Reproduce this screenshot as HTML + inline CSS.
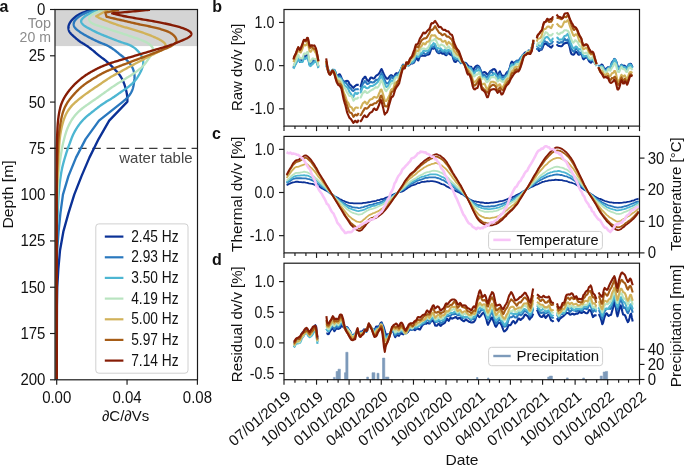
<!DOCTYPE html><html><head><meta charset="utf-8"><title>dv/v figure</title><style>html,body{margin:0;padding:0;background:#fff;width:685px;height:465px;overflow:hidden}svg text{font-family:"Liberation Sans",sans-serif}</style></head><body>
<svg width="685" height="465" viewBox="0 0 685 465" style="display:block;will-change:transform">
<rect width="685" height="465" fill="#fff"/>
<rect x="55.0" y="9.5" width="142.5" height="36.6" fill="#d4d4d4"/>
<line x1="49.9" y1="148.4" x2="197.5" y2="148.4" stroke="#3a3a3a" stroke-width="1.4" stroke-dasharray="8.4 5.77"/>
<defs><clipPath id="ca"><rect x="55.0" y="9.5" width="142.5" height="370.3"/></clipPath></defs>
<g fill="none" stroke-width="2.35" stroke-linejoin="round" clip-path="url(#ca)">
<path d="M90.5,9.8 L89.84,10.05 L88.93,10.38 L87.85,10.77 L86.6,11.22 L85.16,11.75 L83.65,12.33 L82.19,12.93 L80.79,13.54 L79.57,14.13 L78.54,14.68 L77.65,15.21 L76.81,15.76 L76.01,16.33 L75.24,16.92 L74.5,17.54 L73.81,18.15 L73.16,18.77 L72.54,19.39 L71.98,19.99 L71.45,20.6 L70.97,21.2 L70.53,21.81 L70.11,22.44 L69.74,23.08 L69.4,23.72 L69.12,24.35 L68.88,24.95 L68.7,25.52 L68.58,26.04 L68.49,26.5 L68.44,26.92 L68.42,27.29 L68.41,27.62 L68.42,27.92 L68.44,28.21 L68.47,28.49 L68.51,28.77 L68.55,29.03 L68.6,29.3 L68.66,29.57 L68.73,29.83 L68.79,30.07 L68.86,30.31 L68.94,30.54 L69.02,30.77 L69.11,31 L69.21,31.24 L69.33,31.49 L69.47,31.75 L69.64,32.05 L69.84,32.36 L70.07,32.69 L70.33,33.02 L70.62,33.38 L70.96,33.75 L71.33,34.12 L71.74,34.52 L72.18,34.93 L72.64,35.35 L73.14,35.8 L73.68,36.27 L74.26,36.79 L74.88,37.35 L75.52,37.92 L76.19,38.52 L76.87,39.11 L77.55,39.69 L78.23,40.25 L78.91,40.77 L79.57,41.26 L80.22,41.72 L80.88,42.17 L81.56,42.6 L82.24,43.02 L82.93,43.43 L83.63,43.85 L84.32,44.27 L85.02,44.7 L85.73,45.15 L86.43,45.61 L87.14,46.09 L87.86,46.59 L88.58,47.11 L89.32,47.65 L90.04,48.2 L90.77,48.76 L91.49,49.32 L92.19,49.87 L92.87,50.42 L93.54,50.96 L94.18,51.49 L94.81,52.02 L95.41,52.53 L96.01,53.04 L96.6,53.56 L97.2,54.07 L97.81,54.59 L98.43,55.11 L99.06,55.63 L99.72,56.16 L100.38,56.67 L101.02,57.15 L101.67,57.62 L102.31,58.08 L102.97,58.55 L103.62,59.02 L104.3,59.53 L105,60.07 L105.74,60.66 L106.5,61.29 L107.32,62.01 L108.23,62.85 L109.17,63.74 L110.14,64.69 L111.12,65.66 L112.09,66.65 L113.02,67.61 L113.93,68.56 L114.75,69.43 L115.5,70.22 L116.14,70.91 L116.73,71.55 L117.27,72.15 L117.76,72.7 L118.22,73.23 L118.65,73.75 L119.06,74.27 L119.47,74.81 L119.89,75.38 L120.31,76 L120.73,76.65 L121.15,77.32 L121.55,78.01 L121.93,78.72 L122.3,79.43 L122.65,80.14 L122.98,80.85 L123.29,81.56 L123.59,82.26 L123.87,82.96 L124.14,83.65 L124.39,84.35 L124.63,85.06 L124.86,85.77 L125.07,86.47 L125.28,87.19 L125.48,87.89 L125.67,88.58 L125.84,89.26 L126.01,89.91 L126.17,90.55 L126.31,91.17 L126.45,91.77 L126.57,92.36 L126.69,92.92 L126.79,93.49 L126.89,94.05 L126.98,94.61 L127.06,95.17 L127.13,95.77 L127.19,96.39 L127.24,97.05 L127.29,97.74 L127.34,98.47 L127.37,99.18 L127.38,99.81 L127.39,100.37 L127.39,100.86 L127.39,101.28 L127.4,101.6 L127.21,101.8 L126.98,102.06 L126.96,102.08 L109.2,120.59 L98.6,139.1 L89.4,157.62 L81.52,176.13 L74.25,194.65 L68.47,213.16 L63.34,231.68 L60.03,250.19 L58.35,268.71 L57.24,287.23 L56.96,305.74 L56.9,324.25 L56.86,342.77 L56.83,361.29 L56.8,379.8" stroke="#0b3196"/>
<path d="M94,9.8 L93.33,10.06 L92.43,10.39 L91.34,10.79 L90.07,11.26 L88.62,11.81 L87.1,12.4 L85.61,13 L84.22,13.6 L82.99,14.18 L81.99,14.69 L81.13,15.18 L80.31,15.68 L79.54,16.19 L78.79,16.72 L78.09,17.26 L77.44,17.81 L76.83,18.35 L76.27,18.89 L75.78,19.42 L75.35,19.93 L74.98,20.42 L74.68,20.88 L74.43,21.31 L74.23,21.73 L74.07,22.12 L73.94,22.49 L73.84,22.86 L73.77,23.2 L73.73,23.53 L73.7,23.85 L73.69,24.15 L73.7,24.43 L73.72,24.7 L73.75,24.95 L73.8,25.2 L73.85,25.44 L73.91,25.67 L73.98,25.9 L74.06,26.12 L74.15,26.34 L74.24,26.54 L74.33,26.72 L74.42,26.89 L74.51,27.05 L74.62,27.22 L74.74,27.41 L74.89,27.61 L75.07,27.84 L75.3,28.11 L75.61,28.44 L75.99,28.82 L76.48,29.27 L77.07,29.78 L77.74,30.32 L78.46,30.87 L79.2,31.41 L79.93,31.92 L80.64,32.41 L81.36,32.89 L82.07,33.34 L82.77,33.78 L83.5,34.22 L84.26,34.67 L85.04,35.11 L85.85,35.57 L86.66,36.02 L87.48,36.46 L88.31,36.9 L89.14,37.34 L89.97,37.78 L90.82,38.21 L91.68,38.66 L92.56,39.1 L93.45,39.55 L94.35,39.99 L95.26,40.43 L96.16,40.87 L97.06,41.29 L97.95,41.69 L98.83,42.08 L99.71,42.45 L100.6,42.81 L101.49,43.17 L102.39,43.52 L103.29,43.86 L104.18,44.21 L105.05,44.56 L105.9,44.92 L106.72,45.3 L107.53,45.68 L108.3,46.08 L109.06,46.5 L109.81,46.93 L110.54,47.37 L111.26,47.81 L111.97,48.28 L112.65,48.73 L113.31,49.2 L113.96,49.66 L114.58,50.11 L115.17,50.55 L115.71,50.97 L116.22,51.38 L116.7,51.78 L117.18,52.17 L117.65,52.57 L118.13,52.97 L118.63,53.39 L119.15,53.83 L119.72,54.29 L120.32,54.77 L120.95,55.26 L121.59,55.76 L122.26,56.27 L122.93,56.79 L123.59,57.32 L124.24,57.84 L124.88,58.39 L125.51,58.94 L126.13,59.51 L126.74,60.09 L127.36,60.72 L127.98,61.37 L128.6,62.05 L129.21,62.75 L129.79,63.46 L130.34,64.18 L130.85,64.89 L131.32,65.6 L131.74,66.3 L132.13,67.01 L132.48,67.73 L132.81,68.48 L133.12,69.24 L133.4,70.03 L133.64,70.82 L133.86,71.6 L134.05,72.37 L134.2,73.13 L134.33,73.85 L134.42,74.53 L134.48,75.17 L134.52,75.76 L134.54,76.35 L134.54,76.92 L134.53,77.52 L134.5,78.13 L134.45,78.77 L134.39,79.47 L134.31,80.24 L134.21,81.09 L134.08,82.03 L133.93,83.06 L133.77,84.11 L133.58,85.2 L133.36,86.25 L133.13,87.3 L132.88,88.26 L132.6,89.16 L132.32,89.96 L132.04,90.68 L131.72,91.38 L131.39,92.04 L131.04,92.67 L130.67,93.29 L130.28,93.89 L129.9,94.46 L129.52,95 L129.14,95.5 L128.78,95.97 L128.45,96.37 L128.15,96.73 L127.87,97.05 L127.6,97.34 L127.34,97.61 L127.07,97.89 L126.79,98.17 L126.48,98.46 L126.14,98.78 L125.75,99.14 L125.34,99.52 L124.9,99.9 L124.45,100.3 L123.99,100.7 L123.5,101.11 L123,101.53 L122.47,101.96 L122.32,102.08 L99,120.59 L85.6,139.1 L76,157.62 L68.44,176.13 L62.95,194.65 L60.43,213.16 L58.56,231.68 L57.19,250.19 L56.71,268.71 L56.66,287.23 L56.67,305.74 L56.69,324.25 L56.73,342.77 L56.77,361.29 L56.8,379.8" stroke="#2a78be"/>
<path d="M97.6,9.8 L96.97,10.1 L96.1,10.5 L95.06,10.98 L93.84,11.55 L92.45,12.2 L91,12.89 L89.57,13.6 L88.23,14.29 L87.09,14.94 L86.18,15.49 L85.42,16 L84.75,16.5 L84.12,17.01 L83.54,17.52 L83.02,18.03 L82.57,18.5 L82.18,18.95 L81.88,19.35 L81.63,19.7 L81.45,20.01 L81.32,20.28 L81.23,20.49 L81.18,20.68 L81.14,20.84 L81.12,20.97 L81.11,21.1 L81.1,21.23 L81.11,21.37 L81.13,21.53 L81.16,21.72 L81.22,21.94 L81.31,22.19 L81.44,22.48 L81.62,22.81 L81.85,23.17 L82.14,23.56 L82.48,23.97 L82.87,24.39 L83.3,24.81 L83.75,25.21 L84.24,25.6 L84.75,25.97 L85.27,26.33 L85.84,26.69 L86.43,27.05 L87.06,27.41 L87.7,27.77 L88.38,28.14 L89.09,28.52 L89.83,28.91 L90.62,29.32 L91.44,29.75 L92.32,30.21 L93.25,30.69 L94.19,31.16 L95.16,31.65 L96.11,32.11 L97.06,32.57 L97.98,33 L98.87,33.41 L99.74,33.79 L100.59,34.15 L101.44,34.51 L102.3,34.86 L103.16,35.2 L104.02,35.54 L104.88,35.88 L105.73,36.21 L106.59,36.55 L107.46,36.89 L108.35,37.24 L109.27,37.61 L110.21,37.99 L111.16,38.37 L112.11,38.75 L113.07,39.13 L114.02,39.5 L114.92,39.86 L115.79,40.19 L116.58,40.49 L117.28,40.75 L117.9,40.98 L118.44,41.18 L118.96,41.36 L119.45,41.54 L119.94,41.71 L120.45,41.88 L120.99,42.07 L121.59,42.27 L122.26,42.5 L123.02,42.75 L123.86,43.02 L124.73,43.3 L125.65,43.59 L126.56,43.89 L127.47,44.2 L128.36,44.53 L129.21,44.87 L130.03,45.23 L130.8,45.61 L131.54,46 L132.27,46.43 L132.99,46.89 L133.7,47.38 L134.4,47.89 L135.07,48.41 L135.72,48.95 L136.34,49.5 L136.93,50.05 L137.49,50.6 L138.03,51.16 L138.54,51.73 L139.02,52.31 L139.49,52.91 L139.93,53.51 L140.35,54.12 L140.74,54.74 L141.11,55.36 L141.43,55.97 L141.74,56.59 L142.02,57.21 L142.27,57.82 L142.5,58.44 L142.7,59.06 L142.87,59.69 L143.01,60.32 L143.12,60.95 L143.19,61.6 L143.24,62.25 L143.24,62.92 L143.21,63.6 L143.15,64.3 L143.04,65 L142.9,65.72 L142.72,66.44 L142.51,67.18 L142.26,67.94 L141.98,68.73 L141.67,69.52 L141.33,70.32 L140.94,71.17 L140.5,72.09 L140.02,73.03 L139.5,74 L138.94,74.98 L138.36,75.96 L137.76,76.91 L137.15,77.83 L136.52,78.71 L135.91,79.52 L135.29,80.29 L134.66,81.03 L134.01,81.74 L133.35,82.43 L132.68,83.1 L131.99,83.76 L131.27,84.41 L130.54,85.06 L129.79,85.7 L129.01,86.34 L128.22,86.97 L127.38,87.61 L126.54,88.23 L125.68,88.84 L124.8,89.44 L123.92,90.04 L123.03,90.63 L122.15,91.23 L121.27,91.82 L120.41,92.41 L119.55,93.01 L118.68,93.62 L117.82,94.23 L116.96,94.84 L116.09,95.45 L115.23,96.06 L114.36,96.66 L113.5,97.24 L112.64,97.82 L111.78,98.38 L110.91,98.93 L110.04,99.48 L109.15,100.01 L108.25,100.55 L107.36,101.07 L106.48,101.6 L105.61,102.12 L104.77,102.63 L103.96,103.15 L103.18,103.66 L102.41,104.18 L101.65,104.72 L100.88,105.28 L100.12,105.85 L99.37,106.42 L98.62,107 L97.88,107.56 L97.19,108.1 L96.55,108.6 L95.99,109.04 L95.52,109.4 L95.14,109.69 L94.83,109.93 L94.55,110.15 L94.3,110.35 L94.03,110.56 L93.74,110.79 L93.41,111.05 L93,111.38 L92.48,111.79 L91.85,112.29 L91.09,112.89 L90.25,113.56 L89.38,114.25 L88.48,114.97 L87.62,115.68 L86.75,116.41 L85.92,117.13 L85.14,117.85 L84.41,118.56 L83.71,119.26 L83.02,119.98 L82.35,120.72 L81.68,121.48 L81.02,122.26 L80.37,123.04 L79.74,123.85 L79.12,124.66 L78.52,125.48 L77.93,126.31 L77.36,127.16 L76.8,128.02 L76.25,128.9 L75.72,129.79 L75.2,130.69 L74.69,131.61 L74.2,132.52 L73.74,133.44 L73.29,134.35 L72.86,135.27 L72.43,136.23 L72,137.26 L71.57,138.35 L71.15,139.49 L70.71,140.7 L70.24,142 L69.78,143.26 L69.39,144.3 L69.11,145.01 L68.93,145.45 L68.83,145.71 L68.77,145.84 L68.74,145.91 L68.73,145.94 L68.72,145.97 L68.7,146.01 L68.67,146.1 L68.6,146.27 L68.48,146.58 L68.24,147.24 L67.76,148.63 L67.06,150.77 L66.36,152.96 L65.71,155.04 L65.03,157.25 L64.36,159.53 L63.69,161.86 L63.07,164.21 L62.5,166.52 L62.01,168.73 L61.59,170.89 L61.19,173.07 L60.83,175.28 L60.5,177.52 L60.19,179.79 L59.9,182.1 L59.63,184.46 L59.38,186.87 L59.14,189.33 L58.91,191.86 L58.7,194.47 L58.51,197.14 L58.34,199.88 L58.19,202.67 L58.05,205.51 L57.93,208.38 L57.82,211.27 L57.71,214.18 L57.6,217.12 L57.48,220.3 L57.37,222.91 L57.28,224.6 L57.22,225.81 L57.16,226.92 L57.09,228.3 L57.02,230.28 L56.95,233.21 L56.89,237.29 L56.84,242.84 L56.8,250 L56.77,259.47 L56.76,271.53 L56.75,285.49 L56.75,300.66 L56.76,316.38 L56.77,331.94 L56.78,346.66 L56.79,359.87 L56.8,370.88 L56.8,379" stroke="#4db6d2"/>
<path d="M103,9.8 L102.4,10.04 L101.57,10.37 L100.57,10.75 L99.4,11.21 L98.08,11.74 L96.64,12.33 L95.26,12.93 L93.97,13.53 L92.91,14.1 L92.07,14.61 L91.44,15.05 L90.91,15.47 L90.47,15.88 L90.11,16.26 L89.82,16.63 L89.6,16.97 L89.42,17.3 L89.28,17.62 L89.18,17.93 L89.11,18.23 L89.08,18.53 L89.06,18.84 L89.08,19.16 L89.13,19.48 L89.21,19.81 L89.33,20.15 L89.47,20.49 L89.65,20.84 L89.87,21.17 L90.11,21.49 L90.37,21.81 L90.67,22.12 L91.02,22.44 L91.39,22.75 L91.81,23.05 L92.26,23.35 L92.75,23.64 L93.27,23.92 L93.81,24.19 L94.38,24.44 L94.96,24.67 L95.56,24.89 L96.16,25.1 L96.81,25.3 L97.46,25.5 L98.15,25.69 L98.86,25.89 L99.61,26.11 L100.39,26.33 L101.21,26.58 L102.07,26.84 L102.96,27.14 L103.9,27.45 L104.87,27.79 L105.86,28.13 L106.86,28.48 L107.89,28.84 L108.91,29.19 L109.93,29.53 L110.95,29.87 L112,30.22 L113.09,30.57 L114.22,30.93 L115.38,31.3 L116.55,31.67 L117.71,32.04 L118.86,32.4 L119.99,32.76 L121.07,33.1 L122.11,33.44 L123.09,33.76 L124.04,34.07 L124.96,34.37 L125.87,34.67 L126.75,34.97 L127.61,35.26 L128.47,35.55 L129.32,35.83 L130.17,36.12 L131.02,36.41 L131.89,36.7 L132.73,36.99 L133.57,37.28 L134.4,37.57 L135.22,37.85 L136.03,38.14 L136.82,38.42 L137.6,38.7 L138.36,38.97 L139.1,39.24 L139.82,39.51 L140.52,39.77 L141.2,40.02 L141.88,40.29 L142.53,40.54 L143.15,40.8 L143.77,41.06 L144.38,41.33 L144.97,41.61 L145.56,41.9 L146.13,42.19 L146.69,42.5 L147.23,42.81 L147.76,43.13 L148.28,43.46 L148.78,43.8 L149.25,44.14 L149.7,44.49 L150.12,44.84 L150.52,45.2 L150.91,45.57 L151.28,45.96 L151.63,46.36 L151.95,46.77 L152.24,47.18 L152.49,47.58 L152.71,47.97 L152.88,48.35 L153.02,48.7 L153.12,49.03 L153.19,49.34 L153.24,49.64 L153.27,49.91 L153.28,50.19 L153.28,50.47 L153.25,50.75 L153.21,51.06 L153.14,51.38 L153.04,51.74 L152.91,52.12 L152.74,52.53 L152.54,52.96 L152.3,53.41 L152.02,53.87 L151.71,54.37 L151.36,54.88 L150.98,55.42 L150.55,56 L150.1,56.61 L149.61,57.27 L149.1,57.99 L148.54,58.77 L147.95,59.62 L147.34,60.51 L146.71,61.42 L146.06,62.33 L145.38,63.24 L144.69,64.12 L143.98,64.95 L143.25,65.75 L142.51,66.51 L141.73,67.26 L140.91,68 L140.06,68.74 L139.18,69.46 L138.28,70.18 L137.36,70.89 L136.42,71.59 L135.48,72.27 L134.52,72.96 L133.54,73.64 L132.54,74.31 L131.51,74.97 L130.46,75.64 L129.4,76.3 L128.33,76.95 L127.25,77.61 L126.17,78.26 L125.1,78.93 L124.02,79.59 L122.93,80.27 L121.83,80.96 L120.71,81.66 L119.58,82.37 L118.46,83.08 L117.33,83.79 L116.21,84.51 L115.11,85.22 L114.03,85.93 L112.99,86.63 L111.96,87.33 L110.94,88.04 L109.92,88.75 L108.91,89.47 L107.92,90.19 L106.94,90.9 L105.97,91.6 L105.01,92.29 L104.09,92.96 L103.16,93.62 L102.25,94.27 L101.35,94.92 L100.45,95.56 L99.56,96.19 L98.69,96.81 L97.82,97.43 L96.97,98.03 L96.13,98.62 L95.32,99.19 L94.52,99.75 L93.74,100.29 L92.98,100.82 L92.25,101.32 L91.53,101.82 L90.82,102.3 L90.13,102.78 L89.44,103.25 L88.76,103.72 L88.1,104.18 L87.43,104.65 L86.78,105.1 L86.16,105.54 L85.57,105.96 L84.99,106.37 L84.43,106.78 L83.87,107.19 L83.31,107.61 L82.75,108.04 L82.18,108.49 L81.59,108.98 L80.98,109.48 L80.37,110.01 L79.75,110.56 L79.14,111.12 L78.54,111.69 L77.94,112.27 L77.35,112.86 L76.77,113.47 L76.2,114.09 L75.65,114.71 L75.11,115.35 L74.58,116.01 L74.06,116.67 L73.54,117.36 L73.04,118.05 L72.54,118.77 L72.05,119.5 L71.58,120.24 L71.11,121 L70.66,121.78 L70.21,122.58 L69.77,123.4 L69.34,124.25 L68.91,125.11 L68.5,125.99 L68.09,126.88 L67.71,127.78 L67.33,128.69 L66.98,129.59 L66.65,130.48 L66.32,131.4 L66.01,132.34 L65.7,133.32 L65.41,134.3 L65.13,135.29 L64.86,136.3 L64.59,137.31 L64.33,138.32 L64.08,139.29 L63.83,140.23 L63.62,141.04 L63.45,141.7 L63.31,142.27 L63.17,142.81 L63.04,143.34 L62.9,143.94 L62.74,144.64 L62.56,145.5 L62.34,146.58 L62.09,147.97 L61.8,149.62 L61.49,151.42 L61.16,153.38 L60.82,155.42 L60.48,157.58 L60.15,159.77 L59.83,162.01 L59.52,164.27 L59.25,166.53 L59.01,168.74 L58.8,170.87 L58.61,172.93 L58.45,174.97 L58.31,177.02 L58.17,179.13 L58.05,181.33 L57.93,183.66 L57.82,186.15 L57.71,188.88 L57.59,192.02 L57.48,194.85 L57.38,196.93 L57.3,198.71 L57.21,200.55 L57.13,202.77 L57.05,205.69 L56.97,209.62 L56.9,214.85 L56.84,221.63 L56.8,230 L56.77,241.08 L56.75,255.09 L56.74,271.24 L56.74,288.77 L56.75,306.88 L56.76,324.8 L56.77,341.76 L56.79,356.96 L56.8,369.64 L56.8,379" stroke="#b9e4c0"/>
<path d="M108,9.8 L96.2,16.2 L96.5,16.36 L96.85,16.56 L97.24,16.79 L97.67,17.04 L98.16,17.31 L98.7,17.59 L99.28,17.88 L99.96,18.22 L100.75,18.59 L101.65,19 L102.68,19.44 L103.88,19.93 L105.24,20.45 L106.68,20.98 L108.13,21.52 L109.59,22.04 L111.06,22.57 L112.46,23.07 L113.73,23.52 L114.84,23.92 L115.78,24.26 L116.6,24.56 L117.36,24.82 L118.02,25.06 L118.65,25.28 L119.27,25.49 L119.87,25.69 L120.5,25.9 L121.18,26.12 L121.92,26.35 L122.7,26.59 L123.51,26.82 L124.32,27.06 L125.14,27.28 L125.95,27.5 L126.76,27.72 L127.57,27.94 L128.38,28.16 L129.18,28.38 L129.99,28.61 L130.8,28.83 L131.61,29.06 L132.42,29.3 L133.24,29.53 L134.05,29.77 L134.87,30.01 L135.68,30.26 L136.49,30.51 L137.29,30.76 L138.09,31.01 L138.89,31.28 L139.7,31.55 L140.51,31.83 L141.33,32.11 L142.14,32.4 L142.95,32.69 L143.75,32.98 L144.53,33.26 L145.3,33.55 L146.06,33.82 L146.81,34.1 L147.53,34.37 L148.24,34.64 L148.94,34.9 L149.63,35.16 L150.31,35.43 L150.98,35.7 L151.66,35.97 L152.32,36.24 L152.99,36.52 L153.68,36.8 L154.36,37.1 L155.06,37.4 L155.75,37.71 L156.44,38.03 L157.11,38.34 L157.77,38.66 L158.4,38.97 L159.02,39.29 L159.6,39.6 L160.18,39.92 L160.74,40.25 L161.3,40.58 L161.84,40.93 L162.37,41.28 L162.87,41.64 L163.33,42 L163.75,42.35 L164.11,42.69 L164.43,43.01 L164.71,43.32 L164.93,43.61 L165.13,43.9 L165.29,44.17 L165.41,44.42 L165.51,44.66 L165.58,44.89 L165.63,45.12 L165.67,45.33 L165.68,45.55 L165.68,45.77 L165.66,45.99 L165.62,46.23 L165.56,46.47 L165.46,46.73 L165.35,46.99 L165.2,47.26 L165.03,47.53 L164.82,47.81 L164.6,48.09 L164.34,48.35 L164.08,48.59 L163.8,48.83 L163.49,49.06 L163.16,49.29 L162.76,49.54 L162.32,49.8 L161.8,50.09 L161.19,50.41 L160.48,50.77 L159.64,51.19 L158.68,51.66 L157.63,52.19 L156.54,52.73 L155.43,53.28 L154.29,53.85 L153.16,54.41 L152.05,54.97 L150.98,55.51 L149.96,56.02 L148.98,56.53 L147.99,57.03 L147,57.55 L146,58.06 L145,58.58 L144,59.1 L143,59.63 L142,60.15 L141,60.68 L140,61.2 L139,61.73 L138,62.25 L137,62.78 L136,63.3 L135,63.83 L134,64.36 L133,64.89 L132,65.43 L131,65.96 L130.01,66.5 L129.01,67.04 L128,67.59 L127,68.14 L126,68.69 L125,69.24 L124,69.79 L123,70.34 L121.99,70.9 L120.99,71.45 L119.98,72 L118.98,72.54 L118,73.07 L117.04,73.58 L116.08,74.09 L115.12,74.61 L114.16,75.12 L113.18,75.67 L112.18,76.23 L111.16,76.83 L110.1,77.47 L108.99,78.16 L107.86,78.88 L106.7,79.65 L105.52,80.44 L104.33,81.25 L103.14,82.07 L101.96,82.89 L100.79,83.69 L99.65,84.48 L98.55,85.23 L97.48,85.95 L96.43,86.66 L95.39,87.35 L94.36,88.04 L93.34,88.73 L92.33,89.41 L91.32,90.1 L90.32,90.79 L89.32,91.49 L88.32,92.2 L87.31,92.92 L86.28,93.66 L85.26,94.41 L84.23,95.16 L83.21,95.92 L82.19,96.69 L81.21,97.45 L80.25,98.2 L79.32,98.95 L78.43,99.67 L77.59,100.37 L76.77,101.06 L75.98,101.74 L75.2,102.42 L74.46,103.1 L73.74,103.78 L73.04,104.46 L72.36,105.17 L71.69,105.89 L71.04,106.64 L70.4,107.41 L69.79,108.19 L69.21,108.98 L68.65,109.77 L68.11,110.59 L67.58,111.42 L67.08,112.27 L66.6,113.14 L66.13,114.04 L65.67,114.97 L65.24,115.94 L64.82,116.94 L64.42,117.97 L64.03,119.03 L63.67,120.12 L63.32,121.21 L63,122.3 L62.69,123.39 L62.39,124.47 L62.12,125.52 L61.86,126.57 L61.61,127.63 L61.38,128.71 L61.16,129.79 L60.95,130.88 L60.76,131.97 L60.57,133.04 L60.4,134.11 L60.24,135.16 L60.09,136.18 L59.96,137.11 L59.85,137.92 L59.76,138.69 L59.68,139.42 L59.6,140.13 L59.53,140.89 L59.46,141.68 L59.39,142.56 L59.31,143.58 L59.22,144.74 L59.14,146.03 L59.05,147.38 L58.97,148.77 L58.89,150.21 L58.81,151.71 L58.73,153.26 L58.65,154.88 L58.57,156.53 L58.49,158.23 L58.4,159.97 L58.31,161.72 L58.23,163.49 L58.14,165.27 L58.05,167.1 L57.96,168.97 L57.86,170.94 L57.77,173.01 L57.68,175.2 L57.59,177.62 L57.45,180.62 L57.33,182.62 L57.26,183.44 L57.22,183.9 L57.18,184.34 L57.12,185.04 L57.02,186.6 L56.89,189.81 L56.81,194.61 L56.74,201.33 L56.7,210 L56.67,222.03 L56.66,237.61 L56.67,255.81 L56.68,275.7 L56.7,296.38 L56.72,316.9 L56.75,336.34 L56.77,353.79 L56.79,368.32 L56.8,379" stroke="#d1b25a"/>
<path d="M119,9.8 L105.4,12.7 L106.5,16.8 L107.27,16.97 L108.26,17.2 L109.43,17.47 L110.79,17.78 L112.39,18.14 L114.04,18.52 L115.75,18.91 L117.42,19.29 L119.02,19.66 L120.52,20.01 L121.98,20.35 L123.5,20.7 L125.06,21.07 L126.65,21.44 L128.25,21.82 L129.85,22.19 L131.44,22.56 L133.01,22.92 L134.54,23.27 L136.05,23.6 L137.52,23.92 L138.98,24.23 L140.45,24.53 L141.88,24.82 L143.32,25.11 L144.74,25.4 L146.12,25.68 L147.48,25.96 L148.79,26.24 L150.06,26.52 L151.31,26.8 L152.53,27.08 L153.71,27.35 L154.87,27.63 L156,27.9 L157.1,28.18 L158.17,28.45 L159.2,28.72 L160.19,28.99 L161.16,29.26 L162.07,29.53 L162.92,29.79 L163.75,30.05 L164.53,30.3 L165.27,30.56 L165.98,30.82 L166.67,31.09 L167.33,31.36 L167.98,31.64 L168.62,31.94 L169.22,32.24 L169.8,32.54 L170.34,32.85 L170.86,33.17 L171.36,33.49 L171.82,33.81 L172.27,34.14 L172.71,34.47 L173.12,34.82 L173.52,35.18 L173.91,35.55 L174.29,35.95 L174.66,36.36 L175,36.78 L175.31,37.21 L175.58,37.62 L175.81,38.02 L176,38.41 L176.15,38.76 L176.26,39.09 L176.35,39.39 L176.4,39.68 L176.44,39.94 L176.45,40.21 L176.44,40.46 L176.42,40.71 L176.37,40.96 L176.31,41.22 L176.21,41.49 L176.09,41.78 L175.92,42.09 L175.71,42.43 L175.44,42.78 L175.1,43.16 L174.71,43.55 L174.25,43.95 L173.75,44.36 L173.21,44.75 L172.65,45.12 L172.08,45.48 L171.52,45.82 L171,46.11 L170.48,46.39 L169.96,46.67 L169.41,46.94 L168.8,47.23 L168.11,47.56 L167.33,47.9 L166.4,48.3 L165.32,48.75 L164.11,49.25 L162.8,49.76 L161.4,50.31 L159.94,50.87 L158.41,51.44 L156.81,52.04 L155.17,52.65 L153.5,53.28 L151.8,53.92 L150.11,54.56 L148.28,55.25 L146.26,56.02 L144.09,56.84 L141.89,57.68 L139.67,58.52 L137.47,59.36 L135.31,60.18 L133.27,60.96 L131.36,61.68 L129.71,62.31 L128.27,62.86 L127.03,63.33 L125.98,63.73 L125.05,64.08 L124.22,64.4 L123.45,64.69 L122.7,64.97 L121.92,65.27 L121.08,65.59 L120.12,65.95 L119.09,66.34 L118.02,66.74 L116.95,67.14 L115.9,67.53 L114.85,67.92 L113.82,68.31 L112.78,68.71 L111.79,69.1 L110.82,69.48 L109.9,69.86 L109.02,70.23 L108.17,70.59 L107.37,70.94 L106.58,71.3 L105.8,71.65 L105.04,72.01 L104.28,72.37 L103.53,72.75 L102.77,73.13 L102,73.53 L101.24,73.94 L100.5,74.35 L99.78,74.76 L99.06,75.19 L98.34,75.61 L97.62,76.04 L96.9,76.48 L96.17,76.93 L95.43,77.39 L94.65,77.86 L93.87,78.34 L93.06,78.84 L92.22,79.34 L91.38,79.86 L90.54,80.38 L89.69,80.91 L88.86,81.44 L88.05,81.98 L87.26,82.51 L86.49,83.04 L85.74,83.58 L85,84.12 L84.27,84.68 L83.54,85.24 L82.83,85.8 L82.11,86.38 L81.42,86.96 L80.75,87.54 L80.09,88.11 L79.46,88.68 L78.85,89.25 L78.27,89.8 L77.72,90.34 L77.19,90.88 L76.66,91.42 L76.14,91.97 L75.63,92.52 L75.11,93.08 L74.58,93.66 L74.04,94.26 L73.49,94.88 L72.93,95.51 L72.36,96.15 L71.8,96.81 L71.24,97.47 L70.69,98.13 L70.15,98.81 L69.62,99.48 L69.12,100.16 L68.63,100.84 L68.16,101.52 L67.7,102.22 L67.26,102.93 L66.82,103.65 L66.4,104.37 L65.99,105.1 L65.6,105.84 L65.23,106.58 L64.87,107.32 L64.53,108.05 L64.22,108.78 L63.92,109.51 L63.65,110.24 L63.38,110.97 L63.13,111.7 L62.9,112.43 L62.67,113.18 L62.45,113.93 L62.24,114.69 L62.04,115.47 L61.84,116.26 L61.66,117.07 L61.48,117.89 L61.3,118.71 L61.14,119.54 L60.98,120.37 L60.83,121.21 L60.69,122.04 L60.55,122.87 L60.41,123.7 L60.27,124.53 L60.14,125.36 L60.01,126.19 L59.88,127.03 L59.76,127.88 L59.64,128.74 L59.52,129.61 L59.4,130.49 L59.28,131.35 L59.18,132.18 L59.08,132.91 L59.01,133.51 L58.94,134.04 L58.89,134.53 L58.83,135.03 L58.77,135.61 L58.7,136.28 L58.62,137.13 L58.53,138.22 L58.43,139.6 L58.33,141.18 L58.24,142.75 L58.15,144.33 L58.05,146.03 L57.96,147.83 L57.87,149.82 L57.78,151.99 L57.68,154.39 L57.59,157.04 L57.49,160.17 L57.39,162.92 L57.3,164.69 L57.23,166.11 L57.15,167.59 L57.06,169.62 L56.97,172.57 L56.88,176.81 L56.8,182.68 L56.74,190.28 L56.7,200 L56.67,213.08 L56.66,229.77 L56.67,249.12 L56.68,270.18 L56.7,292 L56.72,313.62 L56.75,334.08 L56.77,352.43 L56.79,367.72 L56.8,379" stroke="#a65c16"/>
<path d="M150,9.8 L148.95,9.9 L147.58,10.03 L145.96,10.19 L143.93,10.38 L141.78,10.58 L139.52,10.8 L137.27,11.01 L135.04,11.22 L132.92,11.42 L131,11.6 L129.08,11.78 L126.97,11.97 L124.76,12.17 L122.54,12.37 L120.31,12.57 L118.18,12.76 L116.18,12.94 L114.59,13.09 L113.23,13.21 L112.2,13.3 L112.65,13.42 L113.2,13.57 L113.83,13.75 L114.53,13.94 L115.31,14.15 L116.19,14.38 L117.19,14.64 L118.31,14.91 L119.45,15.18 L120.64,15.45 L121.88,15.71 L123.22,15.98 L124.65,16.25 L126.16,16.53 L127.72,16.82 L129.35,17.11 L130.99,17.4 L132.67,17.7 L134.35,17.99 L136.03,18.29 L137.79,18.59 L139.66,18.91 L141.64,19.24 L143.68,19.58 L145.78,19.93 L147.81,20.26 L149.8,20.6 L151.7,20.92 L153.53,21.24 L155.18,21.54 L156.68,21.82 L158.07,22.08 L159.37,22.33 L160.6,22.58 L161.76,22.81 L162.88,23.05 L163.98,23.28 L165.05,23.51 L166.16,23.75 L167.3,24 L168.45,24.26 L169.6,24.52 L170.73,24.77 L171.84,25.03 L172.93,25.29 L174.01,25.55 L175.06,25.82 L176.09,26.09 L177.09,26.36 L178.06,26.64 L179.02,26.93 L179.96,27.22 L180.9,27.52 L181.82,27.83 L182.72,28.14 L183.59,28.46 L184.43,28.78 L185.22,29.1 L185.98,29.42 L186.7,29.74 L187.38,30.06 L188.06,30.4 L188.7,30.76 L189.29,31.13 L189.8,31.49 L190.23,31.85 L190.58,32.2 L190.84,32.51 L191.03,32.8 L191.16,33.05 L191.25,33.29 L191.31,33.5 L191.35,33.72 L191.36,33.92 L191.35,34.13 L191.31,34.34 L191.25,34.57 L191.17,34.81 L191.04,35.06 L190.88,35.33 L190.67,35.62 L190.37,35.95 L190,36.31 L189.54,36.68 L189.01,37.08 L188.41,37.46 L187.78,37.83 L187.15,38.18 L186.54,38.49 L185.97,38.77 L185.43,39.03 L184.93,39.26 L184.44,39.48 L183.95,39.69 L183.46,39.9 L182.93,40.12 L182.35,40.36 L181.73,40.61 L181.02,40.9 L180.23,41.23 L179.4,41.57 L178.6,41.91 L177.78,42.25 L176.96,42.61 L176.09,42.97 L175.14,43.36 L174.11,43.78 L172.96,44.23 L171.67,44.7 L170.23,45.2 L168.61,45.74 L166.8,46.32 L164.85,46.92 L162.8,47.53 L160.66,48.17 L158.49,48.81 L156.31,49.45 L154.13,50.08 L152.02,50.71 L150,51.3 L147.98,51.9 L145.87,52.52 L143.69,53.17 L141.51,53.81 L139.34,54.45 L137.2,55.08 L135.14,55.68 L133.19,56.26 L131.36,56.8 L129.7,57.29 L128.27,57.71 L127.02,58.09 L125.97,58.4 L125.05,58.68 L124.22,58.92 L123.45,59.16 L122.69,59.39 L121.92,59.62 L121.07,59.87 L120.11,60.16 L119.08,60.47 L118.05,60.78 L117.03,61.09 L116.01,61.39 L115.01,61.69 L114.01,62 L113.02,62.31 L112.02,62.63 L111.03,62.97 L110.03,63.31 L109.03,63.67 L108,64.05 L106.95,64.44 L105.91,64.84 L104.86,65.26 L103.82,65.68 L102.79,66.11 L101.8,66.53 L100.83,66.95 L99.91,67.36 L99.03,67.77 L98.18,68.17 L97.37,68.57 L96.56,68.97 L95.78,69.37 L94.99,69.78 L94.23,70.19 L93.48,70.6 L92.72,71.01 L91.97,71.43 L91.23,71.85 L90.49,72.28 L89.77,72.7 L89.06,73.13 L88.35,73.56 L87.66,73.99 L86.98,74.42 L86.3,74.86 L85.63,75.3 L84.98,75.75 L84.34,76.19 L83.71,76.63 L83.1,77.08 L82.51,77.52 L81.92,77.97 L81.34,78.42 L80.76,78.88 L80.18,79.34 L79.6,79.82 L79.02,80.31 L78.45,80.81 L77.88,81.31 L77.31,81.81 L76.75,82.32 L76.2,82.84 L75.65,83.37 L75.1,83.9 L74.55,84.45 L74.01,85 L73.46,85.58 L72.9,86.17 L72.34,86.79 L71.77,87.43 L71.2,88.08 L70.63,88.74 L70.07,89.41 L69.53,90.08 L69,90.75 L68.48,91.41 L67.99,92.06 L67.52,92.7 L67.06,93.34 L66.62,93.99 L66.18,94.63 L65.76,95.28 L65.34,95.94 L64.94,96.59 L64.55,97.25 L64.18,97.9 L63.81,98.56 L63.47,99.22 L63.14,99.86 L62.83,100.51 L62.53,101.14 L62.25,101.78 L61.98,102.42 L61.71,103.08 L61.46,103.75 L61.21,104.45 L60.97,105.16 L60.74,105.89 L60.52,106.63 L60.32,107.38 L60.12,108.15 L59.94,108.92 L59.76,109.7 L59.6,110.48 L59.44,111.28 L59.28,112.1 L59.13,112.94 L58.98,113.79 L58.84,114.65 L58.7,115.52 L58.57,116.42 L58.45,117.32 L58.33,118.24 L58.22,119.16 L58.11,120.09 L58.01,121.04 L57.92,121.99 L57.83,122.93 L57.76,123.87 L57.69,124.79 L57.62,125.72 L57.56,126.67 L57.51,127.64 L57.46,128.65 L57.41,129.7 L57.35,130.82 L57.3,131.97 L57.25,133.11 L57.21,134.19 L57.17,135.23 L57.13,136.29 L57.09,137.39 L57.05,138.57 L57.01,139.88 L56.97,141.57 L56.91,143.63 L56.85,145.18 L56.83,145.59 L56.83,145.61 L56.82,145.7 L56.81,145.79 L56.81,145.8 L56.8,145.98 L56.76,147.23 L56.72,152.68 L56.71,159.99 L56.7,170 L56.7,184.39 L56.7,203.37 L56.71,225.76 L56.72,250.38 L56.74,276.06 L56.75,301.62 L56.77,325.87 L56.78,347.63 L56.79,365.74 L56.8,379" stroke="#861c05"/>
</g>
<rect x="95.8" y="223.9" width="92.2" height="149.3" rx="3" fill="#fff" fill-opacity="0.8" stroke="#d0d0d0" stroke-width="1"/>
<line x1="104.8" y1="236.6" x2="123.4" y2="236.6" stroke="#0b3196" stroke-width="2.2"/>
<text transform="translate(131.20,241.80) scale(0.905,1.040)" font-size="15.2" text-anchor="start" fill="#111">2.45 Hz</text>
<line x1="104.8" y1="257.3" x2="123.4" y2="257.3" stroke="#2a78be" stroke-width="2.2"/>
<text transform="translate(131.20,262.47) scale(0.905,1.040)" font-size="15.2" text-anchor="start" fill="#111">2.93 Hz</text>
<line x1="104.8" y1="277.9" x2="123.4" y2="277.9" stroke="#4db6d2" stroke-width="2.2"/>
<text transform="translate(131.20,283.14) scale(0.905,1.040)" font-size="15.2" text-anchor="start" fill="#111">3.50 Hz</text>
<line x1="104.8" y1="298.6" x2="123.4" y2="298.6" stroke="#b9e4c0" stroke-width="2.2"/>
<text transform="translate(131.20,303.81) scale(0.905,1.040)" font-size="15.2" text-anchor="start" fill="#111">4.19 Hz</text>
<line x1="104.8" y1="319.3" x2="123.4" y2="319.3" stroke="#d1b25a" stroke-width="2.2"/>
<text transform="translate(131.20,324.48) scale(0.905,1.040)" font-size="15.2" text-anchor="start" fill="#111">5.00 Hz</text>
<line x1="104.8" y1="339.9" x2="123.4" y2="339.9" stroke="#a65c16" stroke-width="2.2"/>
<text transform="translate(131.20,345.15) scale(0.905,1.040)" font-size="15.2" text-anchor="start" fill="#111">5.97 Hz</text>
<line x1="104.8" y1="360.6" x2="123.4" y2="360.6" stroke="#861c05" stroke-width="2.2"/>
<text transform="translate(131.20,365.82) scale(0.905,1.040)" font-size="15.2" text-anchor="start" fill="#111">7.14 Hz</text>
<rect x="55.0" y="9.5" width="142.5" height="370.3" fill="none" stroke="#1a1a1a" stroke-width="1.2"/>
<line x1="50.0" y1="9.50" x2="55.0" y2="9.50" stroke="#1a1a1a" stroke-width="1.15"/>
<text transform="translate(45.40,15.00) scale(1.000,1.070)" font-size="15" text-anchor="end" fill="#111">0</text>
<line x1="50.0" y1="55.79" x2="55.0" y2="55.79" stroke="#1a1a1a" stroke-width="1.15"/>
<text transform="translate(45.40,61.29) scale(1.000,1.070)" font-size="15" text-anchor="end" fill="#111">25</text>
<line x1="50.0" y1="102.08" x2="55.0" y2="102.08" stroke="#1a1a1a" stroke-width="1.15"/>
<text transform="translate(45.40,107.58) scale(1.000,1.070)" font-size="15" text-anchor="end" fill="#111">50</text>
<line x1="50.0" y1="148.36" x2="55.0" y2="148.36" stroke="#1a1a1a" stroke-width="1.15"/>
<text transform="translate(45.40,153.86) scale(1.000,1.070)" font-size="15" text-anchor="end" fill="#111">75</text>
<line x1="50.0" y1="194.65" x2="55.0" y2="194.65" stroke="#1a1a1a" stroke-width="1.15"/>
<text transform="translate(45.40,200.15) scale(1.000,1.070)" font-size="15" text-anchor="end" fill="#111">100</text>
<line x1="50.0" y1="240.94" x2="55.0" y2="240.94" stroke="#1a1a1a" stroke-width="1.15"/>
<text transform="translate(45.40,246.44) scale(1.000,1.070)" font-size="15" text-anchor="end" fill="#111">125</text>
<line x1="50.0" y1="287.23" x2="55.0" y2="287.23" stroke="#1a1a1a" stroke-width="1.15"/>
<text transform="translate(45.40,292.73) scale(1.000,1.070)" font-size="15" text-anchor="end" fill="#111">150</text>
<line x1="50.0" y1="333.51" x2="55.0" y2="333.51" stroke="#1a1a1a" stroke-width="1.15"/>
<text transform="translate(45.40,339.01) scale(1.000,1.070)" font-size="15" text-anchor="end" fill="#111">175</text>
<line x1="50.0" y1="379.80" x2="55.0" y2="379.80" stroke="#1a1a1a" stroke-width="1.15"/>
<text transform="translate(45.40,385.30) scale(1.000,1.070)" font-size="15" text-anchor="end" fill="#111">200</text>
<line x1="56.70" y1="379.8" x2="56.70" y2="384.8" stroke="#1a1a1a" stroke-width="1.15"/>
<text transform="translate(56.70,402.70) scale(1.000,1.070)" font-size="15" text-anchor="middle" fill="#111">0.00</text>
<line x1="127.05" y1="379.8" x2="127.05" y2="384.8" stroke="#1a1a1a" stroke-width="1.15"/>
<text transform="translate(127.05,402.70) scale(1.000,1.070)" font-size="15" text-anchor="middle" fill="#111">0.04</text>
<line x1="197.40" y1="379.8" x2="197.40" y2="384.8" stroke="#1a1a1a" stroke-width="1.15"/>
<text transform="translate(197.40,402.70) scale(1.000,1.070)" font-size="15" text-anchor="middle" fill="#111">0.08</text>
<text transform="translate(125.60,421.20)" font-size="15" text-anchor="middle" fill="#111">&#8706;C/&#8706;Vs</text>
<text transform="translate(12.90,194.40) rotate(-90) scale(1.050,1.000)" font-size="15" text-anchor="middle" fill="#111">Depth [m]</text>
<text transform="translate(50.90,27.90) scale(0.960,1.000)" font-size="15" text-anchor="end" fill="#8c8c8c">Top</text>
<text transform="translate(50.90,41.90) scale(0.940,1.000)" font-size="15" text-anchor="end" fill="#8c8c8c">20 m</text>
<text transform="translate(192.60,162.60)" font-size="15" text-anchor="end" fill="#464646">water table</text>
<text transform="translate(-0.60,11.60)" font-size="16" text-anchor="start" fill="#111" font-weight="bold">a</text>
<g fill="none" stroke-width="2.1" stroke-linejoin="round">
<path d="M293.5,67.92 L294.3,65.76 L295.1,62.87 L295.9,60.41 L296.7,59.91 L297.5,59.22 L298.3,56.87 L299.1,58.01 L299.9,60.57 L300.7,61.81 L301.5,61.11 L302.3,59.68 L303.1,57.79 L303.9,56.16 L304.7,56.18 L305.5,56.51 L306.3,55.94 L307.1,54.65 L307.9,54.97 L308.7,59.5 L309.5,63.89 L310.3,63.34 L311.1,61.61 L311.9,60.33 L312.7,59.71 L313.5,59.94 L314.3,60.16 L315.1,60.31 L315.9,60.19 L316.7,61.18 L317.5,62.69 L318.3,66.07 L318.4,66.49" stroke="#0b3196"/>
<path d="M326.2,66 L327,66.99 L327.8,68.3 L328.6,70.25 L329.4,71.65 L330.2,72.67 L331,72.28 L331.8,71.04 L332.6,70.3 L333.4,70.6 L334.2,70.01 L335,71.09 L335.8,73.74 L336.6,75.81 L337.4,75.52 L338.2,75.22 L339,74.41 L339.8,74.35 L340.6,75.7 L341.4,77.73 L342.2,79.55 L343,80.75 L343.8,81.45 L344.6,81.63 L345.4,81.37 L346.2,80.97 L347,80.91 L347.8,80.99 L348.6,81.9 L349.4,83.95 L350.2,84.81 L351,85.34 L351.8,86.32 L352.6,87.33 L353.4,87.83 L354.2,86.84 L355,86.09 L355.8,85.46 L356.6,84.91 L357.4,84.8 L358.2,84.9 L358.7,84.97" stroke="#0b3196"/>
<path d="M359.9,85.88 L360.7,86.38 L361.5,83.5 L362.3,80.49 L363.1,78.66 L363.9,78.25 L364.7,76.73 L365.5,76.84 L366.3,78.64 L367.1,79.93 L367.9,80.64 L368.7,81.23 L369.5,79.83 L370.3,78.02 L371.1,77.51 L371.9,77.75 L372.7,78.2 L373.5,78.52 L374.3,78.27 L375.1,77.14 L375.9,76.01 L376.7,75.31 L377.5,74.79 L378.3,74.33 L379.1,73.28 L379.9,72.21 L380.7,70.33 L381.5,68.99 L382.3,70.48 L383.1,72.54 L383.9,74.28 L384.7,75.73 L385.5,77 L386.3,78.32 L387.1,78.7 L387.9,78.6 L388.7,77.58 L389.5,76.52 L390.3,75.64 L391.1,75.18 L391.9,75.52 L392.7,76.45 L393.5,77.58 L394.3,76.48 L395.1,74.55 L395.9,73.43 L396.7,73.16 L397.5,73.61 L398.3,73.51 L399.1,72.79 L399.9,71.32 L400.7,70 L401.5,68.41 L402.3,65.92 L403.1,64.65 L403.9,65.84 L404.7,67.53 L405.5,66.18 L406.3,64.82 L407.1,64.36 L407.9,64.73 L408.7,65.39 L409.5,64.75 L410.3,63.69 L411.1,63.4 L411.9,63.45 L412.7,63.35 L413.5,62.92 L414.3,62.25 L415.1,60.02 L415.9,57.6 L416.7,58.02 L417.5,59.84 L418.3,60.5 L419.1,58.42 L419.9,56.27 L420.7,56.02 L421.5,55.77 L422.3,55.74 L423.1,55.81 L423.9,55.67 L424.7,55.83 L425.5,55.74 L426.3,54.9 L427.1,54.5 L427.9,54.59 L428.7,54.5 L429.5,53.89 L430.3,51.64 L431.1,49.1 L431.9,48.38 L432.7,48.52 L433.5,48.79 L434.3,48.05 L435.1,47.32 L435.9,49.27 L436.7,51.24 L437.5,52.26 L438.3,52.8 L439.1,53.28 L439.9,52.84 L440.7,52.32 L441.5,53.02 L442.3,53.69 L443.1,53.67 L443.9,53.5 L444.7,53.98 L445.5,55.01 L446.3,55.29 L447.1,54.33 L447.9,53.43 L448.7,52.95 L449.5,53.75 L450.3,54.62 L451.1,54.92 L451.9,54.96 L452.7,56.67 L453.5,59.38 L454.3,61.44 L455.1,61.84 L455.9,61.83 L456.7,60.75 L457.5,59.81 L458.3,60.1 L459.1,60.89 L459.9,61.66 L460.7,62.17 L461.5,62.37 L462.3,62.67 L463.1,63.02 L463.9,63.27 L464.7,63.1 L465.5,62.87 L466.3,63.44 L467.1,64.47 L467.9,65.37 L468.7,66.29 L469.5,66.93 L470.3,66.81 L471.1,66.73 L471.9,68.35 L472.7,70 L473.5,69.84 L474.3,68.14 L475.1,67.01 L475.9,66.24 L476.7,65.84 L477.5,65.59 L478.3,66.03 L479.1,66.63 L479.9,68.52 L480.7,70.4 L481.5,72.29 L482.3,72.86 L483.1,72.7 L483.9,72.19 L484.7,71.97 L485.5,72.61 L486.3,73.34 L487.1,74.22 L487.9,74.5 L488.7,73.58 L489.5,72.33 L490.3,71.17 L491.1,70.64 L491.9,70.24 L492.7,69.58 L493.5,69.23 L494.3,69.12 L495.1,69.62 L495.9,71 L496.7,73.34 L497.5,75.08 L498.3,74.64 L499.1,72.58 L499.9,71.45 L500.7,73.53 L501.5,75.28 L502.3,75.6 L503.1,75.73 L503.9,75.89 L504.7,76.14 L505.5,74.67 L506.3,73.2 L507.1,72.2 L507.9,71.63 L508.7,71.05 L509.5,68.7 L510.3,65.67 L511.1,62.84 L511.9,61.66 L512.7,62.25 L513.5,62.8 L514.3,63.02 L515.1,62.21 L515.9,61.65 L516.7,61.26 L517.5,61.48 L518.3,61.7 L519.1,61.2 L519.9,59.95 L520.7,58.44 L521.5,57.03 L522.3,55.7 L523.1,54.76 L523.9,53.85 L524.7,52.88 L525.5,52.27 L526.3,52.43 L527.1,52.25 L527.9,51.68 L528.7,51.74 L529.5,51.71 L530.3,51.17 L531.1,49.06 L531.9,46.94 L532.7,44.65 L533.5,42.54" stroke="#0b3196"/>
<path d="M536.8,49.57 L537.6,48.53 L538.4,50.04 L539.2,50.94 L540,49.97 L540.8,49.09 L541.6,49.6 L542.4,48.17 L543.2,45.8 L544,44.52 L544.8,43.85 L545.6,43.39 L546.4,44.05 L547.2,44.79 L548,45.46 L548.8,45.85 L549.6,46.32 L550.4,47.19 L551.2,47.62 L552,46.68 L552.8,45.49 L553.2,45.83" stroke="#0b3196"/>
<path d="M556.5,44.17 L557.3,44.94 L558.1,45.59 L558.9,45.99 L559.7,46.05 L560.5,46.21 L561.3,46.31 L562.1,45.9 L562.9,44.94 L563.7,43.99 L564.5,43.19 L565.3,43.12 L566.1,43.06 L566.9,42.79 L567.7,42.44 L568.5,43.63 L569.3,45.58 L570.1,49.14 L570.9,52.86 L571.7,54.3 L572.5,54.45 L573.3,54.72 L574.1,54.36 L574.9,52.82 L575.7,51.75 L576.5,51.93 L577.3,52.69 L578.1,54.33 L578.9,54.74 L579.7,54.55 L580.5,53.78 L581.3,53.02 L582.1,55.3 L582.9,58.46 L583.7,59.29 L584.5,58.37 L585.3,57.85 L586.1,57.61 L586.9,57.28 L587.7,58.4 L588.5,60.11 L589.3,61.51 L590.1,62.08 L590.9,62.7 L591.7,62.04 L592.5,60.22 L593.3,59.68 L594.1,61.51 L594.9,63.37 L595.7,64.09 L596.5,64.71 L596.6,64.79" stroke="#0b3196"/>
<path d="M598.3,66.52 L599.1,66.67 L599.9,66.81 L600.7,65.97 L601.5,64.62 L602.3,64.75 L603.1,66.13 L603.9,67.7 L604.7,68.93 L605.5,69.67 L606.3,68.64 L607.1,67.94 L607.9,67.22 L608.7,67.62 L609.5,68.26 L610.3,67.76 L611.1,65.34 L611.9,63.15 L612.7,62.02 L613.5,60.95 L614.3,59.03 L615.1,59.6 L615.9,60.92 L616.7,63.32 L617.5,66 L618.3,67.18 L619.1,67.68 L619.9,67.31 L620.7,66.03 L621.5,64.89 L622.3,65.82 L623.1,66.38 L623.9,65.65 L624.7,65.75 L625.5,66.56 L626.3,67.65 L627.1,67.36 L627.9,66.55 L628.7,65.87 L629.5,64.98 L630.3,63.84 L631.1,64.11 L631.9,65.89 L632.5,67.25" stroke="#0b3196"/>
<path d="M293.5,67.55 L294.3,65.74 L295.1,64.57 L295.9,63.43 L296.7,61.35 L297.5,59.07 L298.3,58.05 L299.1,60.53 L299.9,61.99 L300.7,61.83 L301.5,61.87 L302.3,61.87 L303.1,59.95 L303.9,57.45 L304.7,57.24 L305.5,58 L306.3,57.74 L307.1,56.54 L307.9,56.71 L308.7,60.53 L309.5,64.39 L310.3,64.58 L311.1,63.6 L311.9,62.18 L312.7,61.41 L313.5,61.3 L314.3,61.13 L315.1,60.95 L315.9,60.51 L316.7,61.74 L317.5,63.88 L318.3,67.3 L318.4,67.63" stroke="#2a78be"/>
<path d="M326.2,63.87 L327,66.24 L327.8,69.62 L328.6,71.75 L329.4,72.35 L330.2,73.01 L331,72.73 L331.8,71.45 L332.6,70.47 L333.4,70.59 L334.2,69.93 L335,70.95 L335.8,73.81 L336.6,76.13 L337.4,76.43 L338.2,76.73 L339,76.35 L339.8,76.6 L340.6,77.32 L341.4,78.41 L342.2,80.15 L343,81.79 L343.8,82.61 L344.6,82.52 L345.4,82.47 L346.2,83.14 L347,84.1 L347.8,84.98 L348.6,86.41 L349.4,87.74 L350.2,87.88 L351,88.74 L351.8,90.06 L352.6,90.8 L353.4,91 L354.2,90.07 L355,89.48 L355.8,89.26 L356.6,89.27 L357.4,89.31 L358.2,89.13 L358.7,89.01" stroke="#2a78be"/>
<path d="M359.9,89.21 L360.7,89.65 L361.5,87.73 L362.3,85.39 L363.1,83.38 L363.9,82.7 L364.7,81.14 L365.5,81.19 L366.3,82.87 L367.1,84.02 L367.9,83.88 L368.7,83.52 L369.5,82.78 L370.3,82.15 L371.1,82.12 L371.9,82.37 L372.7,82.54 L373.5,82.3 L374.3,81.81 L375.1,80.9 L375.9,80.1 L376.7,79.88 L377.5,79.67 L378.3,79.39 L379.1,78.54 L379.9,77.06 L380.7,74.83 L381.5,73.07 L382.3,74.05 L383.1,76.02 L383.9,77.93 L384.7,80.05 L385.5,81.79 L386.3,83.23 L387.1,83.38 L387.9,83.24 L388.7,82.62 L389.5,81.42 L390.3,78.62 L391.1,76.46 L391.9,77 L392.7,78.2 L393.5,78.72 L394.3,77.07 L395.1,75.98 L395.9,75.9 L396.7,75 L397.5,74.21 L398.3,74.05 L399.1,73.99 L399.9,72.27 L400.7,69.93 L401.5,68.03 L402.3,66.44 L403.1,65.62 L403.9,65.86 L404.7,66.8 L405.5,65.91 L406.3,65.02 L407.1,64.41 L407.9,64.61 L408.7,64.85 L409.5,63.77 L410.3,62.63 L411.1,62.38 L411.9,62.72 L412.7,63.04 L413.5,62.39 L414.3,60.86 L415.1,58.17 L415.9,55.93 L416.7,56.27 L417.5,57.16 L418.3,57.2 L419.1,56.47 L419.9,55.69 L420.7,55.06 L421.5,54.44 L422.3,53.72 L423.1,53.05 L423.9,53.12 L424.7,53.79 L425.5,54.26 L426.3,53.99 L427.1,53.4 L427.9,52.55 L428.7,51.79 L429.5,50.97 L430.3,48.63 L431.1,46.31 L431.9,45.86 L432.7,46.64 L433.5,47.47 L434.3,46.27 L435.1,45.11 L435.9,47.11 L436.7,49.2 L437.5,50.81 L438.3,52.15 L439.1,52.26 L439.9,50.75 L440.7,49.78 L441.5,50.59 L442.3,51.51 L443.1,51.98 L443.9,52.04 L444.7,51.94 L445.5,52.58 L446.3,53.86 L447.1,53.95 L447.9,52.37 L448.7,51.22 L449.5,50.67 L450.3,50.1 L451.1,51.69 L451.9,53.94 L452.7,55.89 L453.5,57.68 L454.3,59.2 L455.1,59.46 L455.9,59.61 L456.7,59.21 L457.5,58.84 L458.3,59.27 L459.1,60.27 L459.9,61.81 L460.7,63.1 L461.5,62.24 L462.3,61.48 L463.1,61.9 L463.9,62.37 L464.7,63.17 L465.5,64.15 L466.3,65.43 L467.1,66.86 L467.9,67.5 L468.7,67.42 L469.5,67.53 L470.3,67.72 L471.1,68.13 L471.9,70.63 L472.7,73.04 L473.5,72.93 L474.3,71.33 L475.1,70.51 L475.9,69.9 L476.7,68.34 L477.5,66.76 L478.3,66.84 L479.1,67.48 L479.9,69.06 L480.7,71.1 L481.5,73.56 L482.3,74.8 L483.1,75.12 L483.9,74.82 L484.7,74.88 L485.5,76.03 L486.3,77.15 L487.1,76.95 L487.9,75.98 L488.7,74.89 L489.5,73.47 L490.3,72.24 L491.1,71.64 L491.9,72.18 L492.7,72.83 L493.5,73.32 L494.3,73.75 L495.1,74.11 L495.9,74.61 L496.7,76.03 L497.5,76.77 L498.3,75.75 L499.1,74.42 L499.9,73.94 L500.7,76.08 L501.5,77.94 L502.3,77.6 L503.1,77 L503.9,76.7 L504.7,76.56 L505.5,76.07 L506.3,76.07 L507.1,74.54 L507.9,72.22 L508.7,71.08 L509.5,69.52 L510.3,67.19 L511.1,64.93 L511.9,64.14 L512.7,64.75 L513.5,65.22 L514.3,64.35 L515.1,62.58 L515.9,61.51 L516.7,60.6 L517.5,60.64 L518.3,60.75 L519.1,60.08 L519.9,58.66 L520.7,57.65 L521.5,57.11 L522.3,56.5 L523.1,56.12 L523.9,55.48 L524.7,54.41 L525.5,53.62 L526.3,53.18 L527.1,52.39 L527.9,51.05 L528.7,50.34 L529.5,50.97 L530.3,51.09 L531.1,50.13 L531.9,49.24 L532.7,46.24 L533.5,42.86" stroke="#2a78be"/>
<path d="M536.8,49.88 L537.6,48.34 L538.4,48.14 L539.2,48.55 L540,49.12 L540.8,49.06 L541.6,48.24 L542.4,45.63 L543.2,42.74 L544,40.96 L544.8,41.26 L545.6,41.75 L546.4,42.06 L547.2,42.25 L548,43.29 L548.8,44.35 L549.6,44.21 L550.4,43.71 L551.2,43.56 L552,42.74 L552.8,41.74 L553.2,42.22" stroke="#2a78be"/>
<path d="M556.5,41.7 L557.3,41.77 L558.1,42.34 L558.9,43.05 L559.7,42.87 L560.5,42.24 L561.3,42.17 L562.1,42.64 L562.9,42.07 L563.7,40.03 L564.5,38.43 L565.3,39.56 L566.1,40.67 L566.9,40.11 L567.7,39.47 L568.5,40.96 L569.3,43.29 L570.1,45.76 L570.9,47.93 L571.7,49.37 L572.5,50.41 L573.3,51.43 L574.1,51.71 L574.9,50.48 L575.7,49.15 L576.5,48.99 L577.3,49.16 L578.1,50.46 L578.9,52.33 L579.7,53.62 L580.5,52.92 L581.3,52.22 L582.1,54 L582.9,56.52 L583.7,57.27 L584.5,56.49 L585.3,56.3 L586.1,56.53 L586.9,56.37 L587.7,57.32 L588.5,58.77 L589.3,59.8 L590.1,60.05 L590.9,60.56 L591.7,60 L592.5,59.84 L593.3,60.95 L594.1,61.49 L594.9,62.05 L595.7,63.8 L596.5,65.74 L596.6,65.99" stroke="#2a78be"/>
<path d="M598.3,65.31 L599.1,65.73 L599.9,66.35 L600.7,66.57 L601.5,66.46 L602.3,67.35 L603.1,69.22 L603.9,70.49 L604.7,70.64 L605.5,70.68 L606.3,69.58 L607.1,68.73 L607.9,67.6 L608.7,67.66 L609.5,68.36 L610.3,67.93 L611.1,64.96 L611.9,62.21 L612.7,61.39 L613.5,60.76 L614.3,58.93 L615.1,59.47 L615.9,60.75 L616.7,63.12 L617.5,66.3 L618.3,68.52 L619.1,69.35 L619.9,68.17 L620.7,66.19 L621.5,64.73 L622.3,65.57 L623.1,67.7 L623.9,68.55 L624.7,67.28 L625.5,66.72 L626.3,67.67 L627.1,67.41 L627.9,65.84 L628.7,64.14 L629.5,63.91 L630.3,64.45 L631.1,65.15 L631.9,66.12 L632.5,66.98" stroke="#2a78be"/>
<path d="M293.5,68.76 L294.3,66.98 L295.1,65.25 L295.9,63.69 L296.7,62.15 L297.5,60.4 L298.3,58.07 L299.1,59.22 L299.9,61.12 L300.7,61.68 L301.5,61.97 L302.3,62.03 L303.1,60.42 L303.9,58.42 L304.7,58.32 L305.5,58.85 L306.3,58.43 L307.1,57.18 L307.9,57.29 L308.7,61.28 L309.5,65.35 L310.3,66.07 L311.1,65.63 L311.9,64.5 L312.7,64.01 L313.5,63.2 L314.3,62.19 L315.1,61.82 L315.9,61.42 L316.7,62.6 L317.5,64.69 L318.3,67.88 L318.4,68.15" stroke="#4db6d2"/>
<path d="M326.2,64.84 L327,67.09 L327.8,69.82 L328.6,71.68 L329.4,72.41 L330.2,73 L331,72.46 L331.8,70.9 L332.6,69.64 L333.4,69.79 L334.2,69.98 L335,71.67 L335.8,74.02 L336.6,75.89 L337.4,77.16 L338.2,78.42 L339,78.04 L339.8,78.1 L340.6,78.54 L341.4,79.33 L342.2,80.82 L343,82.22 L343.8,83.77 L344.6,85.35 L345.4,86.2 L346.2,86.6 L347,87.39 L347.8,88.27 L348.6,89.72 L349.4,91.91 L350.2,92.91 L351,93.99 L351.8,95.53 L352.6,96.46 L353.4,96.9 L354.2,94.98 L355,92.98 L355.8,92.84 L356.6,93.85 L357.4,93.94 L358.2,92.86 L358.7,92.18" stroke="#4db6d2"/>
<path d="M359.9,92.16 L360.7,92.4 L361.5,90.5 L362.3,88.34 L363.1,86.97 L363.9,86.87 L364.7,86.24 L365.5,87.24 L366.3,88.01 L367.1,88.24 L367.9,87.99 L368.7,87.64 L369.5,86.83 L370.3,86.12 L371.1,85.94 L371.9,85.94 L372.7,85.87 L373.5,85.4 L374.3,84.91 L375.1,84.33 L375.9,83.71 L376.7,83.11 L377.5,82.34 L378.3,81.23 L379.1,79.58 L379.9,78.52 L380.7,76.79 L381.5,76.04 L382.3,78.04 L383.1,80 L383.9,81.68 L384.7,84.01 L385.5,85.73 L386.3,86.97 L387.1,86.73 L387.9,86.13 L388.7,85.06 L389.5,83.81 L390.3,82.05 L391.1,80.66 L391.9,80.38 L392.7,80.83 L393.5,80.83 L394.3,78.75 L395.1,77.4 L395.9,77.1 L396.7,76.06 L397.5,75.11 L398.3,74.71 L399.1,74.36 L399.9,72.3 L400.7,69.7 L401.5,67.64 L402.3,66.1 L403.1,65.37 L403.9,65.78 L404.7,66.9 L405.5,66.11 L406.3,65.33 L407.1,65.04 L407.9,65.55 L408.7,65.12 L409.5,63.23 L410.3,62.2 L411.1,62.38 L411.9,62.33 L412.7,61.77 L413.5,60.81 L414.3,59.55 L415.1,56.95 L415.9,54.52 L416.7,54.87 L417.5,56.4 L418.3,56.86 L419.1,55.16 L419.9,53.42 L420.7,53.37 L421.5,53.34 L422.3,52.27 L423.1,51.13 L423.9,50.66 L424.7,50.79 L425.5,51.05 L426.3,50.81 L427.1,50.66 L427.9,50.66 L428.7,50.26 L429.5,48.96 L430.3,46.56 L431.1,45.44 L431.9,45.77 L432.7,44.49 L433.5,43.2 L434.3,43.61 L435.1,44.08 L435.9,46.08 L436.7,47.93 L437.5,48.31 L438.3,48.12 L439.1,48.57 L439.9,48.5 L440.7,48.35 L441.5,49.31 L442.3,50.33 L443.1,50.82 L443.9,50.69 L444.7,49.75 L445.5,49.64 L446.3,51 L447.1,51.2 L447.9,50.24 L448.7,49.71 L449.5,50.27 L450.3,50.87 L451.1,50.93 L451.9,50.75 L452.7,52.35 L453.5,55.04 L454.3,57.1 L455.1,57.51 L455.9,58.06 L456.7,58.48 L457.5,58.65 L458.3,58.73 L459.1,59.29 L459.9,59.85 L460.7,60.15 L461.5,61.48 L462.3,62.91 L463.1,63.46 L463.9,63.77 L464.7,64.26 L465.5,64.88 L466.3,66.05 L467.1,67.5 L467.9,67.98 L468.7,67.54 L469.5,67.57 L470.3,68.24 L471.1,68.86 L471.9,70.74 L472.7,72.74 L473.5,73.81 L474.3,73.44 L475.1,72.12 L475.9,70.88 L476.7,70.64 L477.5,70.66 L478.3,70.24 L479.1,69.73 L479.9,71.1 L480.7,74.18 L481.5,76.87 L482.3,77.26 L483.1,77.15 L483.9,77.16 L484.7,77.39 L485.5,78.28 L486.3,79.32 L487.1,79.66 L487.9,79.07 L488.7,77.87 L489.5,76.34 L490.3,75.42 L491.1,75.18 L491.9,75.24 L492.7,75.16 L493.5,74.53 L494.3,73.63 L495.1,73.62 L495.9,74.73 L496.7,77.29 L497.5,80.1 L498.3,80.29 L499.1,77.53 L499.9,75.79 L500.7,77.85 L501.5,79.65 L502.3,79.91 L503.1,79.83 L503.9,79.15 L504.7,78.54 L505.5,77.07 L506.3,75.94 L507.1,75.32 L507.9,75.13 L508.7,74.36 L509.5,71.62 L510.3,68.34 L511.1,65.56 L511.9,64.59 L512.7,66.27 L513.5,67.61 L514.3,66.07 L515.1,63.77 L515.9,63.12 L516.7,62.6 L517.5,62.38 L518.3,62.15 L519.1,62.04 L519.9,61.47 L520.7,59.64 L521.5,57.25 L522.3,55.65 L523.1,55.15 L523.9,54.75 L524.7,54.58 L525.5,54.5 L526.3,54.05 L527.1,53.28 L527.9,52.27 L528.7,51.91 L529.5,52.84 L530.3,53.26 L531.1,50.74 L531.9,48.02 L532.7,44.57 L533.5,41.31" stroke="#4db6d2"/>
<path d="M536.8,47.27 L537.6,45.34 L538.4,45.1 L539.2,45.47 L540,46 L540.8,45.91 L541.6,44.92 L542.4,42.34 L543.2,40.51 L544,39.77 L544.8,38.52 L545.6,37.46 L546.4,37.09 L547.2,36.73 L548,37.57 L548.8,38.54 L549.6,39.57 L550.4,40.95 L551.2,41.48 L552,40.04 L552.8,38.58 L553.2,38.97" stroke="#4db6d2"/>
<path d="M556.5,37.9 L557.3,37.64 L558.1,38.39 L558.9,39.58 L559.7,39.79 L560.5,39.5 L561.3,39.48 L562.1,39.5 L562.9,38.74 L563.7,37.27 L564.5,36.03 L565.3,35.85 L566.1,35.63 L566.9,34.79 L567.7,33.87 L568.5,35.55 L569.3,38.13 L570.1,40.93 L570.9,43.51 L571.7,45.45 L572.5,46.95 L573.3,48.24 L574.1,48.57 L574.9,47.51 L575.7,46.55 L576.5,46.82 L577.3,47.56 L578.1,49.16 L578.9,49.43 L579.7,49.13 L580.5,49.23 L581.3,49.33 L582.1,51.96 L582.9,55.22 L583.7,56.59 L584.5,56.41 L585.3,56.1 L586.1,55.77 L586.9,55.69 L587.7,57.26 L588.5,58.79 L589.3,59.01 L590.1,58.79 L590.9,59.83 L591.7,59.68 L592.5,59.02 L593.3,59.63 L594.1,61.12 L594.9,62.64 L595.7,64.01 L596.5,65.36 L596.6,65.52" stroke="#4db6d2"/>
<path d="M598.3,67.76 L599.1,67.5 L599.9,67.15 L600.7,66.68 L601.5,65.98 L602.3,66.16 L603.1,67.27 L603.9,68.95 L604.7,70.66 L605.5,71.7 L606.3,70.69 L607.1,69.88 L607.9,68.6 L608.7,68.44 L609.5,68.24 L610.3,66.9 L611.1,65.55 L611.9,64.39 L612.7,63.23 L613.5,61.98 L614.3,59.67 L615.1,59.77 L615.9,61.33 L616.7,64.41 L617.5,67.43 L618.3,68.56 L619.1,68.75 L619.9,67.7 L620.7,66.05 L621.5,65.56 L622.3,67.08 L623.1,67.65 L623.9,66.91 L624.7,67.33 L625.5,68.53 L626.3,69.57 L627.1,69.22 L627.9,67.54 L628.7,65.72 L629.5,64.93 L630.3,64.69 L631.1,65.38 L631.9,67.05 L632.5,68.29" stroke="#4db6d2"/>
<path d="M293.5,66.14 L294.3,64.09 L295.1,62.45 L295.9,60.89 L296.7,58.84 L297.5,56.59 L298.3,54.81 L299.1,56.51 L299.9,58.13 L300.7,58.16 L301.5,58.32 L302.3,58.51 L303.1,56.54 L303.9,53.77 L304.7,53.43 L305.5,54.12 L306.3,53.64 L307.1,51.98 L307.9,52.11 L308.7,56.71 L309.5,61.3 L310.3,61.87 L311.1,61.25 L311.9,59.44 L312.7,58.3 L313.5,58.69 L314.3,59.2 L315.1,59.24 L315.9,58.87 L316.7,60.11 L317.5,62.06 L318.3,65.72 L318.4,66.19" stroke="#b9e4c0"/>
<path d="M326.2,62.72 L327,65.97 L327.8,70.03 L328.6,72.48 L329.4,73.56 L330.2,74.18 L331,73.37 L331.8,71.66 L332.6,70.44 L333.4,70.83 L334.2,71.75 L335,73.97 L335.8,75.69 L336.6,76.97 L337.4,78.06 L338.2,79.15 L339,78.8 L339.8,78.83 L340.6,79.73 L341.4,81.15 L342.2,83.3 L343,85.38 L343.8,86.98 L344.6,87.94 L345.4,88.83 L346.2,90.51 L347,92.34 L347.8,93.38 L348.6,94.74 L349.4,95.97 L350.2,96.02 L351,96.04 L351.8,96.52 L352.6,98.69 L353.4,100.73 L354.2,99.93 L355,98.84 L355.8,98.49 L356.6,98.63 L357.4,98.41 L358.2,97.58 L358.7,97.07" stroke="#b9e4c0"/>
<path d="M359.9,97.17 L360.7,97.43 L361.5,95.77 L362.3,93.82 L363.1,92.57 L363.9,92.37 L364.7,91.01 L365.5,91.28 L366.3,92.44 L367.1,93.04 L367.9,92.7 L368.7,92.2 L369.5,91.42 L370.3,90.79 L371.1,90.36 L371.9,89.85 L372.7,89.5 L373.5,89 L374.3,88.44 L375.1,87.64 L375.9,87.15 L376.7,87.58 L377.5,87.59 L378.3,86.79 L379.1,85.48 L379.9,83.75 L380.7,81.43 L381.5,80.32 L382.3,81.89 L383.1,84.13 L383.9,86.46 L384.7,89.19 L385.5,90.6 L386.3,91.13 L387.1,89.82 L387.9,88.65 L388.7,88.03 L389.5,87.15 L390.3,85.37 L391.1,83.86 L391.9,83.17 L392.7,83.3 L393.5,83.12 L394.3,80.96 L395.1,78.66 L395.9,77.28 L396.7,77.14 L397.5,77.67 L398.3,77.26 L399.1,76 L399.9,73.69 L400.7,71.64 L401.5,69.62 L402.3,67.32 L403.1,65.99 L403.9,66.27 L404.7,67.23 L405.5,66.16 L406.3,65.1 L407.1,64.22 L407.9,64.13 L408.7,64.28 L409.5,63.14 L410.3,61.57 L411.1,60.77 L411.9,60.24 L412.7,59.51 L413.5,58.34 L414.3,56.84 L415.1,54.39 L415.9,52.73 L416.7,53.52 L417.5,54.56 L418.3,54.58 L419.1,52.77 L419.9,50.92 L420.7,49.76 L421.5,48.63 L422.3,48.53 L423.1,48.63 L423.9,48.58 L424.7,48.85 L425.5,49.16 L426.3,48.89 L427.1,48.39 L427.9,47.71 L428.7,46.67 L429.5,44.84 L430.3,41.96 L431.1,40.45 L431.9,40.59 L432.7,40.44 L433.5,40.18 L434.3,39.37 L435.1,38.68 L435.9,40.27 L436.7,41.82 L437.5,43.58 L438.3,45.4 L439.1,46.29 L439.9,45.71 L440.7,44.79 L441.5,44.59 L442.3,44.9 L443.1,45.43 L443.9,45.79 L444.7,46.69 L445.5,48.05 L446.3,48.46 L447.1,47.79 L447.9,46.87 L448.7,46.37 L449.5,47.53 L450.3,48.81 L451.1,49.2 L451.9,49.25 L452.7,50.96 L453.5,53.7 L454.3,55.5 L455.1,55.35 L455.9,55.61 L456.7,56.3 L457.5,56.77 L458.3,57.2 L459.1,58.21 L459.9,59.96 L460.7,61.44 L461.5,61.34 L462.3,61.33 L463.1,62.31 L463.9,63.32 L464.7,64.05 L465.5,64.75 L466.3,66.42 L467.1,68.63 L467.9,69.66 L468.7,69.55 L469.5,69.86 L470.3,70.78 L471.1,71.53 L471.9,73.04 L472.7,74.77 L473.5,76.27 L474.3,76.39 L475.1,75.64 L475.9,74.84 L476.7,74.6 L477.5,74.58 L478.3,73.58 L479.1,72.39 L479.9,73.13 L480.7,76.44 L481.5,79.1 L482.3,78.84 L483.1,78.35 L483.9,78.48 L484.7,78.94 L485.5,80.35 L486.3,81.94 L487.1,82.25 L487.9,81.44 L488.7,80.85 L489.5,79.95 L490.3,78.3 L491.1,77.12 L491.9,77.06 L492.7,77.16 L493.5,77.22 L494.3,77.31 L495.1,77.56 L495.9,78.12 L496.7,79.9 L497.5,81.54 L498.3,81.23 L499.1,80.01 L499.9,79.49 L500.7,80.47 L501.5,81.23 L502.3,81.74 L503.1,81.84 L503.9,81.15 L504.7,80.54 L505.5,79.37 L506.3,78.64 L507.1,77.66 L507.9,76.63 L508.7,75.4 L509.5,72.78 L510.3,70.01 L511.1,68.33 L511.9,67.57 L512.7,66.97 L513.5,66.56 L514.3,66.69 L515.1,66.2 L515.9,65.03 L516.7,63.97 L517.5,64.02 L518.3,64.19 L519.1,63.69 L519.9,62.46 L520.7,61.07 L521.5,59.75 L522.3,58.04 L523.1,56.24 L523.9,55 L524.7,54.86 L525.5,54.55 L526.3,52.97 L527.1,51.36 L527.9,51.48 L528.7,52.28 L529.5,52.11 L530.3,51.43 L531.1,49.71 L531.9,48.06 L532.7,44.51 L533.5,40.87" stroke="#b9e4c0"/>
<path d="M536.8,45.86 L537.6,43.47 L538.4,43 L539.2,42.84 L540,42.34 L540.8,41.67 L541.6,41.18 L542.4,39.07 L543.2,36.8 L544,35.63 L544.8,33.8 L545.6,32.15 L546.4,32.44 L547.2,32.94 L548,34.1 L548.8,35.23 L549.6,35.39 L550.4,35.23 L551.2,35.47 L552,34.8 L552.8,33.85 L553.2,34.29" stroke="#b9e4c0"/>
<path d="M556.5,32.24 L557.3,33.18 L558.1,33.96 L558.9,34.46 L559.7,33.97 L560.5,32.99 L561.3,32.56 L562.1,32.64 L562.9,32.05 L563.7,31.06 L564.5,30.31 L565.3,30.32 L566.1,30.28 L566.9,30.59 L567.7,30.82 L568.5,31.69 L569.3,33.19 L570.1,35.62 L570.9,38.13 L571.7,40.29 L572.5,42.08 L573.3,42.86 L574.1,41.91 L574.9,40.39 L575.7,40.39 L576.5,41.27 L577.3,41.63 L578.1,43.07 L578.9,44.82 L579.7,46.02 L580.5,46.77 L581.3,47.52 L582.1,49.99 L582.9,52.72 L583.7,53.69 L584.5,53.19 L585.3,52.9 L586.1,52.79 L586.9,52.74 L587.7,53.99 L588.5,55.94 L589.3,57.77 L590.1,58.54 L590.9,58.7 L591.7,57.78 L592.5,57.18 L593.3,57.84 L594.1,60.22 L594.9,62.7 L595.7,64.1 L596.5,65.34 L596.6,65.49" stroke="#b9e4c0"/>
<path d="M598.3,67.3 L599.1,67.4 L599.9,67.47 L600.7,67.5 L601.5,67.27 L602.3,67.93 L603.1,69.55 L603.9,70.95 L604.7,71.42 L605.5,72 L606.3,72.23 L607.1,71.99 L607.9,69.5 L608.7,68.62 L609.5,70.23 L610.3,70.72 L611.1,69.3 L611.9,67.87 L612.7,66.76 L613.5,65.59 L614.3,63.25 L615.1,63.18 L615.9,64.73 L616.7,67.9 L617.5,71.01 L618.3,72.06 L619.1,71.98 L619.9,70.5 L620.7,68.31 L621.5,66.97 L622.3,68 L623.1,69.21 L623.9,68.95 L624.7,69.23 L625.5,70.58 L626.3,71.84 L627.1,71.91 L627.9,70.22 L628.7,68.25 L629.5,67.54 L630.3,67.71 L631.1,68.33 L631.9,69.27 L632.5,69.99" stroke="#b9e4c0"/>
<path d="M293.5,62.01 L294.3,59.92 L295.1,57.48 L295.9,55.31 L296.7,53.84 L297.5,52.2 L298.3,49.39 L299.1,50.07 L299.9,52.09 L300.7,52.46 L301.5,50.99 L302.3,49.09 L303.1,46.88 L303.9,44.75 L304.7,44.83 L305.5,45.48 L306.3,44.94 L307.1,43.18 L307.9,43.33 L308.7,47.06 L309.5,50.92 L310.3,51.86 L311.1,51.56 L311.9,49.7 L312.7,48.53 L313.5,49.33 L314.3,50.43 L315.1,51.87 L315.9,53.17 L316.7,55.53 L317.5,57.87 L318.3,61.6 L318.4,62.16" stroke="#d1b25a"/>
<path d="M326.2,62.16 L327,65.72 L327.8,69.42 L328.6,71.3 L329.4,72.11 L330.2,73.31 L331,73.95 L331.8,73.05 L332.6,71.68 L333.4,71.81 L334.2,71.86 L335,73.44 L335.8,76.56 L336.6,79.35 L337.4,80.06 L338.2,80.77 L339,81.09 L339.8,81.77 L340.6,83.1 L341.4,84.87 L342.2,87.58 L343,90.34 L343.8,92.75 L344.6,94.57 L345.4,96.25 L346.2,98.87 L347,101.41 L347.8,102.21 L348.6,103.28 L349.4,105.68 L350.2,106.91 L351,107.01 L351.8,107.57 L352.6,109.29 L353.4,110.91 L354.2,109.68 L355,108.1 L355.8,107.5 L356.6,107.56 L357.4,107.78 L358.2,107.9 L358.7,107.97" stroke="#d1b25a"/>
<path d="M359.9,108.08 L360.7,108.03 L361.5,106.29 L362.3,104.28 L363.1,103.01 L363.9,102.57 L364.7,101.56 L365.5,102.18 L366.3,103.45 L367.1,104.12 L367.9,102.9 L368.7,101.4 L369.5,100.22 L370.3,99.4 L371.1,99.17 L371.9,99 L372.7,98.5 L373.5,97.4 L374.3,96.91 L375.1,97.14 L375.9,97.47 L376.7,97.66 L377.5,97.05 L378.3,95.47 L379.1,93.43 L379.9,91.75 L380.7,89.66 L381.5,89.46 L382.3,91.86 L383.1,94.34 L383.9,97.02 L384.7,100.18 L385.5,100.85 L386.3,101.02 L387.1,99.73 L387.9,98.12 L388.7,96.59 L389.5,94.87 L390.3,92.13 L391.1,89.68 L391.9,89.01 L392.7,89.31 L393.5,88.02 L394.3,84.95 L395.1,83.12 L395.9,82.44 L396.7,81.89 L397.5,81.52 L398.3,80.48 L399.1,78.75 L399.9,75.95 L400.7,73.72 L401.5,71.42 L402.3,68.77 L403.1,67.08 L403.9,66.93 L404.7,67.41 L405.5,65.15 L406.3,62.89 L407.1,62.69 L407.9,63.26 L408.7,63.68 L409.5,62.78 L410.3,60.54 L411.1,58.78 L411.9,58.09 L412.7,57.67 L413.5,57.02 L414.3,56.28 L415.1,53.78 L415.9,50.7 L416.7,50.37 L417.5,51.13 L418.3,50.92 L419.1,49.22 L419.9,47.49 L420.7,46.84 L421.5,46.25 L422.3,44.75 L423.1,43.17 L423.9,43.31 L424.7,44.39 L425.5,44.21 L426.3,42.66 L427.1,41.81 L427.9,41.72 L428.7,41.35 L429.5,40.4 L430.3,38 L431.1,35.64 L431.9,35.1 L432.7,35.47 L433.5,35.55 L434.3,35.35 L435.1,35.36 L435.9,36.63 L436.7,37.71 L437.5,38.21 L438.3,38.64 L439.1,39.27 L439.9,39.08 L440.7,39.18 L441.5,40.45 L442.3,41.54 L443.1,41.68 L443.9,41.38 L444.7,40.81 L445.5,41.08 L446.3,43.33 L447.1,44.61 L447.9,43.05 L448.7,41.94 L449.5,42.7 L450.3,43.63 L451.1,44.26 L451.9,44.76 L452.7,46.47 L453.5,48.97 L454.3,51.21 L455.1,52.18 L455.9,53.25 L456.7,54.28 L457.5,54.97 L458.3,55.08 L459.1,55.77 L459.9,57.17 L460.7,58.29 L461.5,59.79 L462.3,61.41 L463.1,62.26 L463.9,62.89 L464.7,64.55 L465.5,66.62 L466.3,67.77 L467.1,68.31 L467.9,69.26 L468.7,70.58 L469.5,71.92 L470.3,73.38 L471.1,74.75 L471.9,77.02 L472.7,79.44 L473.5,81.33 L474.3,81.97 L475.1,81.79 L475.9,81.22 L476.7,80.12 L477.5,79.13 L478.3,77.95 L479.1,77.01 L479.9,77.06 L480.7,80.81 L481.5,84.27 L482.3,84.49 L483.1,84.05 L483.9,83.63 L484.7,83.81 L485.5,85.76 L486.3,88.12 L487.1,89.12 L487.9,88.59 L488.7,87.05 L489.5,85.19 L490.3,83.27 L491.1,81.9 L491.9,81.7 L492.7,81.74 L493.5,81.9 L494.3,82.2 L495.1,82.57 L495.9,83.09 L496.7,84.75 L497.5,86.14 L498.3,85.68 L499.1,84.57 L499.9,84.23 L500.7,85.78 L501.5,87.21 L502.3,87.23 L503.1,86.67 L503.9,85.22 L504.7,83.9 L505.5,81.91 L506.3,80.36 L507.1,79.3 L507.9,78.61 L508.7,78.48 L509.5,78.16 L510.3,76.33 L511.1,73.36 L511.9,71.44 L512.7,70.52 L513.5,69.73 L514.3,68.66 L515.1,67.29 L515.9,67.07 L516.7,66.9 L517.5,66.81 L518.3,66.71 L519.1,65.98 L519.9,64.54 L520.7,62.92 L521.5,61.32 L522.3,59.43 L523.1,57.55 L523.9,56.02 L524.7,55.43 L525.5,55.11 L526.3,54.45 L527.1,53.51 L527.9,52.49 L528.7,52.19 L529.5,51.73 L530.3,50.76 L531.1,49.32 L531.9,48.04 L532.7,44.34 L533.5,40.63" stroke="#d1b25a"/>
<path d="M536.8,41.57 L537.6,39.25 L538.4,38.71 L539.2,38.57 L540,38.23 L540.8,37.43 L541.6,35.8 L542.4,32.81 L543.2,30.46 L544,29.21 L544.8,28.98 L545.6,28.92 L546.4,27.94 L547.2,26.78 L548,26.59 L548.8,26.48 L549.6,26.86 L550.4,27.72 L551.2,28.09 L552,26.39 L552.8,24.84 L553.2,25.34" stroke="#d1b25a"/>
<path d="M556.5,23.63 L557.3,24.14 L558.1,25.03 L558.9,25.99 L559.7,26.45 L560.5,26.99 L561.3,27.17 L562.1,26.37 L562.9,24.87 L563.7,22.93 L564.5,21.42 L565.3,21.69 L566.1,21.87 L566.9,21.03 L567.7,20.11 L568.5,21.75 L569.3,24.28 L570.1,26.62 L570.9,28.75 L571.7,31.16 L572.5,33.41 L573.3,35.23 L574.1,35.89 L574.9,35.08 L575.7,34.24 L576.5,34.58 L577.3,35.26 L578.1,37.06 L578.9,39.59 L579.7,41.6 L580.5,41.88 L581.3,42.15 L582.1,45.25 L582.9,48.3 L583.7,49.26 L584.5,48.69 L585.3,48.25 L586.1,47.94 L586.9,48.02 L587.7,49.49 L588.5,51.46 L589.3,53.01 L590.1,53.74 L590.9,54.57 L591.7,54.32 L592.5,54.14 L593.3,55.24 L594.1,57.28 L594.9,59.64 L595.7,61.71 L596.5,63.77 L596.6,64.03" stroke="#d1b25a"/>
<path d="M598.3,68.22 L599.1,68.96 L599.9,69.58 L600.7,70.38 L601.5,70.83 L602.3,71.43 L603.1,72.65 L603.9,74.13 L604.7,74.79 L605.5,74.81 L606.3,74.07 L607.1,73.64 L607.9,73.59 L608.7,75.04 L609.5,76.03 L610.3,75.9 L611.1,74.79 L611.9,73.2 L612.7,72.92 L613.5,72.72 L614.3,70.95 L615.1,71.12 L615.9,73.16 L616.7,76.98 L617.5,80.54 L618.3,81.46 L619.1,80.99 L619.9,79.12 L620.7,76.49 L621.5,74.75 L622.3,75.83 L623.1,76.75 L623.9,75.84 L624.7,75.38 L625.5,76.76 L626.3,78.6 L627.1,79.84 L627.9,77.7 L628.7,74.69 L629.5,72.68 L630.3,71.91 L631.1,72.1 L631.9,72.61 L632.5,72.98" stroke="#d1b25a"/>
<path d="M293.5,59.76 L294.3,56.8 L295.1,54.93 L295.9,53.2 L296.7,51.23 L297.5,49.09 L298.3,47.4 L299.1,49.2 L299.9,50.28 L300.7,49.3 L301.5,47.3 L302.3,45.25 L303.1,42.77 L303.9,40.25 L304.7,40.4 L305.5,41.5 L306.3,40.99 L307.1,38.58 L307.9,38.55 L308.7,43 L309.5,47.4 L310.3,47.84 L311.1,47.02 L311.9,47.04 L312.7,47.78 L313.5,48.36 L314.3,48.98 L315.1,49.3 L315.9,49.26 L316.7,52.16 L317.5,55.97 L318.3,60.52 L318.4,61.15" stroke="#a65c16"/>
<path d="M326.2,60.84 L327,65.19 L327.8,69.83 L328.6,72.37 L329.4,73.92 L330.2,74.48 L331,73.13 L331.8,71.35 L332.6,71 L333.4,72.24 L334.2,73.5 L335,76.03 L335.8,78.46 L336.6,80.64 L337.4,82.22 L338.2,83.8 L339,83.75 L339.8,83.76 L340.6,84.46 L341.4,85.6 L342.2,88.82 L343,92.75 L343.8,96.18 L344.6,98.79 L345.4,100.67 L346.2,102.66 L347,105.2 L347.8,107.68 L348.6,110 L349.4,111.93 L350.2,112.68 L351,112.8 L351.8,113.39 L352.6,115.16 L353.4,116.9 L354.2,115.96 L355,114.69 L355.8,114.63 L356.6,115.4 L357.4,115.21 L358.2,113.81 L358.7,112.94" stroke="#a65c16"/>
<path d="M359.9,114.53 L360.7,115.16 L361.5,114.11 L362.3,112.53 L363.1,110.96 L363.9,109.99 L364.7,108.27 L365.5,108.16 L366.3,108.67 L367.1,108.52 L367.9,107.83 L368.7,107.05 L369.5,105.88 L370.3,104.82 L371.1,104.75 L371.9,104.9 L372.7,104.68 L373.5,103.83 L374.3,103.41 L375.1,103.31 L375.9,103.23 L376.7,102.58 L377.5,101.19 L378.3,100.95 L379.1,100.29 L379.9,98.15 L380.7,95.73 L381.5,95.62 L382.3,98.04 L383.1,100.29 L383.9,102.86 L384.7,106.08 L385.5,106.11 L386.3,106.53 L387.1,106.41 L387.9,104.93 L388.7,102.04 L389.5,99.29 L390.3,96.26 L391.1,93.38 L391.9,91.8 L392.7,91.3 L393.5,90.85 L394.3,88.76 L395.1,86.9 L395.9,86.06 L396.7,84.04 L397.5,81.71 L398.3,80.75 L399.1,80.37 L399.9,77.8 L400.7,74.87 L401.5,71.76 L402.3,68.15 L403.1,65.93 L403.9,66.53 L404.7,67.73 L405.5,65.93 L406.3,64.12 L407.1,62.71 L407.9,62.05 L408.7,61.97 L409.5,60.67 L410.3,58.61 L411.1,57.22 L411.9,56.68 L412.7,56.3 L413.5,55.07 L414.3,53.18 L415.1,49.87 L415.9,46.55 L416.7,46.13 L417.5,47.27 L418.3,47.39 L419.1,45.65 L419.9,43.91 L420.7,42.14 L421.5,40.46 L422.3,39.74 L423.1,39.2 L423.9,38.6 L424.7,38.35 L425.5,38.39 L426.3,38 L427.1,37.04 L427.9,35.59 L428.7,34.22 L429.5,32.9 L430.3,30.61 L431.1,29.58 L431.9,30.1 L432.7,29.65 L433.5,28.71 L434.3,27.22 L435.1,26.04 L435.9,27.57 L436.7,29.13 L437.5,30.22 L438.3,31.43 L439.1,32.73 L439.9,33.13 L440.7,33.51 L441.5,34.54 L442.3,35.26 L443.1,34.83 L443.9,34.23 L444.7,34.13 L445.5,34.65 L446.3,36.05 L447.1,36.61 L447.9,36.46 L448.7,36.74 L449.5,37.51 L450.3,38.24 L451.1,38.92 L451.9,39.55 L452.7,41.86 L453.5,45.3 L454.3,47.7 L455.1,48.07 L455.9,48.88 L456.7,50.32 L457.5,51.6 L458.3,52.69 L459.1,54.27 L459.9,55.77 L460.7,56.97 L461.5,59.33 L462.3,61.78 L463.1,62.81 L463.9,63.53 L464.7,65.18 L465.5,67.2 L466.3,68.82 L467.1,70.1 L467.9,71.56 L468.7,73.09 L469.5,74.31 L470.3,75.22 L471.1,76.36 L471.9,79.18 L472.7,82.2 L473.5,84.54 L474.3,85.71 L475.1,85.38 L475.9,84.45 L476.7,83.38 L477.5,82.52 L478.3,80.98 L479.1,79.66 L479.9,78.73 L480.7,82.28 L481.5,86.38 L482.3,87.61 L483.1,88.27 L483.9,89.17 L484.7,89.98 L485.5,90.52 L486.3,91.78 L487.1,92.76 L487.9,91.96 L488.7,90.25 L489.5,88.21 L490.3,86.8 L491.1,86 L491.9,85.41 L492.7,84.77 L493.5,84.77 L494.3,85.2 L495.1,85.89 L495.9,86.84 L496.7,88.85 L497.5,90.48 L498.3,90.04 L499.1,88.33 L499.9,87.4 L500.7,88.47 L501.5,89.47 L502.3,89.99 L503.1,89.82 L503.9,88.33 L504.7,86.97 L505.5,85.24 L506.3,84.1 L507.1,82.82 L507.9,81.5 L508.7,80.81 L509.5,80.31 L510.3,78.33 L511.1,75.26 L511.9,73.35 L512.7,73.07 L513.5,72.85 L514.3,71.54 L515.1,70.15 L515.9,69.59 L516.7,69.05 L517.5,69.48 L518.3,70.03 L519.1,69.38 L519.9,67.83 L520.7,65.52 L521.5,62.85 L522.3,60.11 L523.1,57.61 L523.9,55.68 L524.7,55.21 L525.5,55.04 L526.3,54.34 L527.1,53.45 L527.9,53.06 L528.7,53.44 L529.5,52.85 L530.3,51.76 L531.1,50.64 L531.9,49.74 L532.7,44.9 L533.5,39.71" stroke="#a65c16"/>
<path d="M536.8,38.39 L537.6,35.45 L538.4,34.69 L539.2,34.03 L540,32.68 L540.8,31.4 L541.6,30.7 L542.4,28.5 L543.2,25.31 L544,23.22 L544.8,22.49 L545.6,21.92 L546.4,21.14 L547.2,20.29 L548,20.98 L548.8,21.91 L549.6,21.96 L550.4,21.63 L551.2,21.67 L552,20.26 L552.8,18.65 L553.2,18.81" stroke="#a65c16"/>
<path d="M556.5,17.78 L557.3,17.85 L558.1,18.09 L558.9,18.26 L559.7,18.3 L560.5,18.84 L561.3,19.21 L562.1,18.89 L562.9,18.02 L563.7,17.18 L564.5,16.67 L565.3,17.03 L566.1,17.28 L566.9,16.28 L567.7,15.19 L568.5,16.25 L569.3,18.15 L570.1,20.5 L570.9,22.93 L571.7,25.39 L572.5,27.4 L573.3,29.16 L574.1,29.94 L574.9,29.2 L575.7,28.35 L576.5,28.93 L577.3,30.63 L578.1,33.21 L578.9,34.94 L579.7,36.19 L580.5,37.37 L581.3,38.56 L582.1,41.83 L582.9,44.62 L583.7,45.76 L584.5,45.53 L585.3,45.18 L586.1,44.82 L586.9,44.8 L587.7,45.95 L588.5,48.16 L589.3,50.88 L590.1,52.56 L590.9,53.73 L591.7,53.71 L592.5,52.98 L593.3,53.53 L594.1,56 L594.9,58.92 L595.7,61.4 L596.5,63.85 L596.6,64.15" stroke="#a65c16"/>
<path d="M598.3,67.1 L599.1,69.08 L599.9,71.18 L600.7,72.45 L601.5,72.95 L602.3,73.65 L603.1,75.07 L603.9,76.59 L604.7,76.95 L605.5,76.75 L606.3,76.42 L607.1,76.23 L607.9,76.07 L608.7,77.7 L609.5,79.6 L610.3,80.37 L611.1,79.52 L611.9,77.91 L612.7,78.18 L613.5,78.61 L614.3,76.92 L615.1,76.89 L615.9,78.4 L616.7,81.5 L617.5,84.51 L618.3,84.82 L619.1,83.82 L619.9,81.74 L620.7,78.99 L621.5,77.45 L622.3,79.02 L623.1,80.5 L623.9,79.97 L624.7,78.75 L625.5,79.79 L626.3,81.01 L627.1,81.87 L627.9,80.59 L628.7,78.86 L629.5,76.4 L630.3,74.4 L631.1,74.3 L631.9,75.18 L632.5,75.78" stroke="#a65c16"/>
<path d="M293.5,58.97 L294.3,56.44 L295.1,54.9 L295.9,53.42 L296.7,51.21 L297.5,48.82 L298.3,47.1 L299.1,48.87 L299.9,49.64 L300.7,48.27 L301.5,46.14 L302.3,44.07 L303.1,41.9 L303.9,39.82 L304.7,39.92 L305.5,40.39 L306.3,39.71 L307.1,37.83 L307.9,38.05 L308.7,41.69 L309.5,45.42 L310.3,46.03 L311.1,45.38 L311.9,45.22 L312.7,45.78 L313.5,45.61 L314.3,45.4 L315.1,46.66 L315.9,48.13 L316.7,51.86 L317.5,56.03 L318.3,60.44 L318.4,61.02" stroke="#861c05"/>
<path d="M326.2,58.39 L327,63.89 L327.8,69.97 L328.6,72.82 L329.4,74.31 L330.2,74.79 L331,73.34 L331.8,71.27 L332.6,70.34 L333.4,71.34 L334.2,73.18 L335,76.26 L335.8,79.19 L336.6,81.96 L337.4,83.42 L338.2,84.88 L339,85.36 L339.8,85.86 L340.6,87.07 L341.4,88.74 L342.2,92.27 L343,96.38 L343.8,100.02 L344.6,102.81 L345.4,105.25 L346.2,108.62 L347,112.13 L347.8,114.14 L348.6,115.88 L349.4,117.73 L350.2,118.4 L351,119.14 L351.8,120.34 L352.6,121.66 L353.4,122.89 L354.2,121.96 L355,120.85 L355.8,121.1 L356.6,122.3 L357.4,122.25 L358.2,120.7 L358.7,119.73" stroke="#861c05"/>
<path d="M359.9,120.92 L360.7,121.21 L361.5,120.24 L362.3,118.72 L363.1,117.09 L363.9,116.04 L364.7,115.46 L365.5,116.5 L366.3,117.08 L367.1,116.99 L367.9,115.9 L368.7,114.65 L369.5,113.5 L370.3,112.62 L371.1,112.34 L371.9,111.96 L372.7,110.96 L373.5,109.1 L374.3,108.43 L375.1,109.21 L375.9,110 L376.7,109.92 L377.5,108.6 L378.3,106.79 L379.1,104.6 L379.9,102.38 L380.7,100.01 L381.5,101.01 L382.3,104.54 L383.1,107.62 L383.9,111.15 L384.7,114.56 L385.5,113.43 L386.3,112.86 L387.1,111.96 L387.9,109.75 L388.7,106.5 L389.5,103.6 L390.3,100.86 L391.1,98.16 L391.9,96.79 L392.7,96.63 L393.5,95.32 L394.3,92.53 L395.1,89.79 L395.9,88.07 L396.7,86.85 L397.5,85.77 L398.3,84.75 L399.1,83.51 L399.9,80.06 L400.7,76.46 L401.5,73.2 L402.3,70.38 L403.1,68.52 L403.9,68.18 L404.7,68.44 L405.5,65.39 L406.3,62.33 L407.1,62.72 L407.9,63.83 L408.7,62.63 L409.5,59.79 L410.3,58.24 L411.1,58.02 L411.9,56.58 L412.7,54.03 L413.5,51.78 L414.3,50.05 L415.1,47.13 L415.9,44.56 L416.7,44.37 L417.5,44.14 L418.3,42.99 L419.1,40.73 L419.9,38.48 L420.7,37.29 L421.5,36.2 L422.3,34.53 L423.1,32.82 L423.9,32.64 L424.7,33.36 L425.5,33.25 L426.3,32.06 L427.1,31.05 L427.9,30.31 L428.7,29.6 L429.5,28.88 L430.3,26.63 L431.1,23.91 L431.9,23.05 L432.7,23.36 L433.5,23 L434.3,21.75 L435.1,20.9 L435.9,22.11 L436.7,23.24 L437.5,24.51 L438.3,26.2 L439.1,27.24 L439.9,26.89 L440.7,26.96 L441.5,27.96 L442.3,29.08 L443.1,29.79 L443.9,30 L444.7,29.76 L445.5,30.06 L446.3,31 L447.1,31.22 L447.9,31.27 L448.7,31.76 L449.5,33.01 L450.3,34.26 L451.1,34.64 L451.9,34.7 L452.7,36.77 L453.5,40.16 L454.3,43.24 L455.1,44.99 L455.9,46.67 L456.7,48.22 L457.5,49.52 L458.3,50.2 L459.1,51.53 L459.9,53.99 L460.7,56.14 L461.5,58.46 L462.3,60.87 L463.1,62.2 L463.9,63.26 L464.7,65.22 L465.5,67.54 L466.3,70.24 L467.1,73.08 L467.9,74.42 L468.7,74.1 L469.5,74.63 L470.3,76.87 L471.1,79.18 L471.9,82.62 L472.7,86.16 L473.5,88.26 L474.3,89.28 L475.1,89.34 L475.9,88.56 L476.7,88.16 L477.5,88.07 L478.3,85.39 L479.1,82.41 L479.9,80.29 L480.7,84.18 L481.5,88.65 L482.3,89.77 L483.1,90.26 L483.9,90.95 L484.7,91.8 L485.5,93.11 L486.3,95.31 L487.1,97.25 L487.9,97.11 L488.7,94.61 L489.5,91.79 L490.3,90.45 L491.1,89.83 L491.9,89.56 L492.7,89.31 L493.5,89.17 L494.3,89.15 L495.1,89.41 L495.9,89.9 L496.7,91.5 L497.5,92.79 L498.3,92.24 L499.1,91.07 L499.9,90.71 L500.7,92.63 L501.5,94.55 L502.3,94.29 L503.1,93.19 L503.9,91.12 L504.7,89.28 L505.5,87.27 L506.3,85.93 L507.1,84.95 L507.9,84.21 L508.7,83.24 L509.5,81.9 L510.3,79.95 L511.1,78.38 L511.9,77.23 L512.7,75.85 L513.5,74.74 L514.3,73.66 L515.1,72.73 L515.9,72.07 L516.7,71.4 L517.5,71.38 L518.3,71.47 L519.1,70.61 L519.9,68.94 L520.7,66.79 L521.5,64.41 L522.3,61.61 L523.1,58.71 L523.9,56.32 L524.7,55.42 L525.5,55.02 L526.3,54.45 L527.1,53.65 L527.9,53.16 L528.7,53.45 L529.5,54.02 L530.3,54.07 L531.1,52.53 L531.9,50.97 L532.7,45.54 L533.5,39.98" stroke="#861c05"/>
<path d="M536.8,38.26 L537.6,35.28 L538.4,34.16 L539.2,33.4 L540,32.41 L540.8,31.32 L541.6,30.71 L542.4,28.57 L543.2,24.89 L544,22.3 L544.8,21.96 L545.6,21.77 L546.4,20.37 L547.2,18.77 L548,19.22 L548.8,20.09 L549.6,19.85 L550.4,19.08 L551.2,19.17 L552,18.28 L552.8,17.19 L553.2,17.61" stroke="#861c05"/>
<path d="M556.5,14.58 L557.3,15.39 L558.1,16.22 L558.9,16.89 L559.7,17.02 L560.5,17.26 L561.3,17.77 L562.1,18.3 L562.9,17.76 L563.7,15.59 L564.5,13.86 L565.3,13.61 L566.1,13.24 L566.9,13.24 L567.7,13.16 L568.5,14.9 L569.3,17.44 L570.1,19.39 L570.9,21.11 L571.7,22.8 L572.5,23.97 L573.3,25.61 L574.1,27.01 L574.9,27.07 L575.7,27.37 L576.5,28.66 L577.3,29.76 L578.1,31.88 L578.9,34.01 L579.7,35.67 L580.5,37.04 L581.3,38.42 L582.1,41.76 L582.9,44.47 L583.7,45.38 L584.5,44.87 L585.3,44.54 L586.1,44.37 L586.9,44.47 L587.7,45.6 L588.5,47.42 L589.3,49.13 L590.1,50.15 L590.9,51.64 L591.7,51.96 L592.5,51.58 L593.3,52.48 L594.1,55.03 L594.9,58.11 L595.7,60.93 L596.5,63.77 L596.6,64.12" stroke="#861c05"/>
<path d="M598.3,67.2 L599.1,68.81 L599.9,70.48 L600.7,72.24 L601.5,73.49 L602.3,74.58 L603.1,76.21 L603.9,77.57 L604.7,77.25 L605.5,76.85 L606.3,77.4 L607.1,77.86 L607.9,77.78 L608.7,79.59 L609.5,81.67 L610.3,82.63 L611.1,83.01 L611.9,82.45 L612.7,81.77 L613.5,80.98 L614.3,79.83 L615.1,80.84 L615.9,82.93 L616.7,86.34 L617.5,89.47 L618.3,89.55 L619.1,88.18 L619.9,85.64 L620.7,82.36 L621.5,80.15 L622.3,81.37 L623.1,83.52 L623.9,83.53 L624.7,81.38 L625.5,81.75 L626.3,83.25 L627.1,84.7 L627.9,82.95 L628.7,80.37 L629.5,77.6 L630.3,75.79 L631.1,75.64 L631.9,76.05 L632.5,76.33" stroke="#861c05"/>
</g>
<rect x="284.0" y="9.5" width="355.5" height="116.6" fill="none" stroke="#1a1a1a" stroke-width="1.2"/>
<line x1="279.0" y1="22.46" x2="284.0" y2="22.46" stroke="#1a1a1a" stroke-width="1.15"/>
<text transform="translate(274.40,27.96) scale(0.950,1.070)" font-size="15" text-anchor="end" fill="#111">1.0</text>
<line x1="279.0" y1="65.65" x2="284.0" y2="65.65" stroke="#1a1a1a" stroke-width="1.15"/>
<text transform="translate(274.40,71.15) scale(0.950,1.070)" font-size="15" text-anchor="end" fill="#111">0.0</text>
<line x1="279.0" y1="108.84" x2="284.0" y2="108.84" stroke="#1a1a1a" stroke-width="1.15"/>
<text transform="translate(274.40,114.34) scale(0.950,1.070)" font-size="15" text-anchor="end" fill="#111">-1.0</text>
<line x1="284.00" y1="126.1" x2="284.00" y2="131.1" stroke="#1a1a1a" stroke-width="1.15"/>
<line x1="294.97" y1="126.1" x2="294.97" y2="129.1" stroke="#1a1a1a" stroke-width="1.15"/>
<line x1="305.93" y1="126.1" x2="305.93" y2="129.1" stroke="#1a1a1a" stroke-width="1.15"/>
<line x1="316.54" y1="126.1" x2="316.54" y2="131.1" stroke="#1a1a1a" stroke-width="1.15"/>
<line x1="327.51" y1="126.1" x2="327.51" y2="129.1" stroke="#1a1a1a" stroke-width="1.15"/>
<line x1="338.12" y1="126.1" x2="338.12" y2="129.1" stroke="#1a1a1a" stroke-width="1.15"/>
<line x1="349.09" y1="126.1" x2="349.09" y2="131.1" stroke="#1a1a1a" stroke-width="1.15"/>
<line x1="360.05" y1="126.1" x2="360.05" y2="129.1" stroke="#1a1a1a" stroke-width="1.15"/>
<line x1="370.31" y1="126.1" x2="370.31" y2="129.1" stroke="#1a1a1a" stroke-width="1.15"/>
<line x1="381.28" y1="126.1" x2="381.28" y2="131.1" stroke="#1a1a1a" stroke-width="1.15"/>
<line x1="391.89" y1="126.1" x2="391.89" y2="129.1" stroke="#1a1a1a" stroke-width="1.15"/>
<line x1="402.85" y1="126.1" x2="402.85" y2="129.1" stroke="#1a1a1a" stroke-width="1.15"/>
<line x1="413.47" y1="126.1" x2="413.47" y2="131.1" stroke="#1a1a1a" stroke-width="1.15"/>
<line x1="424.43" y1="126.1" x2="424.43" y2="129.1" stroke="#1a1a1a" stroke-width="1.15"/>
<line x1="435.40" y1="126.1" x2="435.40" y2="129.1" stroke="#1a1a1a" stroke-width="1.15"/>
<line x1="446.01" y1="126.1" x2="446.01" y2="131.1" stroke="#1a1a1a" stroke-width="1.15"/>
<line x1="456.97" y1="126.1" x2="456.97" y2="129.1" stroke="#1a1a1a" stroke-width="1.15"/>
<line x1="467.59" y1="126.1" x2="467.59" y2="129.1" stroke="#1a1a1a" stroke-width="1.15"/>
<line x1="478.55" y1="126.1" x2="478.55" y2="131.1" stroke="#1a1a1a" stroke-width="1.15"/>
<line x1="489.52" y1="126.1" x2="489.52" y2="129.1" stroke="#1a1a1a" stroke-width="1.15"/>
<line x1="499.42" y1="126.1" x2="499.42" y2="129.1" stroke="#1a1a1a" stroke-width="1.15"/>
<line x1="510.39" y1="126.1" x2="510.39" y2="131.1" stroke="#1a1a1a" stroke-width="1.15"/>
<line x1="521.00" y1="126.1" x2="521.00" y2="129.1" stroke="#1a1a1a" stroke-width="1.15"/>
<line x1="531.97" y1="126.1" x2="531.97" y2="129.1" stroke="#1a1a1a" stroke-width="1.15"/>
<line x1="542.58" y1="126.1" x2="542.58" y2="131.1" stroke="#1a1a1a" stroke-width="1.15"/>
<line x1="553.54" y1="126.1" x2="553.54" y2="129.1" stroke="#1a1a1a" stroke-width="1.15"/>
<line x1="564.51" y1="126.1" x2="564.51" y2="129.1" stroke="#1a1a1a" stroke-width="1.15"/>
<line x1="575.12" y1="126.1" x2="575.12" y2="131.1" stroke="#1a1a1a" stroke-width="1.15"/>
<line x1="586.09" y1="126.1" x2="586.09" y2="129.1" stroke="#1a1a1a" stroke-width="1.15"/>
<line x1="596.70" y1="126.1" x2="596.70" y2="129.1" stroke="#1a1a1a" stroke-width="1.15"/>
<line x1="607.66" y1="126.1" x2="607.66" y2="131.1" stroke="#1a1a1a" stroke-width="1.15"/>
<line x1="618.63" y1="126.1" x2="618.63" y2="129.1" stroke="#1a1a1a" stroke-width="1.15"/>
<line x1="628.53" y1="126.1" x2="628.53" y2="129.1" stroke="#1a1a1a" stroke-width="1.15"/>
<line x1="639.50" y1="126.1" x2="639.50" y2="131.1" stroke="#1a1a1a" stroke-width="1.15"/>
<text transform="translate(242.40,67.30) rotate(-90)" font-size="15" text-anchor="middle" fill="#111">Raw dv/v [%]</text>
<text transform="translate(212.30,11.90)" font-size="16" text-anchor="start" fill="#111" font-weight="bold">b</text>
<g fill="none" stroke-width="1.8" stroke-linejoin="round">
<path d="M286.6,185.06 L288.2,184.33 L289.8,183.56 L291.4,182.94 L293,182.31 L294.6,182.09 L296.2,181.53 L297.8,181.75 L299.4,182.08 L301,182.09 L302.6,182.42 L304.2,182.25 L305.8,182.68 L307.4,182.84 L309,183.31 L310.6,183.7 L312.2,183.85 L313.8,184.45 L315.4,185.05 L317,186.03 L318.6,186.7 L320.2,187.21 L321.8,188.39 L323.4,188.95 L325,190.09 L326.6,190.78 L328.2,191.7 L329.8,193.16 L331.4,193.87 L333,194.89 L334.6,196.25 L336.2,197.13 L337.8,197.75 L339.4,198.98 L341,199.64 L342.6,200.52 L344.2,201 L345.8,201.98 L347.4,202.35 L349,202.9 L350.6,203.19 L352.2,203.14 L353.8,203.36 L355.4,203.38 L357,203.43 L358.6,203.36 L360.2,203.37 L361.8,203.35 L363.4,202.84 L365,202.93 L366.6,202.52 L368.2,202.25 L369.8,202.22 L371.4,201.74 L373,201.32 L374.6,201.05 L376.2,200.77 L377.8,200.05 L379.4,200.09 L381,199.17 L382.6,199.06 L384.2,198.61 L385.8,197.66 L387.4,197.46 L389,196.61 L390.6,196.01 L392.2,194.98 L393.8,194.25 L395.4,193.57 L397,193.25 L398.6,192.23 L400.2,191.99 L401.8,191.59 L403.4,190.99 L405,189.84 L406.6,188.66 L408.2,187.56 L409.8,186.71 L411.4,185.6 L413,185.22 L414.6,184.6 L416.2,184.04 L417.8,183.08 L419.4,183.05 L421,182.2 L422.6,181.96 L424.2,181.77 L425.8,181.67 L427.4,181.19 L429,181.39 L430.6,181.22 L432.2,181.22 L433.8,181.45 L435.4,181.71 L437,182.07 L438.6,182.59 L440.2,183.4 L441.8,184.16 L443.4,184.42 L445,185.15 L446.6,186.46 L448.2,187.1 L449.8,187.91 L451.4,188.66 L453,189.64 L454.6,190.54 L456.2,191.14 L457.8,191.91 L459.4,192.54 L461,193.82 L462.6,194.29 L464.2,195.52 L465.8,196.77 L467.4,197.51 L469,198.85 L470.6,199.91 L472.2,200.52 L473.8,201.19 L475.4,201.31 L477,201.82 L478.6,201.95 L480.2,202.51 L481.8,202.41 L483.4,202.64 L485,203.03 L486.6,203.02 L488.2,203.09 L489.8,202.79 L491.4,202.72 L493,202.7 L494.6,202.38 L496.2,202.04 L497.8,201.79 L499.4,201.32 L501,201.04 L502.6,200.91 L504.2,200.43 L505.8,199.75 L507.4,199.13 L509,198.45 L510.6,197.67 L512.2,197.07 L513.8,196.59 L515.4,195.85 L517,194.74 L518.6,194.07 L520.2,193.17 L521.8,192.22 L523.4,191.31 L525,190.49 L526.6,189.45 L528.2,188.77 L529.8,187.72 L531.4,187 L533,186.35 L534.6,185.55 L536.2,184.63 L537.8,184.27 L539.4,183.45 L541,182.77 L542.6,181.89 L544.2,181.63 L545.8,181.03 L547.4,180.86 L549,180.44 L550.6,180.37 L552.2,180.09 L553.8,180.03 L555.4,179.74 L557,179.89 L558.6,179.99 L560.2,180.16 L561.8,180.1 L563.4,180.59 L565,180.91 L566.6,181.19 L568.2,181.78 L569.8,182.27 L571.4,182.61 L573,183.24 L574.6,183.74 L576.2,184.83 L577.8,185.71 L579.4,186.4 L581,187.51 L582.6,188.57 L584.2,189.65 L585.8,190.43 L587.4,191.77 L589,192.7 L590.6,193.8 L592.2,194.73 L593.8,195.85 L595.4,196.89 L597,197.7 L598.6,198.54 L600.2,198.91 L601.8,199.64 L603.4,200.39 L605,201.04 L606.6,201.31 L608.2,201.96 L609.8,202.3 L611.4,202.3 L613,202.75 L614.6,202.8 L616.2,202.82 L617.8,202.91 L619.4,202.98 L621,202.81 L622.6,202.66 L624.2,202.36 L625.8,202.31 L627.4,201.97 L629,201.73 L630.6,201.32 L632.2,200.69 L633.8,200.52 L635.4,199.56 L637,199.24 L638.6,198.65" stroke="#0b3196"/>
<path d="M286.6,183.31 L288.2,182.04 L289.8,181.27 L291.4,180.02 L293,178.99 L294.6,178.67 L296.2,178.11 L297.8,178.27 L299.4,178.16 L301,178.23 L302.6,178.37 L304.2,178.33 L305.8,178.29 L307.4,178.83 L309,179.23 L310.6,179.72 L312.2,180.3 L313.8,181.32 L315.4,182.21 L317,183.41 L318.6,184.49 L320.2,185.43 L321.8,186.45 L323.4,187.89 L325,188.62 L326.6,189.89 L328.2,191.37 L329.8,192.68 L331.4,193.75 L333,195.28 L334.6,196.66 L336.2,197.61 L337.8,198.83 L339.4,199.91 L341,201.1 L342.6,202.53 L344.2,203.26 L345.8,204.47 L347.4,205.27 L349,205.84 L350.6,206.29 L352.2,207.16 L353.8,207.31 L355.4,207.57 L357,207.72 L358.6,208.17 L360.2,207.86 L361.8,207.43 L363.4,207.07 L365,206.36 L366.6,206.08 L368.2,205.49 L369.8,204.95 L371.4,204.78 L373,204.41 L374.6,203.6 L376.2,203.41 L377.8,202.78 L379.4,202.57 L381,201.92 L382.6,201.03 L384.2,200.37 L385.8,199.57 L387.4,199.18 L389,197.95 L390.6,197.15 L392.2,196.11 L393.8,195.19 L395.4,194.17 L397,193.25 L398.6,192.02 L400.2,191.51 L401.8,190.47 L403.4,189.66 L405,188.43 L406.6,187.04 L408.2,185.83 L409.8,184.69 L411.4,183.73 L413,183.1 L414.6,182.24 L416.2,181.21 L417.8,180.6 L419.4,180.02 L421,179.64 L422.6,179.08 L424.2,178.43 L425.8,177.76 L427.4,177.82 L429,177.4 L430.6,177.33 L432.2,177.34 L433.8,177.34 L435.4,177.43 L437,178 L438.6,178.24 L440.2,178.85 L441.8,179.77 L443.4,180.23 L445,181.19 L446.6,182.5 L448.2,183.24 L449.8,184.79 L451.4,185.86 L453,186.85 L454.6,187.87 L456.2,189.19 L457.8,190.34 L459.4,191.06 L461,192.38 L462.6,193.65 L464.2,194.96 L465.8,196.29 L467.4,197.64 L469,199.25 L470.6,200.69 L472.2,201.52 L473.8,202.65 L475.4,203.85 L477,204.58 L478.6,205.09 L480.2,205.22 L481.8,205.92 L483.4,206.34 L485,206.57 L486.6,206.56 L488.2,206.27 L489.8,206.63 L491.4,206.2 L493,206.24 L494.6,206.15 L496.2,205.72 L497.8,205.05 L499.4,204.68 L501,204.47 L502.6,203.5 L504.2,203.08 L505.8,202.27 L507.4,201.41 L509,200.88 L510.6,199.81 L512.2,199.03 L513.8,198.29 L515.4,197.16 L517,196.08 L518.6,195.22 L520.2,194.15 L521.8,193.05 L523.4,191.52 L525,190.53 L526.6,189.34 L528.2,188.34 L529.8,187.15 L531.4,186.24 L533,184.84 L534.6,183.58 L536.2,182.84 L537.8,181.53 L539.4,180.77 L541,179.75 L542.6,179.07 L544.2,178.08 L545.8,177.39 L547.4,176.59 L549,176.18 L550.6,175.55 L552.2,175.38 L553.8,174.93 L555.4,174.54 L557,174.51 L558.6,174.63 L560.2,174.99 L561.8,174.99 L563.4,175.63 L565,176.05 L566.6,176.32 L568.2,177.27 L569.8,177.73 L571.4,178.6 L573,179.78 L574.6,180.68 L576.2,182.15 L577.8,183.19 L579.4,184.42 L581,186.01 L582.6,187.04 L584.2,188.82 L585.8,189.89 L587.4,191.28 L589,192.99 L590.6,194.17 L592.2,195.24 L593.8,196.45 L595.4,198.11 L597,199.14 L598.6,200.33 L600.2,201.04 L601.8,202.25 L603.4,202.99 L605,203.73 L606.6,204.5 L608.2,205.28 L609.8,205.71 L611.4,206.22 L613,206.52 L614.6,207.21 L616.2,207.36 L617.8,207.55 L619.4,207.32 L621,207.32 L622.6,206.82 L624.2,206.45 L625.8,206.01 L627.4,205.64 L629,204.97 L630.6,204.27 L632.2,203.63 L633.8,203.05 L635.4,202.25 L637,201.91 L638.6,200.93" stroke="#2a78be"/>
<path d="M286.6,182.35 L288.2,180.63 L289.8,179.51 L291.4,178.46 L293,177.23 L294.6,176.34 L296.2,175.92 L297.8,175.63 L299.4,175.58 L301,175.39 L302.6,175.28 L304.2,175.17 L305.8,175.51 L307.4,175.54 L309,176.2 L310.6,177 L312.2,177.83 L313.8,178.89 L315.4,180 L317,181.36 L318.6,182.44 L320.2,184.21 L321.8,185.28 L323.4,186.93 L325,188.17 L326.6,189.56 L328.2,190.9 L329.8,192.61 L331.4,193.67 L333,195.42 L334.6,196.67 L336.2,198.26 L337.8,199.67 L339.4,200.77 L341,202.14 L342.6,203.35 L344.2,204.67 L345.8,205.73 L347.4,206.94 L349,208.17 L350.6,208.69 L352.2,209.35 L353.8,209.97 L355.4,210.3 L357,210.83 L358.6,211.03 L360.2,210.72 L361.8,210.33 L363.4,209.91 L365,209.32 L366.6,208.45 L368.2,207.66 L369.8,207.35 L371.4,206.38 L373,205.97 L374.6,205.9 L376.2,205.23 L377.8,204.47 L379.4,204.1 L381,203.65 L382.6,202.69 L384.2,201.81 L385.8,200.81 L387.4,199.83 L389,199.2 L390.6,197.87 L392.2,196.95 L393.8,195.34 L395.4,194.25 L397,192.98 L398.6,192.03 L400.2,190.83 L401.8,189.89 L403.4,188.82 L405,187.45 L406.6,185.83 L408.2,184.39 L409.8,183.66 L411.4,182.27 L413,181.53 L414.6,180.6 L416.2,179.8 L417.8,178.73 L419.4,178.04 L421,177.19 L422.6,176.74 L424.2,176.34 L425.8,175.67 L427.4,175.38 L429,174.73 L430.6,174.38 L432.2,174.46 L433.8,174.32 L435.4,174.43 L437,174.64 L438.6,175.28 L440.2,175.99 L441.8,176.84 L443.4,177.38 L445,178.47 L446.6,179.83 L448.2,180.83 L449.8,182.13 L451.4,183.59 L453,184.82 L454.6,186.46 L456.2,187.76 L457.8,188.79 L459.4,190 L461,191.35 L462.6,192.88 L464.2,194.37 L465.8,196.19 L467.4,197.93 L469,199.41 L470.6,200.89 L472.2,202.71 L473.8,203.76 L475.4,205.05 L477,206.1 L478.6,206.93 L480.2,207.4 L481.8,208.04 L483.4,208.37 L485,208.88 L486.6,208.97 L488.2,209.2 L489.8,209.04 L491.4,208.96 L493,208.67 L494.6,208.33 L496.2,208.16 L497.8,207.64 L499.4,207.27 L501,206.55 L502.6,205.84 L504.2,204.85 L505.8,204.28 L507.4,203.2 L509,202.2 L510.6,201.3 L512.2,200.46 L513.8,199.54 L515.4,198.64 L517,197.22 L518.6,195.82 L520.2,194.85 L521.8,193.4 L523.4,191.79 L525,190.47 L526.6,189.18 L528.2,187.96 L529.8,186.86 L531.4,185.56 L533,184.05 L534.6,182.53 L536.2,181.34 L537.8,180.03 L539.4,178.78 L541,177.46 L542.6,176.65 L544.2,175.77 L545.8,174.82 L547.4,173.7 L549,173.21 L550.6,172.38 L552.2,172.08 L553.8,171.49 L555.4,171.44 L557,171.24 L558.6,170.95 L560.2,171.25 L561.8,171.9 L563.4,172.13 L565,172.68 L566.6,173.36 L568.2,174.33 L569.8,175.34 L571.4,176.18 L573,177.57 L574.6,178.72 L576.2,179.91 L577.8,181.78 L579.4,183.15 L581,184.58 L582.6,186.7 L584.2,187.9 L585.8,189.81 L587.4,191.33 L589,193.04 L590.6,194.28 L592.2,195.65 L593.8,197.12 L595.4,198.5 L597,200.07 L598.6,201.3 L600.2,202.77 L601.8,203.69 L603.4,204.81 L605,205.73 L606.6,206.98 L608.2,207.7 L609.8,208.4 L611.4,208.91 L613,209.36 L614.6,209.7 L616.2,210.37 L617.8,210.36 L619.4,210.07 L621,209.85 L622.6,209.36 L624.2,209.14 L625.8,208.67 L627.4,207.77 L629,207.47 L630.6,206.58 L632.2,206.04 L633.8,205.35 L635.4,204.37 L637,203.53 L638.6,202.37" stroke="#4db6d2"/>
<path d="M286.6,180.64 L288.2,179.28 L289.8,177.69 L291.4,175.96 L293,174.71 L294.6,173.63 L296.2,172.9 L297.8,172.87 L299.4,172.76 L301,172.44 L302.6,172.13 L304.2,171.71 L305.8,172.02 L307.4,172.38 L309,173.18 L310.6,174.05 L312.2,175.15 L313.8,176.32 L315.4,177.86 L317,179.15 L318.6,180.84 L320.2,182.46 L321.8,183.96 L323.4,185.43 L325,186.93 L326.6,188.55 L328.2,190.34 L329.8,192.14 L331.4,193.92 L333,195.59 L334.6,197.04 L336.2,198.98 L337.8,200.27 L339.4,202.1 L341,203.36 L342.6,205.23 L344.2,206.65 L345.8,208.18 L347.4,209.46 L349,210.57 L350.6,211.71 L352.2,212.55 L353.8,213.2 L355.4,213.56 L357,214.14 L358.6,214.66 L360.2,214.32 L361.8,214.14 L363.4,213.09 L365,212.06 L366.6,210.91 L368.2,210.22 L369.8,209.38 L371.4,209.05 L373,208.7 L374.6,208.23 L376.2,207.54 L377.8,206.77 L379.4,205.92 L381,205.43 L382.6,204.51 L384.2,203.66 L385.8,202.45 L387.4,201.55 L389,199.97 L390.6,198.7 L392.2,197.33 L393.8,196.15 L395.4,194.89 L397,193.13 L398.6,192.01 L400.2,190.79 L401.8,189.22 L403.4,187.73 L405,186.45 L406.6,184.92 L408.2,183.4 L409.8,182.03 L411.4,180.77 L413,179.76 L414.6,178.83 L416.2,178.03 L417.8,176.74 L419.4,175.76 L421,175.02 L422.6,174.39 L424.2,173.28 L425.8,172.58 L427.4,172.09 L429,171.86 L430.6,171.5 L432.2,170.97 L433.8,170.7 L435.4,170.84 L437,171.13 L438.6,171.68 L440.2,172.42 L441.8,172.91 L443.4,174.05 L445,175.35 L446.6,176.74 L448.2,177.93 L449.8,179.79 L451.4,181.3 L453,183.03 L454.6,184.24 L456.2,185.99 L457.8,187.58 L459.4,188.94 L461,190.36 L462.6,192.13 L464.2,193.94 L465.8,195.83 L467.4,197.82 L469,199.98 L470.6,201.6 L472.2,203.78 L473.8,205.52 L475.4,207.14 L477,208.45 L478.6,209.44 L480.2,210.34 L481.8,210.99 L483.4,211.31 L485,211.86 L486.6,211.68 L488.2,211.76 L489.8,211.7 L491.4,211.62 L493,211.48 L494.6,211.21 L496.2,210.91 L497.8,210.44 L499.4,209.51 L501,208.96 L502.6,208.2 L504.2,207.2 L505.8,206.08 L507.4,205.3 L509,204.19 L510.6,203.37 L512.2,202.28 L513.8,201.43 L515.4,200.17 L517,198.33 L518.6,197.19 L520.2,195.64 L521.8,193.86 L523.4,192.22 L525,190.85 L526.6,189.23 L528.2,187.84 L529.8,186.34 L531.4,184.48 L533,182.82 L534.6,181.33 L536.2,179.85 L537.8,178.35 L539.4,176.74 L541,175.17 L542.6,173.86 L544.2,172.89 L545.8,171.6 L547.4,170.37 L549,169.66 L550.6,168.73 L552.2,168.19 L553.8,167.27 L555.4,166.96 L557,166.69 L558.6,166.92 L560.2,167.42 L561.8,167.62 L563.4,168.11 L565,169.06 L566.6,169.47 L568.2,170.58 L569.8,171.94 L571.4,172.81 L573,174.63 L574.6,176.08 L576.2,177.68 L577.8,179.64 L579.4,181.62 L581,183.49 L582.6,185.51 L584.2,187.24 L585.8,189.24 L587.4,191.44 L589,192.91 L590.6,194.61 L592.2,196.08 L593.8,197.82 L595.4,199.79 L597,201.29 L598.6,202.8 L600.2,204.1 L601.8,205.69 L603.4,207.18 L605,208.18 L606.6,209.33 L608.2,210.45 L609.8,211.18 L611.4,211.96 L613,212.38 L614.6,212.98 L616.2,213.79 L617.8,213.83 L619.4,213.98 L621,213.56 L622.6,213.02 L624.2,212.06 L625.8,211.68 L627.4,210.88 L629,210.23 L630.6,209.09 L632.2,208.56 L633.8,207.47 L635.4,206.72 L637,205.61 L638.6,204.06" stroke="#b9e4c0"/>
<path d="M286.6,177.96 L288.2,175.7 L289.8,173.59 L291.4,171.39 L293,169.64 L294.6,167.83 L296.2,166.94 L297.8,166.79 L299.4,166.27 L301,165.69 L302.6,165.1 L304.2,164.47 L305.8,163.99 L307.4,164.46 L309,165.91 L310.6,167.4 L312.2,168.8 L313.8,170.32 L315.4,172.36 L317,174.8 L318.6,176.97 L320.2,178.64 L321.8,180.79 L323.4,183 L325,185 L326.6,187.34 L328.2,189.27 L329.8,191.62 L331.4,193.46 L333,195.8 L334.6,198.17 L336.2,200.14 L337.8,201.95 L339.4,204.07 L341,206.42 L342.6,208.31 L344.2,210.28 L345.8,212.28 L347.4,214.21 L349,216.17 L350.6,217.39 L352.2,218.9 L353.8,219.82 L355.4,220.84 L357,221.62 L358.6,221.9 L360.2,222.13 L361.8,221.43 L363.4,219.82 L365,218.74 L366.6,217.11 L368.2,215.83 L369.8,214.84 L371.4,214.18 L373,213.23 L374.6,212.91 L376.2,212.02 L377.8,211.37 L379.4,210.42 L381,209.25 L382.6,208.27 L384.2,207.1 L385.8,205.82 L387.4,204.4 L389,202.46 L390.6,200.79 L392.2,199.11 L393.8,197.43 L395.4,195.59 L397,193.74 L398.6,191.54 L400.2,189.64 L401.8,188.16 L403.4,185.77 L405,183.94 L406.6,182.09 L408.2,180.19 L409.8,178.59 L411.4,177.53 L413,175.99 L414.6,174.9 L416.2,173.77 L417.8,172.12 L419.4,170.93 L421,169.76 L422.6,168.67 L424.2,167.49 L425.8,166.74 L427.4,165.76 L429,165.07 L430.6,164.55 L432.2,163.81 L433.8,163.61 L435.4,162.92 L437,163.08 L438.6,163.91 L440.2,164.73 L441.8,165.47 L443.4,166.84 L445,168.1 L446.6,169.66 L448.2,171.74 L449.8,173.64 L451.4,175.81 L453,178.26 L454.6,180.14 L456.2,182.4 L457.8,184.06 L459.4,186.1 L461,188.21 L462.6,190.83 L464.2,193.16 L465.8,195.4 L467.4,197.97 L469,200.91 L470.6,203.28 L472.2,206.08 L473.8,208.23 L475.4,210.85 L477,212.62 L478.6,214.49 L480.2,215.64 L481.8,216.58 L483.4,217.12 L485,218.05 L486.6,218.01 L488.2,218.12 L489.8,218.38 L491.4,217.9 L493,217.59 L494.6,217.39 L496.2,216.97 L497.8,216.44 L499.4,215.58 L501,214.33 L502.6,213.52 L504.2,212.37 L505.8,210.69 L507.4,209.66 L509,208.13 L510.6,206.95 L512.2,205.6 L513.8,204.65 L515.4,202.95 L517,201.36 L518.6,199.24 L520.2,197.1 L521.8,195.11 L523.4,193.12 L525,191.43 L526.6,189 L528.2,186.85 L529.8,184.87 L531.4,182.6 L533,180.59 L534.6,178.5 L536.2,176.34 L537.8,173.95 L539.4,171.85 L541,170.05 L542.6,168.3 L544.2,166.46 L545.8,164.94 L547.4,163.68 L549,161.99 L550.6,160.8 L552.2,159.76 L553.8,158.83 L555.4,158.35 L557,157.87 L558.6,157.96 L560.2,158.16 L561.8,158.94 L563.4,159.75 L565,160.43 L566.6,161.47 L568.2,162.92 L569.8,164.54 L571.4,166.57 L573,168.28 L574.6,170.78 L576.2,173.27 L577.8,175.99 L579.4,178.12 L581,180.98 L582.6,183.35 L584.2,185.81 L585.8,188.59 L587.4,191.07 L589,193.17 L590.6,195.04 L592.2,197.59 L593.8,199.37 L595.4,201.6 L597,203.8 L598.6,205.73 L600.2,207.9 L601.8,209.82 L603.4,211.47 L605,213.07 L606.6,214.89 L608.2,216.07 L609.8,217.51 L611.4,218.22 L613,219.4 L614.6,220.25 L616.2,221.3 L617.8,221.56 L619.4,221.49 L621,220.7 L622.6,219.61 L624.2,218.75 L625.8,217.66 L627.4,216.63 L629,215.92 L630.6,214.75 L632.2,213.55 L633.8,212.54 L635.4,211.37 L637,209.84 L638.6,207.99" stroke="#d1b25a"/>
<path d="M286.6,175.43 L288.2,173.1 L289.8,170.1 L291.4,167.72 L293,165.08 L294.6,163.57 L296.2,162.17 L297.8,161.72 L299.4,161.16 L301,160.27 L302.6,159.28 L304.2,158.1 L305.8,157.72 L307.4,158.53 L309,160.02 L310.6,161.53 L312.2,163.63 L313.8,165.95 L315.4,168.11 L317,170.95 L318.6,173.44 L320.2,175.81 L321.8,178.26 L323.4,181.19 L325,183.43 L326.6,185.91 L328.2,188.66 L329.8,191.01 L331.4,193.51 L333,195.94 L334.6,198.7 L336.2,200.97 L337.8,203.6 L339.4,206.26 L341,208.68 L342.6,210.88 L344.2,213.31 L345.8,215.95 L347.4,218.31 L349,220.22 L350.6,222.68 L352.2,223.97 L353.8,225.36 L355.4,226.45 L357,227.53 L358.6,228.4 L360.2,228.64 L361.8,227.26 L363.4,225.91 L365,223.74 L366.6,222.11 L368.2,220.27 L369.8,219.02 L371.4,217.96 L373,217.63 L374.6,216.73 L376.2,216.3 L377.8,215.12 L379.4,214.15 L381,212.96 L382.6,211.55 L384.2,210.25 L385.8,208.6 L387.4,206.4 L389,204.42 L390.6,202.59 L392.2,200.1 L393.8,198.09 L395.4,195.87 L397,193.89 L398.6,191.2 L400.2,189.19 L401.8,186.9 L403.4,184.47 L405,181.7 L406.6,179.9 L408.2,177.59 L409.8,176.15 L411.4,174.54 L413,173.01 L414.6,171.8 L416.2,170.23 L417.8,168.5 L419.4,167.12 L421,165.49 L422.6,164.21 L424.2,162.93 L425.8,161.94 L427.4,160.64 L429,159.9 L430.6,158.78 L432.2,158.28 L433.8,157.36 L435.4,156.84 L437,156.51 L438.6,157.36 L440.2,158.28 L441.8,159.2 L443.4,160.47 L445,162.42 L446.6,164.31 L448.2,166.33 L449.8,169.14 L451.4,171.65 L453,174.12 L454.6,176.79 L456.2,179.04 L457.8,181.5 L459.4,183.85 L461,186.76 L462.6,189.46 L464.2,192.43 L465.8,195.32 L467.4,198.34 L469,201.33 L470.6,204.62 L472.2,207.67 L473.8,211.01 L475.4,214.09 L477,216.48 L478.6,218.62 L480.2,219.85 L481.8,221.14 L483.4,222.36 L485,222.74 L486.6,223.18 L488.2,223.33 L489.8,223.65 L491.4,223.1 L493,222.94 L494.6,222.46 L496.2,222.03 L497.8,221.11 L499.4,220.21 L501,218.85 L502.6,217.91 L504.2,216.4 L505.8,214.72 L507.4,213.22 L509,211.6 L510.6,210.26 L512.2,208.95 L513.8,207.31 L515.4,205.16 L517,203.5 L518.6,201.3 L520.2,198.56 L521.8,196.1 L523.4,193.84 L525,191.3 L526.6,188.96 L528.2,186.31 L529.8,183.83 L531.4,181.14 L533,178.7 L534.6,175.96 L536.2,173.51 L537.8,170.7 L539.4,168.03 L541,166 L542.6,163.7 L544.2,161.46 L545.8,159.26 L547.4,157.57 L549,155.95 L550.6,154.35 L552.2,152.68 L553.8,151.66 L555.4,150.96 L557,150.51 L558.6,150.62 L560.2,150.93 L561.8,151.7 L563.4,152.72 L565,153.9 L566.6,155.24 L568.2,156.74 L569.8,158.8 L571.4,160.97 L573,163.57 L574.6,166.36 L576.2,169.3 L577.8,172.32 L579.4,175.48 L581,178.5 L582.6,181.82 L584.2,184.95 L585.8,187.67 L587.4,190.67 L589,193.46 L590.6,195.73 L592.2,198.03 L593.8,200.71 L595.4,203.08 L597,205.56 L598.6,208.26 L600.2,210.68 L601.8,213.14 L603.4,215.44 L605,217.26 L606.6,219.04 L608.2,220.96 L609.8,222.66 L611.4,223.98 L613,225.07 L614.6,226.53 L616.2,226.97 L617.8,227.43 L619.4,227.21 L621,226.48 L622.6,225.61 L624.2,224.4 L625.8,223.02 L627.4,222.04 L629,220.67 L630.6,219.65 L632.2,218.17 L633.8,216.69 L635.4,214.82 L637,213.07 L638.6,211.11" stroke="#a65c16"/>
<path d="M286.6,174.86 L288.2,171.72 L289.8,168.89 L291.4,166.37 L293,163.4 L294.6,161.51 L296.2,160.07 L297.8,159.85 L299.4,159.29 L301,157.89 L302.6,156.87 L304.2,155.69 L305.8,155.32 L307.4,156.28 L309,157.63 L310.6,159.31 L312.2,161.62 L313.8,163.69 L315.4,166.53 L317,169.1 L318.6,172.2 L320.2,175.07 L321.8,177.59 L323.4,179.93 L325,182.81 L326.6,185.43 L328.2,188.07 L329.8,190.6 L331.4,193.35 L333,196.12 L334.6,198.62 L336.2,201.59 L337.8,204.05 L339.4,206.76 L341,209.31 L342.6,212.02 L344.2,214.89 L345.8,217.14 L347.4,219.57 L349,222.1 L350.6,224.58 L352.2,226.01 L353.8,227.63 L355.4,228.8 L357,230.02 L358.6,230.77 L360.2,230.73 L361.8,229.99 L363.4,227.97 L365,226.12 L366.6,223.97 L368.2,222.36 L369.8,220.55 L371.4,219.68 L373,219.01 L374.6,218.37 L376.2,217.87 L377.8,216.68 L379.4,215.44 L381,214.23 L382.6,212.98 L384.2,211.25 L385.8,209.4 L387.4,207.5 L389,205.33 L390.6,202.99 L392.2,200.75 L393.8,198.31 L395.4,196.1 L397,193.91 L398.6,191.19 L400.2,188.78 L401.8,186.37 L403.4,183.77 L405,181 L406.6,178.76 L408.2,176.82 L409.8,174.69 L411.4,173.14 L413,171.98 L414.6,170.57 L416.2,168.57 L417.8,166.91 L419.4,165.5 L421,163.71 L422.6,162.41 L424.2,160.78 L425.8,159.83 L427.4,158.62 L429,157.71 L430.6,156.93 L432.2,155.85 L433.8,155 L435.4,154.35 L437,154.27 L438.6,155 L440.2,155.65 L441.8,156.96 L443.4,158.16 L445,159.95 L446.6,161.76 L448.2,164.61 L449.8,167.03 L451.4,170.01 L453,172.87 L454.6,175.58 L456.2,177.93 L457.8,180.77 L459.4,183.48 L461,185.81 L462.6,189.04 L464.2,192.11 L465.8,195.17 L467.4,198.33 L469,201.52 L470.6,204.93 L472.2,208.67 L473.8,211.9 L475.4,215.07 L477,218.02 L478.6,220.11 L480.2,221.88 L481.8,223.09 L483.4,224.02 L485,224.68 L486.6,225.59 L488.2,225.7 L489.8,225.44 L491.4,225.33 L493,225.01 L494.6,224.48 L496.2,224.03 L497.8,223.16 L499.4,221.95 L501,220.79 L502.6,219.51 L504.2,217.68 L505.8,216.36 L507.4,214.2 L509,212.83 L510.6,211.26 L512.2,209.94 L513.8,208.09 L515.4,206.23 L517,204.4 L518.6,201.91 L520.2,199.13 L521.8,196.71 L523.4,193.95 L525,191.42 L526.6,188.82 L528.2,186.54 L529.8,183.5 L531.4,180.7 L533,177.78 L534.6,174.94 L536.2,172.52 L537.8,169.56 L539.4,166.9 L541,164.26 L542.6,161.8 L544.2,159.24 L545.8,157.09 L547.4,155.21 L549,153.34 L550.6,151.68 L552.2,150.35 L553.8,148.89 L555.4,147.71 L557,147.41 L558.6,147.7 L560.2,148.13 L561.8,148.85 L563.4,149.89 L565,151.23 L566.6,152.55 L568.2,154.28 L569.8,156.45 L571.4,158.64 L573,161.18 L574.6,164.38 L576.2,167.79 L577.8,171 L579.4,174.29 L581,177.63 L582.6,180.99 L584.2,184.58 L585.8,187.54 L587.4,190.72 L589,193.47 L590.6,196.05 L592.2,198.48 L593.8,201.08 L595.4,203.69 L597,206.61 L598.6,209.52 L600.2,212.24 L601.8,214.55 L603.4,216.79 L605,218.85 L606.6,221.09 L608.2,222.69 L609.8,224.18 L611.4,225.82 L613,227.23 L614.6,228.48 L616.2,229.65 L617.8,230.08 L619.4,229.76 L621,229.16 L622.6,227.66 L624.2,226.63 L625.8,224.89 L627.4,223.89 L629,222.68 L630.6,221.36 L632.2,219.82 L633.8,218.47 L635.4,216.56 L637,214.57 L638.6,212.15" stroke="#861c05"/>
<path d="M286.6,152.24 L287.9,152.92 L289.2,153.24 L290.5,152.61 L291.8,153.95 L293.1,153.39 L294.4,153.77 L295.7,154 L297,154.78 L298.3,154.77 L299.6,156.18 L300.9,157.21 L302.2,158.33 L303.5,159.67 L304.8,161.57 L306.1,163.87 L307.4,166.07 L308.7,168.1 L310,169.31 L311.3,172.93 L312.6,176.19 L313.9,178.59 L315.2,181.48 L316.5,186.02 L317.8,187.23 L319.1,190.24 L320.4,192.03 L321.7,193.7 L323,196.28 L324.3,198.24 L325.6,200.82 L326.9,203.92 L328.2,204.6 L329.5,207.27 L330.8,210.07 L332.1,212.12 L333.4,213.33 L334.7,216.28 L336,218.95 L337.3,222.63 L338.6,224.16 L339.9,225.68 L341.2,227.93 L342.5,229.79 L343.8,231.03 L345.1,233 L346.4,232.84 L347.7,232.14 L349,231.99 L350.3,232.15 L351.6,231.98 L352.9,230.49 L354.2,228.59 L355.5,228.54 L356.8,227.94 L358.1,226.47 L359.4,226.24 L360.7,224.82 L362,224.42 L363.3,223.56 L364.6,222.81 L365.9,222.42 L367.2,221.37 L368.5,220.94 L369.8,220.49 L371.1,219.2 L372.4,219.45 L373.7,219.02 L375,217.11 L376.3,217.06 L377.6,214.81 L378.9,213.99 L380.2,212.74 L381.5,211.8 L382.8,209.88 L384.1,206.74 L385.4,204.99 L386.7,201.5 L388,199.12 L389.3,197.28 L390.6,193.2 L391.9,190.85 L393.2,188.23 L394.5,183.6 L395.8,181.8 L397.1,178.51 L398.4,176.02 L399.7,174.52 L401,172.7 L402.3,169.46 L403.6,168.32 L404.9,166.89 L406.2,165.38 L407.5,164.18 L408.8,162.56 L410.1,161.32 L411.4,158.66 L412.7,158.03 L414,157.62 L415.3,156.4 L416.6,155.02 L417.9,153.27 L419.2,153.06 L420.5,151.63 L421.8,151.92 L423.1,151.99 L424.4,152.52 L425.7,152.38 L427,153.82 L428.3,154.01 L429.6,154.88 L430.9,156.04 L432.2,156.73 L433.5,156.67 L434.8,159.17 L436.1,158.87 L437.4,161.35 L438.7,162.68 L440,165.09 L441.3,168.57 L442.6,169.55 L443.9,171.74 L445.2,175.28 L446.5,176.87 L447.8,180.25 L449.1,182.69 L450.4,185.9 L451.7,187.79 L453,190.54 L454.3,193.43 L455.6,196.64 L456.9,199 L458.2,202.23 L459.5,205.27 L460.8,208.18 L462.1,211.62 L463.4,214.55 L464.7,216.11 L466,218.54 L467.3,221.03 L468.6,222.93 L469.9,223.96 L471.2,224.61 L472.5,226.64 L473.8,227.48 L475.1,228.21 L476.4,229.15 L477.7,227.71 L479,228.09 L480.3,228.46 L481.6,227.84 L482.9,228.12 L484.2,226.46 L485.5,226.93 L486.8,224.65 L488.1,225.53 L489.4,224.02 L490.7,222.54 L492,222.16 L493.3,222.62 L494.6,221.28 L495.9,220.47 L497.2,219.75 L498.5,217.18 L499.8,215.98 L501.1,214.53 L502.4,213.58 L503.7,211.84 L505,208.74 L506.3,208 L507.6,204.17 L508.9,200.66 L510.2,197.21 L511.5,194.77 L512.8,191.88 L514.1,189.27 L515.4,187.19 L516.7,186.52 L518,183.85 L519.3,181.72 L520.6,180.74 L521.9,177.96 L523.2,176.33 L524.5,173.61 L525.8,171.7 L527.1,170.92 L528.4,168.09 L529.7,165.77 L531,163.87 L532.3,161.69 L533.6,159.24 L534.9,156.79 L536.2,154.22 L537.5,151.83 L538.8,150.42 L540.1,150.06 L541.4,148.49 L542.7,148.81 L544,147.34 L545.3,146.29 L546.6,146.27 L547.9,147.25 L549.2,147.4 L550.5,149.21 L551.8,149.21 L553.1,149.12 L554.4,149.92 L555.7,152.23 L557,152.53 L558.3,152.87 L559.6,154.49 L560.9,154.15 L562.2,157.2 L563.5,159.24 L564.8,160.7 L566.1,161.54 L567.4,164.17 L568.7,166.86 L570,168.77 L571.3,170.68 L572.6,173.32 L573.9,175.61 L575.2,179.04 L576.5,181.03 L577.8,184.11 L579.1,187.54 L580.4,190.17 L581.7,192.05 L583,195.19 L584.3,196.64 L585.6,200.36 L586.9,202.36 L588.2,203.82 L589.5,206.7 L590.8,207.79 L592.1,211.17 L593.4,211.82 L594.7,214.64 L596,216.22 L597.3,218.14 L598.6,219.5 L599.9,220.06 L601.2,222.08 L602.5,224.38 L603.8,226.46 L605.1,227.68 L606.4,227.87 L607.7,229.73 L609,231.02 L610.3,232.01 L611.6,230.43 L612.9,229.03 L614.2,226.84 L615.5,224.73 L616.8,224.23 L618.1,224.54 L619.4,223.25 L620.7,222.87 L622,222.54 L623.3,220.26 L624.6,220.07 L625.9,216.94 L627.2,215.4 L628.5,214.66 L629.8,212.97 L631.1,211.01 L632.4,210.1 L633.7,209.88 L635,208.7 L636.3,207.62 L637.6,207 L638.8,206.9" stroke="#f8c4f8" stroke-width="2.6"/>
</g>
<rect x="488.6" y="231.4" width="113.8" height="18" rx="3" fill="#fff" fill-opacity="0.8" stroke="#d0d0d0" stroke-width="1"/>
<line x1="493.3" y1="239.9" x2="510.6" y2="239.9" stroke="#f8c4f8" stroke-width="2.6"/>
<text transform="translate(516.40,245.20) scale(0.977,1.000)" font-size="15" text-anchor="start" fill="#111">Temperature</text>
<rect x="284.0" y="136.4" width="355.5" height="116.5" fill="none" stroke="#1a1a1a" stroke-width="1.2"/>
<line x1="279.0" y1="149.35" x2="284.0" y2="149.35" stroke="#1a1a1a" stroke-width="1.15"/>
<text transform="translate(274.40,154.85) scale(0.950,1.070)" font-size="15" text-anchor="end" fill="#111">1.0</text>
<line x1="279.0" y1="192.50" x2="284.0" y2="192.50" stroke="#1a1a1a" stroke-width="1.15"/>
<text transform="translate(274.40,198.00) scale(0.950,1.070)" font-size="15" text-anchor="end" fill="#111">0.0</text>
<line x1="279.0" y1="235.65" x2="284.0" y2="235.65" stroke="#1a1a1a" stroke-width="1.15"/>
<text transform="translate(274.40,241.15) scale(0.950,1.070)" font-size="15" text-anchor="end" fill="#111">-1.0</text>
<line x1="639.5" y1="252.90" x2="644.5" y2="252.90" stroke="#1a1a1a" stroke-width="1.15"/>
<text transform="translate(647.70,258.40) scale(1.000,1.070)" font-size="15" text-anchor="start" fill="#111">0</text>
<line x1="639.5" y1="221.30" x2="644.5" y2="221.30" stroke="#1a1a1a" stroke-width="1.15"/>
<text transform="translate(647.70,226.80) scale(1.000,1.070)" font-size="15" text-anchor="start" fill="#111">10</text>
<line x1="639.5" y1="189.70" x2="644.5" y2="189.70" stroke="#1a1a1a" stroke-width="1.15"/>
<text transform="translate(647.70,195.20) scale(1.000,1.070)" font-size="15" text-anchor="start" fill="#111">20</text>
<line x1="639.5" y1="158.10" x2="644.5" y2="158.10" stroke="#1a1a1a" stroke-width="1.15"/>
<text transform="translate(647.70,163.60) scale(1.000,1.070)" font-size="15" text-anchor="start" fill="#111">30</text>
<line x1="284.00" y1="252.9" x2="284.00" y2="257.9" stroke="#1a1a1a" stroke-width="1.15"/>
<line x1="294.97" y1="252.9" x2="294.97" y2="255.9" stroke="#1a1a1a" stroke-width="1.15"/>
<line x1="305.93" y1="252.9" x2="305.93" y2="255.9" stroke="#1a1a1a" stroke-width="1.15"/>
<line x1="316.54" y1="252.9" x2="316.54" y2="257.9" stroke="#1a1a1a" stroke-width="1.15"/>
<line x1="327.51" y1="252.9" x2="327.51" y2="255.9" stroke="#1a1a1a" stroke-width="1.15"/>
<line x1="338.12" y1="252.9" x2="338.12" y2="255.9" stroke="#1a1a1a" stroke-width="1.15"/>
<line x1="349.09" y1="252.9" x2="349.09" y2="257.9" stroke="#1a1a1a" stroke-width="1.15"/>
<line x1="360.05" y1="252.9" x2="360.05" y2="255.9" stroke="#1a1a1a" stroke-width="1.15"/>
<line x1="370.31" y1="252.9" x2="370.31" y2="255.9" stroke="#1a1a1a" stroke-width="1.15"/>
<line x1="381.28" y1="252.9" x2="381.28" y2="257.9" stroke="#1a1a1a" stroke-width="1.15"/>
<line x1="391.89" y1="252.9" x2="391.89" y2="255.9" stroke="#1a1a1a" stroke-width="1.15"/>
<line x1="402.85" y1="252.9" x2="402.85" y2="255.9" stroke="#1a1a1a" stroke-width="1.15"/>
<line x1="413.47" y1="252.9" x2="413.47" y2="257.9" stroke="#1a1a1a" stroke-width="1.15"/>
<line x1="424.43" y1="252.9" x2="424.43" y2="255.9" stroke="#1a1a1a" stroke-width="1.15"/>
<line x1="435.40" y1="252.9" x2="435.40" y2="255.9" stroke="#1a1a1a" stroke-width="1.15"/>
<line x1="446.01" y1="252.9" x2="446.01" y2="257.9" stroke="#1a1a1a" stroke-width="1.15"/>
<line x1="456.97" y1="252.9" x2="456.97" y2="255.9" stroke="#1a1a1a" stroke-width="1.15"/>
<line x1="467.59" y1="252.9" x2="467.59" y2="255.9" stroke="#1a1a1a" stroke-width="1.15"/>
<line x1="478.55" y1="252.9" x2="478.55" y2="257.9" stroke="#1a1a1a" stroke-width="1.15"/>
<line x1="489.52" y1="252.9" x2="489.52" y2="255.9" stroke="#1a1a1a" stroke-width="1.15"/>
<line x1="499.42" y1="252.9" x2="499.42" y2="255.9" stroke="#1a1a1a" stroke-width="1.15"/>
<line x1="510.39" y1="252.9" x2="510.39" y2="257.9" stroke="#1a1a1a" stroke-width="1.15"/>
<line x1="521.00" y1="252.9" x2="521.00" y2="255.9" stroke="#1a1a1a" stroke-width="1.15"/>
<line x1="531.97" y1="252.9" x2="531.97" y2="255.9" stroke="#1a1a1a" stroke-width="1.15"/>
<line x1="542.58" y1="252.9" x2="542.58" y2="257.9" stroke="#1a1a1a" stroke-width="1.15"/>
<line x1="553.54" y1="252.9" x2="553.54" y2="255.9" stroke="#1a1a1a" stroke-width="1.15"/>
<line x1="564.51" y1="252.9" x2="564.51" y2="255.9" stroke="#1a1a1a" stroke-width="1.15"/>
<line x1="575.12" y1="252.9" x2="575.12" y2="257.9" stroke="#1a1a1a" stroke-width="1.15"/>
<line x1="586.09" y1="252.9" x2="586.09" y2="255.9" stroke="#1a1a1a" stroke-width="1.15"/>
<line x1="596.70" y1="252.9" x2="596.70" y2="255.9" stroke="#1a1a1a" stroke-width="1.15"/>
<line x1="607.66" y1="252.9" x2="607.66" y2="257.9" stroke="#1a1a1a" stroke-width="1.15"/>
<line x1="618.63" y1="252.9" x2="618.63" y2="255.9" stroke="#1a1a1a" stroke-width="1.15"/>
<line x1="628.53" y1="252.9" x2="628.53" y2="255.9" stroke="#1a1a1a" stroke-width="1.15"/>
<line x1="639.50" y1="252.9" x2="639.50" y2="257.9" stroke="#1a1a1a" stroke-width="1.15"/>
<text transform="translate(242.40,194.30) rotate(-90) scale(1.025,1.000)" font-size="15" text-anchor="middle" fill="#111">Thermal dv/v [%]</text>
<text transform="translate(681.20,194.00) rotate(-90)" font-size="15" text-anchor="middle" fill="#111">Temperature [&#176;C]</text>
<text transform="translate(212.00,139.00)" font-size="16" text-anchor="start" fill="#111" font-weight="bold">c</text>
<path d="M333.4,379.7 L333.4,377.4 L335.2,377.4 L335.2,379.7 Z M336.1,379.7 L336.1,371.5 L338.0,371.5 L338.0,379.7 Z M338.0,379.7 L338.0,369.2 L340.4,369.2 L340.4,379.7 Z M344.5,379.7 L344.5,372.7 L345.8,372.7 L345.8,379.7 Z M345.8,379.7 L345.8,352.3 L348.0,352.3 L348.0,379.7 Z M366.7,379.7 L366.7,377.1 L368.5,377.1 L368.5,379.7 Z M372.0,379.7 L372.0,372.7 L374.9,372.7 L374.9,379.7 Z M377.0,379.7 L377.0,373.3 L379.0,373.3 L379.0,379.7 Z M382.5,379.7 L382.5,358.1 L384.8,358.1 L384.8,379.7 Z M385.4,379.7 L385.4,377.1 L388.9,377.1 L388.9,379.7 Z M476.5,379.7 L476.5,377.5 L478.0,377.5 L478.0,379.7 Z M487.5,379.7 L487.5,378.0 L489.0,378.0 L489.0,379.7 Z M547.7,379.7 L547.7,377.0 L549.5,377.0 L549.5,379.7 Z M549.5,379.7 L549.5,376.1 L552.4,376.1 L552.4,379.7 Z M566.4,379.7 L566.4,377.9 L568.2,377.9 L568.2,379.7 Z M582.7,379.7 L582.7,378.0 L584.5,378.0 L584.5,379.7 Z M600.2,379.7 L600.2,376.1 L602.3,376.1 L602.3,379.7 Z M603.2,379.7 L603.2,372.0 L605.5,372.0 L605.5,379.7 Z M605.5,379.7 L605.5,371.4 L607.6,371.4 L607.6,379.7 Z" fill="#7d9aba" stroke="#7d9aba" stroke-width="0.6"/>
<g fill="none" stroke-width="2.1" stroke-linejoin="round">
<path d="M293.7,342.83 L294.5,342.29 L295.3,340.87 L296.1,339.42 L296.9,338.75 L297.7,338.78 L298.5,339.01 L299.3,338.88 L300.1,337.84 L300.9,335.36 L301.7,333.72 L302.5,332.48 L303.3,331.99 L304.1,330.87 L304.9,330.86 L305.7,330.94 L306.5,330.19 L307.3,329.91 L308.1,330.92 L308.9,332 L309.7,332.64 L310.5,331.09 L311.3,329.71 L312.1,329.07 L312.9,327.78 L313.7,326.77 L314.5,326.52 L315.3,325.18 L316.1,326.47 L316.9,333.8 L317.5,339.04" stroke="#0b3196"/>
<path d="M326.4,333.84 L327.2,333.51 L328,334.11 L328.8,333.97 L329.6,331.91 L330.4,330.63 L331.2,329.57 L332,328.48 L332.8,328.33 L333.6,329.71 L334.4,331.11 L335.2,330.05 L336,328.66 L336.8,328.38 L337.6,328.76 L338.4,328.86 L339.2,328.49 L340,328.11 L340.8,326.89 L341.6,325.89 L342.4,326.1 L343.2,326.88 L344,327.55 L344.8,327.42 L345.6,327.16 L346.4,326.96 L347.2,327.21 L348,328.12 L348.8,329.67 L349.6,330.65 L350.4,331.79 L351.2,333.89 L352,335.35 L352.8,336.32 L353.6,335.86 L354.4,334.87 L355.2,333.88 L356,332.88 L356.8,331.95 L357.6,332.27 L358.4,333.36 L359.2,333.52 L360,332.3 L360.8,331.48 L361.6,331.52 L362.4,331.42 L363.2,330.46 L364,329.4 L364.8,329.58 L365.6,331.08 L366.4,331.37 L367.2,329.5 L368,327.05 L368.8,325.44 L369.6,326.1 L370.4,326.72 L371.2,327.52 L372,328.3 L372.8,329.02 L373.6,329.68 L374.4,330.07 L375.2,328.86 L376,326.77 L376.8,326.46 L377.6,326.51 L378.4,326.52 L379.2,326.1 L380,324.47 L380.8,322.79 L381.6,322.29 L382.4,324.44 L383.2,325.73 L384,328.19 L384.8,330.93 L385.6,333.82 L386.4,335.16 L387.2,334.49 L388,334.24 L388.8,334.41 L389.6,334.48 L390.4,333.73 L391.2,332.68 L392,330.8 L392.8,329.13 L393.6,331.52 L394.4,335.24 L395.2,337.2 L396,335.92 L396.8,334.9 L397.6,335.18 L398.4,335.79 L399.2,335.62 L400,333.8 L400.8,333.09 L401.6,333.4 L402.4,334.12 L403.2,334.37 L404,333.91 L404.8,333.55 L405.6,333.46 L406.4,332.84 L407.2,332.5 L408,331.92 L408.8,330.69 L409.6,329.73 L410.4,329.12 L411.2,329.78 L412,329.75 L412.8,329.02 L413.6,329.11 L414.4,329.98 L415.2,330.19 L416,329.24 L416.8,328.3 L417.6,328.53 L418.4,329.02 L419.2,329.4 L420,329.55 L420.8,328.03 L421.6,326.42 L422.4,325.36 L423.2,324.55 L424,324.1 L424.8,323.58 L425.6,323.77 L426.4,323.61 L427.2,322.91 L428,322.9 L428.8,323.53 L429.6,323.48 L430.4,322.06 L431.2,321.35 L432,321.15 L432.8,320.5 L433.6,321.14 L434.4,323.47 L435.2,325.53 L436,325.65 L436.8,325.76 L437.6,324.84 L438.4,323.8 L439.2,323.98 L440,325.43 L440.8,325.93 L441.6,324.9 L442.4,324.24 L443.2,323.83 L444,323.42 L444.8,322.88 L445.6,321.34 L446.4,319.08 L447.2,318.82 L448,320.23 L448.8,320.83 L449.6,319.24 L450.4,317.78 L451.2,318.14 L452,318.63 L452.8,318.37 L453.6,317.96 L454.4,317.6 L455.2,317.21 L456,317 L456.8,318.03 L457.6,318.83 L458.4,318.6 L459.2,317.9 L460,317.68 L460.8,318.76 L461.6,319.96 L462.4,320.12 L463.2,320.94 L464,321.3 L464.8,320.47 L465.6,319.61 L466.4,319.98 L467.2,320.47 L468,320.97 L468.8,321.57 L469.6,321.95 L470.4,322.03 L471.2,322.52 L472,322.5 L472.8,322.17 L473.6,322.25 L474.4,321.09 L475.2,319.85 L476,317.1 L476.8,314.32 L477.6,314.56 L478.4,316.34 L479.2,317.1 L480,316.62 L480.8,315.7 L481.6,314.58 L482.4,313.42 L483.2,312.98 L484,312.61 L484.8,315.06 L485.6,317.13 L486.4,319.3 L487.2,323.16 L488,324.81 L488.8,323.05 L489.6,321.3 L490.4,320.2 L491.2,317.81 L492,317.35 L492.8,319.37 L493.6,321.58 L494.4,323.61 L495.2,325.8 L496,326.77 L496.8,325.4 L497.6,323.86 L498.4,322.94 L499.2,322.78 L500,322.73 L500.8,323.85 L501.6,325.18 L502.4,327.4 L503.2,329.61 L504,331.38 L504.8,331.26 L505.6,330.59 L506.4,329.84 L507.2,328.71 L508,326.32 L508.8,324.95 L509.6,325.23 L510.4,325.22 L511.2,324.09 L512,322.59 L512.8,321.48 L513.6,320.99 L514.4,322.13 L515.2,323.32 L516,322.57 L516.8,321.58 L517.6,320.01 L518.4,318.43 L519.2,318.55 L520,319.66 L520.8,319.93 L521.6,318.84 L522.4,318.55 L523.2,317.81 L524,316.25 L524.8,314.86 L525.6,314.61 L526.4,315.35 L527.2,315.78 L528,316.51 L528.8,318.24 L529.6,319.5 L530.4,318.2 L531.2,317.46 L532,316.73 L532.8,314.67 L533.2,313.63" stroke="#0b3196"/>
<path d="M536.9,309.67 L537.7,311.14 L538.5,313.29 L539.3,314.98 L540.1,316.11 L540.9,316.73 L541.7,317.04 L542.5,316.8 L543.3,315.18 L544.1,314.93 L544.9,316.83 L545.7,317.95 L546.5,316.86 L547.3,315.79 L548.1,314.89 L548.9,314.57 L549.7,316.39 L550.5,318.92 L551.3,320.55 L552.1,320.83 L552.9,321.02 L553.3,322.01" stroke="#0b3196"/>
<path d="M557,318.11 L557.8,319.79 L558.6,321.06 L559.4,319.53 L560.2,318.48 L561,317.97 L561.8,317.2 L562.6,316.63 L563.4,316.06 L564.2,315.41 L565,314.41 L565.8,313.61 L566.6,313.1 L567.4,313.01 L568.2,312.97 L569,313.64 L569.8,314.47 L570.6,314.61 L571.4,314.25 L572.2,313.7 L573,313.88 L573.8,314.57 L574.6,314.39 L575.4,313.97 L576.2,313.69 L577,313.66 L577.8,313.63 L578.6,312.74 L579.4,311.69 L580.2,311.99 L581,312.88 L581.8,313 L582.6,312.36 L583.4,311.74 L584.2,311.92 L585,312.58 L585.8,313.03 L586.6,313.32 L587.4,313.22 L588.2,312.02 L589,310.08 L589.8,310.12 L590.6,310.5 L591.4,312.17 L592.2,314.99 L593,317.1 L593.8,316.26 L594.6,315.19 L595.4,315.39 L596.2,315.28 L596.6,315.23" stroke="#0b3196"/>
<path d="M598.3,315.02 L599.1,314.88 L599.9,316.06 L600.7,318.11 L601.5,320.94 L602.3,324.24 L603.1,322.75 L603.9,319.3 L604.7,316.55 L605.5,314.77 L606.3,313.27 L607.1,313.71 L607.9,315.24 L608.7,316 L609.5,315.31 L610.3,315.03 L611.1,314.69 L611.9,311.78 L612.7,308.95 L613.5,306.1 L614.3,302.08 L615.1,303.58 L615.9,308.18 L616.7,313.51 L617.5,316.34 L618.3,313.43 L619.1,310.11 L619.9,307.22 L620.7,305.38 L621.5,307.67 L622.3,311.53 L623.1,314.53 L623.9,314.73 L624.7,314.94 L625.5,316.38 L626.3,318.61 L627.1,320.64 L627.9,322.18 L628.7,320.99 L629.5,318.03 L630.3,314.48 L631.1,313.62 L631.9,317.92 L632.7,321.46 L632.7,321.46" stroke="#0b3196"/>
<path d="M293.7,347 L294.5,346.09 L295.3,343.14 L296.1,341.09 L296.9,341.34 L297.7,341.94 L298.5,341.71 L299.3,341.25 L300.1,340.82 L300.9,338.96 L301.7,337.98 L302.5,337.41 L303.3,336.29 L304.1,334.35 L304.9,333.25 L305.7,332.16 L306.5,331.8 L307.3,332.85 L308.1,334.33 L308.9,335.04 L309.7,335.84 L310.5,335.31 L311.3,334.67 L312.1,333.9 L312.9,332.41 L313.7,330.72 L314.5,329.81 L315.3,329.69 L316.1,332.22 L316.9,338.23 L317.5,342.21" stroke="#2a78be"/>
<path d="M326.4,328.66 L327.2,330.1 L328,331.09 L328.8,331.09 L329.6,329.14 L330.4,328.16 L331.2,327.45 L332,326.45 L332.8,326.2 L333.6,327.59 L334.4,329.17 L335.2,328.17 L336,326.67 L336.8,326.43 L337.6,327.19 L338.4,327.5 L339.2,326.38 L340,325.27 L340.8,324.06 L341.6,323.11 L342.4,323.86 L343.2,325.17 L344,326.88 L344.8,327.93 L345.6,328.09 L346.4,327.88 L347.2,328.01 L348,328.71 L348.8,330.32 L349.6,331.93 L350.4,333.36 L351.2,334.92 L352,335.78 L352.8,335.85 L353.6,334.61 L354.4,334.07 L355.2,333.46 L356,332.5 L356.8,331.61 L357.6,331.37 L358.4,332.79 L359.2,333.41 L360,332.75 L360.8,332.14 L361.6,332.04 L362.4,332.26 L363.2,332.38 L364,331.69 L364.8,330.61 L365.6,331.05 L366.4,331.94 L367.2,330.75 L368,327.35 L368.8,324.79 L369.6,325.45 L370.4,326.32 L371.2,327.57 L372,329.02 L372.8,330.09 L373.6,330.79 L374.4,331.36 L375.2,330.41 L376,328.65 L376.8,328.06 L377.6,327.65 L378.4,327.6 L379.2,327.2 L380,325.87 L380.8,324.47 L381.6,323.48 L382.4,325.25 L383.2,327.51 L384,331.19 L384.8,334.35 L385.6,335.73 L386.4,336.63 L387.2,336.15 L388,335.57 L388.8,334.93 L389.6,334.38 L390.4,333.29 L391.2,332.12 L392,330.83 L392.8,329.92 L393.6,331.12 L394.4,333.48 L395.2,335.43 L396,334.68 L396.8,333.46 L397.6,333.42 L398.4,334.05 L399.2,334.03 L400,332.09 L400.8,330.9 L401.6,331.03 L402.4,332 L403.2,332.32 L404,331.62 L404.8,331.47 L405.6,332.81 L406.4,333.11 L407.2,332.16 L408,330.97 L408.8,329.76 L409.6,329.06 L410.4,328.81 L411.2,329.73 L412,329.6 L412.8,328.65 L413.6,328.13 L414.4,328.16 L415.2,328.47 L416,328.58 L416.8,327.84 L417.6,326.83 L418.4,326.17 L419.2,325.24 L420,324.46 L420.8,324.75 L421.6,324.96 L422.4,324.15 L423.2,323.59 L424,323.35 L424.8,323.03 L425.6,322.18 L426.4,320.55 L427.2,319.22 L428,319.12 L428.8,320.6 L429.6,322.38 L430.4,321.67 L431.2,319.77 L432,318.6 L432.8,317.83 L433.6,318.34 L434.4,320.24 L435.2,321.86 L436,321.95 L436.8,322.04 L437.6,321.41 L438.4,320.86 L439.2,321.01 L440,322.25 L440.8,323.13 L441.6,322.83 L442.4,322.48 L443.2,321.96 L444,321.15 L444.8,319.68 L445.6,317.59 L446.4,315.9 L447.2,316 L448,316.31 L448.8,315.82 L449.6,315.8 L450.4,315.92 L451.2,315.16 L452,314.16 L452.8,314.02 L453.6,314.24 L454.4,314.13 L455.2,313.93 L456,313.67 L456.8,314.41 L457.6,315.22 L458.4,315.32 L459.2,314.77 L460,314.37 L460.8,315.39 L461.6,317.34 L462.4,318.32 L463.2,317.93 L464,317.16 L464.8,317.28 L465.6,317.63 L466.4,317.66 L467.2,317.29 L468,317.42 L468.8,317.91 L469.6,318.62 L470.4,319.52 L471.2,320.16 L472,319.11 L472.8,318.1 L473.6,319.04 L474.4,319.02 L475.2,317.82 L476,314.66 L476.8,311.29 L477.6,310.53 L478.4,312.21 L479.2,313.19 L480,311.82 L480.8,310.19 L481.6,309.88 L482.4,310.14 L483.2,310.28 L484,310.43 L484.8,312.13 L485.6,313.13 L486.4,314.63 L487.2,318.31 L488,319.67 L488.8,318.3 L489.6,316.94 L490.4,314.91 L491.2,312.05 L492,311.76 L492.8,314.11 L493.6,316.37 L494.4,318.78 L495.2,321.68 L496,323.77 L496.8,323.16 L497.6,321.89 L498.4,320.76 L499.2,319.6 L500,319.01 L500.8,320.82 L501.6,322.61 L502.4,323.71 L503.2,324.81 L504,326.5 L504.8,326.6 L505.6,326.24 L506.4,325.8 L507.2,324.32 L508,321.39 L508.8,318.83 L509.6,317.5 L510.4,317.27 L511.2,317.3 L512,317.03 L512.8,316.28 L513.6,315.99 L514.4,316.68 L515.2,317.45 L516,317.53 L516.8,317.42 L517.6,315.83 L518.4,314.25 L519.2,314.05 L520,314.74 L520.8,315.29 L521.6,314.71 L522.4,314.04 L523.2,312.65 L524,311.15 L524.8,310.57 L525.6,310.91 L526.4,311.91 L527.2,312.46 L528,312.67 L528.8,314.05 L529.6,316.16 L530.4,316.19 L531.2,314.64 L532,312.92 L532.8,310.24 L533.2,309.03" stroke="#2a78be"/>
<path d="M536.9,308.1 L537.7,308.76 L538.5,309.72 L539.3,310.92 L540.1,312.24 L540.9,312.88 L541.7,312.85 L542.5,312.66 L543.3,312.33 L544.1,313 L544.9,313.43 L545.7,313.1 L546.5,312.89 L547.3,312.68 L548.1,311.49 L548.9,310.6 L549.7,312.32 L550.5,314.92 L551.3,316.8 L552.1,317.35 L552.9,317.62 L553.3,318.56" stroke="#2a78be"/>
<path d="M557,314.39 L557.8,316.14 L558.6,318.12 L559.4,317.12 L560.2,315.36 L561,313.92 L561.8,313.79 L562.6,313.88 L563.4,313.62 L564.2,313.23 L565,312.16 L565.8,311.2 L566.6,310 L567.4,308.91 L568.2,308.9 L569,310.66 L569.8,311.89 L570.6,311.3 L571.4,310.33 L572.2,309.67 L573,309.79 L573.8,310.55 L574.6,310.47 L575.4,310.84 L576.2,311.38 L577,311.14 L577.8,310.75 L578.6,310.16 L579.4,309.54 L580.2,309.96 L581,310.83 L581.8,310.98 L582.6,310.35 L583.4,309.14 L584.2,308.49 L585,308.36 L585.8,308.73 L586.6,309.1 L587.4,308.74 L588.2,307.23 L589,305.02 L589.8,304.79 L590.6,305.54 L591.4,308.03 L592.2,310.54 L593,311.95 L593.8,310.94 L594.6,310.03 L595.4,310.75 L596.2,311.59 L596.6,311.68" stroke="#2a78be"/>
<path d="M598.3,310.3 L599.1,310.49 L599.9,312.24 L600.7,314.13 L601.5,316.55 L602.3,318.92 L603.1,316.71 L603.9,313.24 L604.7,311.16 L605.5,310.1 L606.3,308.84 L607.1,308.89 L607.9,309 L608.7,308.55 L609.5,308.51 L610.3,308.88 L611.1,308.34 L611.9,305.75 L612.7,303.27 L613.5,300.77 L614.3,297.3 L615.1,298.95 L615.9,303.03 L616.7,307.52 L617.5,309.88 L618.3,306.92 L619.1,303.81 L619.9,301.55 L620.7,299.85 L621.5,300.58 L622.3,303.04 L623.1,306.72 L623.9,308.03 L624.7,307.37 L625.5,307.87 L626.3,310.04 L627.1,312.13 L627.9,313.25 L628.7,311.54 L629.5,309.26 L630.3,307.29 L631.1,306.83 L631.9,309.67 L632.7,312.74 L632.7,312.74" stroke="#2a78be"/>
<path d="M293.7,347.19 L294.5,346.66 L295.3,345.08 L296.1,343.66 L296.9,343.31 L297.7,343.48 L298.5,343.28 L299.3,342.88 L300.1,342.7 L300.9,341.07 L301.7,338.8 L302.5,336.93 L303.3,336.23 L304.1,334.95 L304.9,333.95 L305.7,332.76 L306.5,332.61 L307.3,334.04 L308.1,335.74 L308.9,336.49 L309.7,337.26 L310.5,336.6 L311.3,335.89 L312.1,335.29 L312.9,333.96 L313.7,332.35 L314.5,331.51 L315.3,330.72 L316.1,332.57 L316.9,339.24 L317.5,343.85" stroke="#4db6d2"/>
<path d="M326.4,328.86 L327.2,330.36 L328,330.73 L328.8,331.07 L329.6,329.59 L330.4,327.83 L331.2,325.91 L332,324.33 L332.8,323.9 L333.6,324.83 L334.4,325.71 L335.2,324.68 L336,324.26 L336.8,324.84 L337.6,325.55 L338.4,325.85 L339.2,325.09 L340,324.33 L340.8,323.01 L341.6,321.96 L342.4,322.54 L343.2,323.63 L344,325.59 L344.8,327.01 L345.6,327.57 L346.4,327.75 L347.2,328.3 L348,329.46 L348.8,330.98 L349.6,331.65 L350.4,332.62 L351.2,335.15 L352,336.85 L352.8,336.83 L353.6,335.55 L354.4,335.04 L355.2,334.43 L356,333.3 L356.8,332.24 L357.6,331.39 L358.4,332.6 L359.2,333.94 L360,334.56 L360.8,334.19 L361.6,333.31 L362.4,333.06 L363.2,333.23 L364,332.28 L364.8,330.19 L365.6,329.76 L366.4,330.88 L367.2,329.95 L368,326.82 L368.8,324.53 L369.6,325.47 L370.4,326.7 L371.2,327.32 L372,327.88 L372.8,329.46 L373.6,331.45 L374.4,332.41 L375.2,330.92 L376,329.22 L376.8,329.37 L377.6,329.25 L378.4,328.6 L379.2,327.75 L380,326.73 L380.8,325.66 L381.6,324.64 L382.4,326.45 L383.2,329.43 L384,333.97 L384.8,337.38 L385.6,337.95 L386.4,338.11 L387.2,336.95 L388,335.92 L388.8,335.07 L389.6,334.29 L390.4,332.88 L391.2,331.37 L392,329.78 L392.8,328.77 L393.6,329.9 L394.4,332.13 L395.2,333.77 L396,332.97 L396.8,331.16 L397.6,330.45 L398.4,331.25 L399.2,331.7 L400,330.73 L400.8,330.71 L401.6,331.04 L402.4,331.31 L403.2,331.7 L404,332.37 L404.8,332.99 L405.6,333.16 L406.4,332.3 L407.2,331.25 L408,329.95 L408.8,328.6 L409.6,327.86 L410.4,326.83 L411.2,326.81 L412,327.3 L412.8,327.5 L413.6,326.81 L414.4,325.91 L415.2,326.1 L416,326.94 L416.8,326.8 L417.6,326.11 L418.4,325.88 L419.2,325.46 L420,325 L420.8,324.25 L421.6,323.43 L422.4,323.13 L423.2,323.07 L424,322.38 L424.8,321.46 L425.6,320.66 L426.4,319.3 L427.2,318.18 L428,318.29 L428.8,319.43 L429.6,320.38 L430.4,319.5 L431.2,318.58 L432,318.1 L432.8,317.21 L433.6,317.61 L434.4,319.34 L435.2,320.8 L436,321.15 L436.8,321.5 L437.6,320.48 L438.4,319.53 L439.2,319.28 L440,320.13 L440.8,320.72 L441.6,320.19 L442.4,320.06 L443.2,320.2 L444,319.76 L444.8,318.2 L445.6,316.09 L446.4,314.65 L447.2,314.89 L448,314.68 L448.8,313.67 L449.6,313.15 L450.4,312.77 L451.2,312.93 L452,313.07 L452.8,312.81 L453.6,312.49 L454.4,311.99 L455.2,311.59 L456,311.53 L456.8,312.83 L457.6,313.75 L458.4,313.06 L459.2,312.31 L460,313.55 L460.8,315.79 L461.6,316.09 L462.4,315.48 L463.2,316.61 L464,317.39 L464.8,317.12 L465.6,316.77 L466.4,316.93 L467.2,316.97 L468,316.92 L468.8,316.86 L469.6,317.45 L470.4,318.67 L471.2,319.49 L472,318.38 L472.8,317.1 L473.6,317.33 L474.4,316.99 L475.2,316.71 L476,314.25 L476.8,310.73 L477.6,309.63 L478.4,309.44 L479.2,308.42 L480,307.62 L480.8,307.72 L481.6,308.45 L482.4,309.18 L483.2,309.47 L484,309.8 L484.8,311.55 L485.6,313.21 L486.4,315.08 L487.2,317.88 L488,318.28 L488.8,316.21 L489.6,314.14 L490.4,312.74 L491.2,310.74 L492,309.74 L492.8,311.19 L493.6,313.23 L494.4,315.84 L495.2,318.62 L496,320.47 L496.8,319.95 L497.6,319.01 L498.4,318.15 L499.2,317.15 L500,316.74 L500.8,318.72 L501.6,320.66 L502.4,321.68 L503.2,322.7 L504,324.74 L504.8,325.31 L505.6,324.13 L506.4,322.67 L507.2,321.47 L508,319.28 L508.8,316.17 L509.6,313.49 L510.4,312.75 L511.2,313.12 L512,313.62 L512.8,313.86 L513.6,314.1 L514.4,313.91 L515.2,313.88 L516,314.35 L516.8,314.64 L517.6,313.41 L518.4,312.19 L519.2,311.99 L520,312.63 L520.8,312.85 L521.6,311.85 L522.4,311.15 L523.2,310.08 L524,309.05 L524.8,309.06 L525.6,309.6 L526.4,310.2 L527.2,310.56 L528,311.14 L528.8,312.79 L529.6,314.57 L530.4,314.51 L531.2,312.7 L532,310.65 L532.8,308.3 L533.2,307.34" stroke="#4db6d2"/>
<path d="M536.9,305.36 L537.7,306.31 L538.5,307.56 L539.3,308.9 L540.1,310.23 L540.9,310.67 L541.7,310.07 L542.5,309.34 L543.3,308.52 L544.1,308.95 L544.9,310.83 L545.7,311.97 L546.5,311.41 L547.3,310.86 L548.1,310.49 L548.9,310.53 L549.7,312.14 L550.5,314.28 L551.3,315.67 L552.1,315.66 L552.9,315.5 L553.3,316.3" stroke="#4db6d2"/>
<path d="M557,312.73 L557.8,314.19 L558.6,316.39 L559.4,315.66 L560.2,314.42 L561,313.4 L561.8,313.03 L562.6,312.89 L563.4,313.21 L564.2,313.49 L565,311.95 L565.8,310.13 L566.6,308.51 L567.4,307.26 L568.2,306.55 L569,307.08 L569.8,307.87 L570.6,308.12 L571.4,307.99 L572.2,308.23 L573,309.14 L573.8,309.91 L574.6,309.85 L575.4,309.25 L576.2,308.84 L577,308.86 L577.8,308.9 L578.6,308.84 L579.4,308.74 L580.2,309.07 L581,309.5 L581.8,309.25 L582.6,308.22 L583.4,306.74 L584.2,306.42 L585,306.42 L585.8,306.63 L586.6,306.93 L587.4,306.35 L588.2,304.6 L589,303.35 L589.8,304.08 L590.6,303.75 L591.4,305.06 L592.2,307.38 L593,308.92 L593.8,308.08 L594.6,307.37 L595.4,308.67 L596.2,310.48 L596.6,310.91" stroke="#4db6d2"/>
<path d="M598.3,308.85 L599.1,307.93 L599.9,308.54 L600.7,310.59 L601.5,313.61 L602.3,315.85 L603.1,313.34 L603.9,310.21 L604.7,309.06 L605.5,309 L606.3,308.53 L607.1,309.03 L607.9,308.92 L608.7,308.09 L609.5,306.69 L610.3,305.7 L611.1,305.02 L611.9,302.55 L612.7,300.55 L613.5,298.59 L614.3,295.41 L615.1,297.04 L615.9,300.84 L616.7,304.93 L617.5,306.9 L618.3,303.57 L619.1,300.44 L619.9,298.73 L620.7,297.31 L621.5,297.29 L622.3,298.92 L623.1,301.55 L623.9,302.01 L624.7,302.38 L625.5,303.89 L626.3,306.26 L627.1,308.42 L627.9,309.99 L628.7,308.87 L629.5,306.67 L630.3,304.55 L631.1,304 L631.9,306.48 L632.7,309.37 L632.7,309.37" stroke="#4db6d2"/>
<path d="M293.7,346.11 L294.5,345.55 L295.3,343.59 L296.1,342.02 L296.9,341.9 L297.7,342.33 L298.5,342.55 L299.3,342.38 L300.1,341.21 L300.9,338.6 L301.7,337.55 L302.5,336.91 L303.3,335.83 L304.1,333.94 L304.9,333.35 L305.7,332.91 L306.5,332.19 L307.3,332.3 L308.1,333.59 L308.9,334.87 L309.7,335.91 L310.5,335.11 L311.3,334.05 L312.1,332.44 L312.9,330.34 L313.7,329.58 L314.5,329.59 L315.3,328.8 L316.1,330.66 L316.9,337.23 L317.5,341.76" stroke="#b9e4c0"/>
<path d="M326.4,325.8 L327.2,328.41 L328,329 L328.8,329.29 L329.6,327.72 L330.4,326.37 L331.2,325.02 L332,324.11 L332.8,324.42 L333.6,325.54 L334.4,326.12 L335.2,324.54 L336,323.16 L336.8,323.13 L337.6,324.24 L338.4,324.81 L339.2,323.52 L340,322.22 L340.8,321.54 L341.6,321.17 L342.4,322.16 L343.2,323.57 L344,325.6 L344.8,326.98 L345.6,328.1 L346.4,329.23 L347.2,329.71 L348,329.79 L348.8,330.83 L349.6,332.07 L350.4,333.3 L351.2,335.24 L352,336.47 L352.8,336.78 L353.6,335.91 L354.4,335.76 L355.2,335.46 L356,332.91 L356.8,330.23 L357.6,329.26 L358.4,331.6 L359.2,333.25 L360,333.71 L360.8,333.52 L361.6,333.17 L362.4,332.96 L363.2,332.39 L364,331.06 L364.8,329.97 L365.6,330.33 L366.4,330.96 L367.2,329.61 L368,327.48 L368.8,326.18 L369.6,326.41 L370.4,326.75 L371.2,327.36 L372,328.31 L372.8,330.37 L373.6,332.81 L374.4,334.19 L375.2,333.03 L376,331.25 L376.8,330.16 L377.6,329.09 L378.4,329.06 L379.2,328.67 L380,326.83 L380.8,324.93 L381.6,324.95 L382.4,327.86 L383.2,331.11 L384,335.81 L384.8,339.91 L385.6,340.24 L386.4,340.48 L387.2,339.58 L388,338.45 L388.8,337.14 L389.6,335.69 L390.4,333.27 L391.2,330.75 L392,328.22 L392.8,326.69 L393.6,328.17 L394.4,330.64 L395.2,332.35 L396,331.98 L396.8,330.9 L397.6,330.97 L398.4,331.52 L399.2,331.4 L400,330.05 L400.8,329.64 L401.6,329.68 L402.4,329.86 L403.2,330.61 L404,332.39 L404.8,333.79 L405.6,333.71 L406.4,332.43 L407.2,330.96 L408,329.26 L408.8,327.46 L409.6,326.41 L410.4,326.68 L411.2,328.11 L412,328.53 L412.8,328.15 L413.6,326.72 L414.4,324.98 L415.2,324.76 L416,325.6 L416.8,325.47 L417.6,324.78 L418.4,324.57 L419.2,323.94 L420,323.3 L420.8,322.54 L421.6,321.73 L422.4,321.18 L423.2,320.89 L424,320.1 L424.8,319.11 L425.6,318.9 L426.4,318.34 L427.2,317.77 L428,318.3 L428.8,319.01 L429.6,318.7 L430.4,317.15 L431.2,316.53 L432,316.19 L432.8,315.08 L433.6,315.37 L434.4,317.62 L435.2,319.6 L436,319.28 L436.8,318.96 L437.6,318.14 L438.4,317.63 L439.2,317.52 L440,318.39 L440.8,319.09 L441.6,318.72 L442.4,318.12 L443.2,317.18 L444,316.4 L444.8,315.74 L445.6,314.3 L446.4,312.79 L447.2,313 L448,312.96 L448.8,312.11 L449.6,311.52 L450.4,311.06 L451.2,310.53 L452,309.89 L452.8,309.4 L453.6,309.01 L454.4,309.26 L455.2,310.23 L456,310.77 L456.8,311.92 L457.6,312.69 L458.4,311.75 L459.2,310.61 L460,311.19 L460.8,312.97 L461.6,314.24 L462.4,314.64 L463.2,314.51 L464,314.08 L464.8,313.93 L465.6,313.85 L466.4,314.3 L467.2,314.62 L468,315.24 L468.8,316.07 L469.6,316.72 L470.4,317.18 L471.2,317.45 L472,316.12 L472.8,314.57 L473.6,314.7 L474.4,314.51 L475.2,314.31 L476,311.62 L476.8,308.55 L477.6,307.63 L478.4,306.89 L479.2,305.34 L480,304.8 L480.8,305.76 L481.6,306.78 L482.4,307.24 L483.2,306.89 L484,306.7 L484.8,307.7 L485.6,309.32 L486.4,311.39 L487.2,314.58 L488,315.29 L488.8,313.79 L489.6,312.31 L490.4,309.86 L491.2,307.1 L492,305.87 L492.8,307.2 L493.6,309.55 L494.4,312.88 L495.2,315.8 L496,317.58 L496.8,317.13 L497.6,316.31 L498.4,315.73 L499.2,315.29 L500,315.29 L500.8,317.19 L501.6,318.96 L502.4,319.15 L503.2,319.35 L504,320.38 L504.8,320.13 L505.6,319.08 L506.4,317.88 L507.2,317.09 L508,315.39 L508.8,313.24 L509.6,311.78 L510.4,311.39 L511.2,311.24 L512,311.21 L512.8,310.24 L513.6,309.89 L514.4,310.88 L515.2,311.76 L516,311.99 L516.8,312.07 L517.6,311.17 L518.4,310.26 L519.2,310.15 L520,310.8 L520.8,310.4 L521.6,308.57 L522.4,307.55 L523.2,306.64 L524,305.63 L524.8,305.54 L525.6,306 L526.4,306.56 L527.2,307.06 L528,308.21 L528.8,310.34 L529.6,311.86 L530.4,311.85 L531.2,310.02 L532,307.85 L532.8,304.56 L533.2,303.15" stroke="#b9e4c0"/>
<path d="M536.9,303.96 L537.7,304.65 L538.5,305.84 L539.3,306.63 L540.1,306.9 L540.9,306.9 L541.7,306.89 L542.5,306.85 L543.3,307.04 L544.1,308.2 L544.9,308.9 L545.7,308.85 L546.5,308.05 L547.3,307.26 L548.1,307.31 L548.9,307.82 L549.7,308.9 L550.5,310.17 L551.3,311.77 L552.1,312.56 L552.9,312.74 L553.3,313.49" stroke="#b9e4c0"/>
<path d="M557,311.69 L557.8,313.85 L558.6,315.74 L559.4,314.74 L560.2,313.49 L561,312.3 L561.8,311.38 L562.6,310.71 L563.4,310.88 L564.2,311.07 L565,309.22 L565.8,307.02 L566.6,305.86 L567.4,305.58 L568.2,305.47 L569,306.25 L569.8,306.93 L570.6,306.45 L571.4,305.75 L572.2,305.92 L573,306.77 L573.8,307.33 L574.6,307.09 L575.4,306.96 L576.2,307.05 L577,306.81 L577.8,306.47 L578.6,306.49 L579.4,306.56 L580.2,306.88 L581,307.22 L581.8,306.89 L582.6,305.77 L583.4,304.32 L584.2,304.74 L585,305.1 L585.8,304.85 L586.6,304.89 L587.4,304.41 L588.2,302.72 L589,300.37 L589.8,300.01 L590.6,300.48 L591.4,303.09 L592.2,305.79 L593,307.39 L593.8,307.04 L594.6,307.09 L595.4,308.08 L596.2,308.56 L596.6,308.11" stroke="#b9e4c0"/>
<path d="M598.3,305.56 L599.1,305.38 L599.9,306.93 L600.7,308.44 L601.5,310.41 L602.3,312.43 L603.1,310.53 L603.9,307.22 L604.7,305.06 L605.5,304.48 L606.3,303.86 L607.1,304.12 L607.9,304 L608.7,303.21 L609.5,302.44 L610.3,302.08 L611.1,301.12 L611.9,298.7 L612.7,295.8 L613.5,292.81 L614.3,290.41 L615.1,293.12 L615.9,297.24 L616.7,301.25 L617.5,302.96 L618.3,299.19 L619.1,295.87 L619.9,294.41 L620.7,293.22 L621.5,293.29 L622.3,294.95 L623.1,297.88 L623.9,298.91 L624.7,298.38 L625.5,298.95 L626.3,301.27 L627.1,303.5 L627.9,304.54 L628.7,302.74 L629.5,300.52 L630.3,298.87 L631.1,298.97 L631.9,301.8 L632.7,304.81 L632.7,304.81" stroke="#b9e4c0"/>
<path d="M293.7,345.09 L294.5,344.48 L295.3,343.23 L296.1,341.98 L296.9,341.53 L297.7,341.56 L298.5,341.13 L299.3,340.51 L300.1,340.23 L300.9,338.51 L301.7,336.81 L302.5,335.53 L303.3,335.1 L304.1,334.06 L304.9,333.07 L305.7,331.81 L306.5,331.25 L307.3,332.07 L308.1,333.67 L308.9,334.84 L309.7,335.7 L310.5,334.6 L311.3,333.48 L312.1,332.52 L312.9,330.94 L313.7,329.72 L314.5,329.28 L315.3,329.69 L316.1,332.73 L316.9,337.76 L317.5,340.84" stroke="#d1b25a"/>
<path d="M326.4,323.5 L327.2,326.75 L328,327.15 L328.8,327.32 L329.6,325.64 L330.4,324.46 L331.2,323.37 L332,322.03 L332.8,321.5 L333.6,322.46 L334.4,323.6 L335.2,322.51 L336,321.48 L336.8,321.69 L337.6,322.56 L338.4,322.93 L339.2,321.79 L340,320.66 L340.8,319.52 L341.6,318.71 L342.4,320.8 L343.2,323.49 L344,325.72 L344.8,326.92 L345.6,328.1 L346.4,329.42 L347.2,330.5 L348,331.57 L348.8,333.07 L349.6,333.94 L350.4,334.78 L351.2,336.31 L352,337.21 L352.8,337.76 L353.6,337.2 L354.4,336.22 L355.2,335.06 L356,333.42 L356.8,331.93 L357.6,330.93 L358.4,333.5 L359.2,334.7 L360,334.32 L360.8,333.67 L361.6,333.21 L362.4,333.12 L363.2,333.05 L364,331.84 L364.8,330.07 L365.6,329.83 L366.4,330.51 L367.2,329.25 L368,326.07 L368.8,323.72 L369.6,324.98 L370.4,326.73 L371.2,327.63 L372,328.59 L372.8,330.84 L373.6,333.5 L374.4,335 L375.2,333.84 L376,332.08 L376.8,330.62 L377.6,329.13 L378.4,329.04 L379.2,328.6 L380,326.51 L380.8,324.35 L381.6,324.91 L382.4,328.42 L383.2,332.43 L384,337.95 L384.8,341.43 L385.6,339.64 L386.4,339.5 L387.2,339.24 L388,338.24 L388.8,336.58 L389.6,335.03 L390.4,332.87 L391.2,330.73 L392,329.04 L392.8,328.26 L393.6,328.05 L394.4,328.75 L395.2,329.57 L396,328.63 L396.8,328.45 L397.6,329.6 L398.4,330.35 L399.2,330.16 L400,328.6 L400.8,327.81 L401.6,327.74 L402.4,328.15 L403.2,329.05 L404,330.84 L404.8,332.48 L405.6,333.22 L406.4,332.47 L407.2,330.85 L408,328.98 L408.8,327.42 L409.6,326.74 L410.4,326.22 L411.2,326.63 L412,326.7 L412.8,326.19 L413.6,325.51 L414.4,325.01 L415.2,324.8 L416,324.45 L416.8,323.53 L417.6,322.75 L418.4,322.59 L419.2,322.22 L420,321.82 L420.8,321.3 L421.6,320.72 L422.4,320.4 L423.2,320.33 L424,319.98 L424.8,319.47 L425.6,318.48 L426.4,316.72 L427.2,315.65 L428,316.1 L428.8,317.21 L429.6,317.8 L430.4,316.43 L431.2,314.75 L432,313.65 L432.8,312.74 L433.6,313.24 L434.4,315.66 L435.2,317.8 L436,316.93 L436.8,316.06 L437.6,315.06 L438.4,314.51 L439.2,314.98 L440,316.64 L440.8,317.1 L441.6,315.86 L442.4,315.33 L443.2,315.4 L444,315.15 L444.8,314.22 L445.6,312.58 L446.4,311.04 L447.2,311.26 L448,311.5 L448.8,310.92 L449.6,309.53 L450.4,308.27 L451.2,307.57 L452,306.87 L452.8,306.79 L453.6,306.94 L454.4,306.82 L455.2,306.99 L456,307.51 L456.8,309.41 L457.6,310.97 L458.4,310.74 L459.2,309.88 L460,309.63 L460.8,310.7 L461.6,312.1 L462.4,312.68 L463.2,312.22 L464,311.49 L464.8,311.33 L465.6,311.26 L466.4,312.25 L467.2,313.31 L468,314.1 L468.8,314.73 L469.6,315 L470.4,314.91 L471.2,314.96 L472,313.92 L472.8,312.7 L473.6,313.54 L474.4,314.12 L475.2,313.35 L476,309.83 L476.8,306.83 L477.6,305.75 L478.4,304.93 L479.2,303.42 L480,302.75 L480.8,303.88 L481.6,304.93 L482.4,305.15 L483.2,304.45 L484,304.27 L484.8,304.64 L485.6,305.63 L486.4,307.53 L487.2,311.47 L488,312.68 L488.8,310.88 L489.6,309.09 L490.4,306.88 L491.2,304.62 L492,303.71 L492.8,305.36 L493.6,307.26 L494.4,310.12 L495.2,312.96 L496,315.03 L496.8,314.51 L497.6,313.21 L498.4,312.05 L499.2,310.87 L500,310.45 L500.8,312.79 L501.6,315.07 L502.4,316.34 L503.2,317.6 L504,318.75 L504.8,318.78 L505.6,317.03 L506.4,314.96 L507.2,314 L508,312.37 L508.8,310.08 L509.6,308.33 L510.4,307.53 L511.2,306.85 L512,306.95 L512.8,306.63 L513.6,306.92 L514.4,308.42 L515.2,309.59 L516,309.16 L516.8,308.62 L517.6,308.3 L518.4,307.99 L519.2,307.53 L520,307.67 L520.8,307.81 L521.6,306.87 L522.4,305.9 L523.2,304.7 L524,303.54 L524.8,303.45 L525.6,303.58 L526.4,303.31 L527.2,303.55 L528,306.1 L528.8,309.41 L529.6,310.63 L530.4,310.62 L531.2,308.03 L532,304.99 L532.8,301.21 L533.2,299.63" stroke="#d1b25a"/>
<path d="M536.9,301.84 L537.7,302.36 L538.5,302.83 L539.3,303.55 L540.1,304.42 L540.9,304.81 L541.7,304.8 L542.5,304.85 L543.3,305.35 L544.1,306.75 L544.9,307.23 L545.7,306.98 L546.5,307.21 L547.3,307.45 L548.1,306.32 L548.9,305.25 L549.7,306.76 L550.5,309.12 L551.3,310.53 L552.1,310.3 L552.9,310.12 L553.3,311.01" stroke="#d1b25a"/>
<path d="M557,309.28 L557.8,310.85 L558.6,313.4 L559.4,313.05 L560.2,312.38 L561,311.64 L561.8,310.24 L562.6,309.08 L563.4,308.93 L564.2,308.82 L565,307.15 L565.8,305.28 L566.6,303.74 L567.4,302.66 L568.2,302.34 L569,303.51 L569.8,304.33 L570.6,303.6 L571.4,302.74 L572.2,303.06 L573,304.05 L573.8,304.6 L574.6,304.36 L575.4,303.89 L576.2,303.64 L577,304.45 L577.8,305.36 L578.6,305.46 L579.4,305.17 L580.2,304.86 L581,304.41 L581.8,304.26 L582.6,304.25 L583.4,302.78 L584.2,301.79 L585,301 L585.8,300.75 L586.6,301.02 L587.4,301.41 L588.2,300.55 L589,297.71 L589.8,296.85 L590.6,297.05 L591.4,299.64 L592.2,302.21 L593,303.64 L593.8,303.25 L594.6,303.35 L595.4,304.85 L596.2,306.33 L596.6,306.19" stroke="#d1b25a"/>
<path d="M598.3,301.86 L599.1,301.99 L599.9,304.12 L600.7,306.07 L601.5,308.45 L602.3,309.34 L603.1,305.7 L603.9,301.94 L604.7,300.62 L605.5,301.01 L606.3,301.25 L607.1,301.84 L607.9,301.03 L608.7,299.62 L609.5,298.97 L610.3,298.74 L611.1,296.67 L611.9,293.47 L612.7,291.73 L613.5,290.16 L614.3,287.57 L615.1,289.29 L615.9,293.25 L616.7,297.68 L617.5,300.06 L618.3,297.21 L619.1,293.95 L619.9,291.09 L620.7,288.85 L621.5,288.8 L622.3,290.16 L623.1,292.13 L623.9,292.45 L624.7,292.89 L625.5,294.42 L626.3,297.08 L627.1,299.55 L627.9,300.81 L628.7,299.24 L629.5,296.83 L630.3,294.84 L631.1,295.03 L631.9,297.97 L632.7,300.7 L632.7,300.7" stroke="#d1b25a"/>
<path d="M293.7,343.71 L294.5,343.02 L295.3,341.81 L296.1,340.24 L296.9,338.87 L297.7,338.44 L298.5,338.91 L299.3,339 L300.1,338.17 L300.9,335.89 L301.7,334.29 L302.5,333.09 L303.3,332.83 L304.1,331.98 L304.9,331.76 L305.7,331.47 L306.5,330.66 L307.3,330.5 L308.1,331.77 L308.9,333.27 L309.7,334.22 L310.5,332.78 L311.3,331.59 L312.1,331.37 L312.9,330.35 L313.7,328.49 L314.5,327.41 L315.3,327.39 L316.1,330 L316.9,335.84 L317.5,339.67" stroke="#a65c16"/>
<path d="M326.4,320.21 L327.2,325.24 L328,325.71 L328.8,325.48 L329.6,323.33 L330.4,321.63 L331.2,320 L332,318.71 L332.8,318.55 L333.6,319.93 L334.4,321.64 L335.2,321.15 L336,320.8 L336.8,321.34 L337.6,321.28 L338.4,320.77 L339.2,319.32 L340,317.86 L340.8,317 L341.6,316.52 L342.4,319.28 L343.2,322.6 L344,326.04 L344.8,328.6 L345.6,330.15 L346.4,331.23 L347.2,332.34 L348,333.71 L348.8,335.39 L349.6,336.38 L350.4,337.26 L351.2,338.83 L352,339.7 L352.8,339.78 L353.6,338.9 L354.4,338.17 L355.2,337.17 L356,334.3 L356.8,331.44 L357.6,329.18 L358.4,331.91 L359.2,334.27 L360,335.65 L360.8,335.73 L361.6,334.97 L362.4,334.62 L363.2,334.36 L364,332.72 L364.8,330.34 L365.6,329.49 L366.4,329.84 L367.2,328.35 L368,325.9 L368.8,324.28 L369.6,324.83 L370.4,325.82 L371.2,327.48 L372,329.9 L372.8,332.16 L373.6,333.81 L374.4,335.47 L375.2,335.54 L376,334.86 L376.8,333.37 L377.6,331.48 L378.4,331.12 L379.2,330.51 L380,328.48 L380.8,326.39 L381.6,326.4 L382.4,329.51 L383.2,335.17 L384,342.69 L384.8,347.35 L385.6,344.34 L386.4,343.37 L387.2,342.53 L388,340.81 L388.8,338.31 L389.6,336.03 L390.4,333.25 L391.2,330.48 L392,328.26 L392.8,327.41 L393.6,326.41 L394.4,326.12 L395.2,327.45 L396,327.68 L396.8,326.76 L397.6,326.89 L398.4,328 L399.2,328.66 L400,327.04 L400.8,325.38 L401.6,325.38 L402.4,326.95 L403.2,328.07 L404,328.49 L404.8,329.41 L405.6,331.07 L406.4,330.81 L407.2,329.15 L408,327.25 L408.8,325.63 L409.6,325.17 L410.4,324.64 L411.2,324.85 L412,325.69 L412.8,326.29 L413.6,325.18 L414.4,323.36 L415.2,322.42 L416,321.94 L416.8,320.89 L417.6,319.89 L418.4,319.88 L419.2,320.15 L420,320.32 L420.8,319.79 L421.6,319.25 L422.4,318.18 L423.2,317.36 L424,316.43 L424.8,315.36 L425.6,315.37 L426.4,315.11 L427.2,314.24 L428,314.16 L428.8,314.65 L429.6,314.6 L430.4,312.71 L431.2,310.74 L432,309.44 L432.8,308.76 L433.6,309.39 L434.4,311.04 L435.2,312.42 L436,312.55 L436.8,312.69 L437.6,311.91 L438.4,311.65 L439.2,311.94 L440,313.25 L440.8,313.74 L441.6,312.78 L442.4,312.31 L443.2,312.22 L444,311.52 L444.8,309.67 L445.6,307.38 L446.4,305.97 L447.2,306.34 L448,306.88 L448.8,306.6 L449.6,305.72 L450.4,304.97 L451.2,304.86 L452,304.79 L452.8,303.67 L453.6,302.22 L454.4,301.77 L455.2,302.62 L456,303.66 L456.8,305.94 L457.6,307.74 L458.4,307.31 L459.2,305.93 L460,304.36 L460.8,304.32 L461.6,306.06 L462.4,307.07 L463.2,307.32 L464,307.4 L464.8,307.69 L465.6,307.96 L466.4,309.23 L467.2,310.54 L468,311.24 L468.8,311.53 L469.6,311.93 L470.4,312.48 L471.2,313.19 L472,312.8 L472.8,311.51 L473.6,310.67 L474.4,310.41 L475.2,310.95 L476,308.17 L476.8,303.49 L477.6,300.23 L478.4,299.22 L479.2,298.02 L480,296.34 L480.8,296.71 L481.6,298.66 L482.4,300.4 L483.2,300.19 L484,300.42 L484.8,300.07 L485.6,300.63 L486.4,302.33 L487.2,305.93 L488,306.53 L488.8,304.1 L489.6,301.68 L490.4,299.68 L491.2,298.19 L492,297.22 L492.8,298.79 L493.6,300.29 L494.4,303.17 L495.2,306.68 L496,310.05 L496.8,310.5 L497.6,309.63 L498.4,308.93 L499.2,308.25 L500,307.97 L500.8,309.14 L501.6,310.48 L502.4,312.29 L503.2,314.1 L504,312.83 L504.8,310.8 L505.6,309.55 L506.4,308.32 L507.2,307.43 L508,305.65 L508.8,303.36 L509.6,301.66 L510.4,300.61 L511.2,299.37 L512,299.98 L512.8,300.69 L513.6,301.67 L514.4,302.66 L515.2,303.4 L516,304.59 L516.8,305.73 L517.6,304.35 L518.4,302.97 L519.2,302.36 L520,302.42 L520.8,302.37 L521.6,301.21 L522.4,300.02 L523.2,298.91 L524,297.74 L524.8,297.51 L525.6,297.92 L526.4,298.7 L527.2,299.55 L528,301.2 L528.8,303.86 L529.6,306.14 L530.4,307.81 L531.2,304.19 L532,299.93 L532.8,296.26 L533.2,294.96" stroke="#a65c16"/>
<path d="M536.9,297.45 L537.7,297.88 L538.5,298.46 L539.3,299.44 L540.1,300.72 L540.9,301.05 L541.7,300.09 L542.5,299.37 L543.3,299.67 L544.1,300.99 L544.9,302.25 L545.7,302.78 L546.5,302.5 L547.3,302.23 L548.1,301.26 L548.9,300.32 L549.7,301.67 L550.5,303.78 L551.3,305.02 L552.1,304.56 L552.9,304.45 L553.3,305.52" stroke="#a65c16"/>
<path d="M557,306.01 L557.8,308.32 L558.6,310.66 L559.4,310.14 L560.2,309.59 L561,308.71 L561.8,307.03 L562.6,305.63 L563.4,305.14 L564.2,304.65 L565,302.55 L565.8,300.25 L566.6,298.63 L567.4,297.69 L568.2,297.49 L569,298.83 L569.8,299.64 L570.6,298.61 L571.4,297.46 L572.2,297.66 L573,298.56 L573.8,299.09 L574.6,298.87 L575.4,298.35 L576.2,298.1 L577,299.61 L577.8,301.31 L578.6,301.92 L579.4,301.92 L580.2,302.22 L581,302.62 L581.8,302.32 L582.6,301.07 L583.4,298.57 L584.2,297.82 L585,296.77 L585.8,295.47 L586.6,294.93 L587.4,294.38 L588.2,292.52 L589,290.95 L589.8,291.36 L590.6,291.02 L591.4,293.28 L592.2,295.86 L593,297.38 L593.8,297.32 L594.6,297.94 L595.4,299.94 L596.2,302 L596.6,301.75" stroke="#a65c16"/>
<path d="M598.3,296.64 L599.1,296.6 L599.9,298.74 L600.7,300.93 L601.5,303.63 L602.3,303.66 L603.1,299.11 L603.9,294.77 L604.7,293.13 L605.5,293.9 L606.3,294.89 L607.1,295.75 L607.9,294.73 L608.7,292.91 L609.5,290.82 L610.3,289.15 L611.1,288.01 L611.9,286.38 L612.7,284.42 L613.5,282.38 L614.3,280.28 L615.1,282.22 L615.9,285.92 L616.7,289.9 L617.5,291.81 L618.3,288.53 L619.1,285.24 L619.9,283.01 L620.7,281.05 L621.5,279.9 L622.3,280.14 L623.1,281.87 L623.9,282.49 L624.7,282.87 L625.5,284.26 L626.3,286.5 L627.1,288.51 L627.9,289.58 L628.7,287.97 L629.5,286.32 L630.3,285.78 L631.1,287.03 L631.9,289.8 L632.7,292.56 L632.7,292.56" stroke="#a65c16"/>
<path d="M293.7,341.74 L294.5,341.1 L295.3,339.88 L296.1,338.61 L296.9,338.07 L297.7,338 L298.5,337.4 L299.3,336.65 L300.1,336.47 L300.9,334.84 L301.7,333.84 L302.5,333.25 L303.3,332.11 L304.1,330.16 L304.9,329.2 L305.7,328.3 L306.5,327.77 L307.3,328.45 L308.1,330 L308.9,331.24 L309.7,332.05 L310.5,330.67 L311.3,329.34 L312.1,328.36 L312.9,326.84 L313.7,326.28 L314.5,326.49 L315.3,325.69 L316.1,327.54 L316.9,333.48 L317.5,337.48" stroke="#861c05"/>
<path d="M326.4,316.11 L327.2,322.76 L328,323.46 L328.8,323.55 L329.6,321.74 L330.4,320.6 L331.2,319.61 L332,317.71 L332.8,316.2 L333.6,317.09 L334.4,319.26 L335.2,319.03 L336,318.57 L336.8,319.11 L337.6,319.19 L338.4,318.72 L339.2,316.74 L340,314.76 L340.8,314.51 L341.6,314.67 L342.4,316.9 L343.2,319.44 L344,323.46 L344.8,327.02 L345.6,329.51 L346.4,331.51 L347.2,332.88 L348,333.83 L348.8,335.48 L349.6,337.15 L350.4,338.41 L351.2,339.56 L352,340.08 L352.8,340.26 L353.6,339.61 L354.4,339.51 L355.2,339.06 L356,334.73 L356.8,330.18 L357.6,328.16 L358.4,332.89 L359.2,335.81 L360,336.93 L360.8,336.65 L361.6,335.46 L362.4,334.71 L363.2,334.13 L364,332.19 L364.8,330.08 L365.6,329.58 L366.4,331 L367.2,330.65 L368,326.54 L368.8,323.27 L369.6,324.86 L370.4,327.4 L371.2,328.6 L372,330.03 L372.8,332.49 L373.6,334.96 L374.4,336.9 L375.2,336.69 L376,336.3 L376.8,335.35 L377.6,333.29 L378.4,331.61 L379.2,330.05 L380,329.24 L380.8,328.38 L381.6,329.32 L382.4,333.45 L383.2,339.53 L384,347.43 L384.8,351.91 L385.6,346.83 L386.4,344.51 L387.2,342.74 L388,340.75 L388.8,338.69 L389.6,336.47 L390.4,333.11 L391.2,329.75 L392,327.07 L392.8,326.17 L393.6,325.07 L394.4,324.53 L395.2,324.34 L396,323.58 L396.8,323.88 L397.6,325.53 L398.4,326.16 L399.2,325.68 L400,324.02 L400.8,322.79 L401.6,322.67 L402.4,323.71 L403.2,325.25 L404,327.68 L404.8,329.85 L405.6,330.38 L406.4,328.94 L407.2,327.68 L408,326.17 L408.8,324.42 L409.6,324.03 L410.4,323.31 L411.2,323.18 L412,323.41 L412.8,323.32 L413.6,322.4 L414.4,321.28 L415.2,320.78 L416,320.46 L416.8,319.25 L417.6,317.48 L418.4,317.02 L419.2,317.38 L420,317.6 L420.8,316.92 L421.6,316.24 L422.4,315.36 L423.2,314.73 L424,314.65 L424.8,314.53 L425.6,313.46 L426.4,311.44 L427.2,310.45 L428,311.29 L428.8,312.33 L429.6,312.51 L430.4,310.82 L431.2,309.01 L432,307.47 L432.8,305.61 L433.6,305.24 L434.4,306.97 L435.2,308.42 L436,307.7 L436.8,306.97 L437.6,306.42 L438.4,306.71 L439.2,307.68 L440,309.71 L440.8,310.59 L441.6,309.81 L442.4,309.19 L443.2,308.63 L444,307.7 L444.8,306.02 L445.6,304.05 L446.4,303.34 L447.2,304.21 L448,303.83 L448.8,302.63 L449.6,301.6 L450.4,300.7 L451.2,300.13 L452,299.59 L452.8,299.48 L453.6,299.51 L454.4,299.43 L455.2,300.16 L456,300.8 L456.8,302.38 L457.6,304.09 L458.4,304.4 L459.2,303.72 L460,302.95 L460.8,303.56 L461.6,304.92 L462.4,305.64 L463.2,305.48 L464,305.22 L464.8,305.44 L465.6,305.64 L466.4,306.69 L467.2,307.73 L468,308.32 L468.8,308.57 L469.6,308.97 L470.4,309.6 L471.2,310.26 L472,309.54 L472.8,307.77 L473.6,306.43 L474.4,306.22 L475.2,307.62 L476,305.25 L476.8,300.97 L477.6,297.71 L478.4,294.86 L479.2,291.74 L480,290.24 L480.8,292.04 L481.6,294.98 L482.4,297.1 L483.2,296.38 L484,295.93 L484.8,294.84 L485.6,296.3 L486.4,298.91 L487.2,302.74 L488,303.32 L488.8,300.5 L489.6,297.7 L490.4,295.5 L491.2,294.26 L492,292.12 L492.8,292.39 L493.6,293.98 L494.4,297.83 L495.2,301.57 L496,304.94 L496.8,305.67 L497.6,305.22 L498.4,304.93 L499.2,304.62 L500,304.73 L500.8,306.24 L501.6,307.73 L502.4,308.48 L503.2,309.23 L504,307.88 L504.8,306.04 L505.6,304.8 L506.4,303.53 L507.2,301.9 L508,299.2 L508.8,296.53 L509.6,294.73 L510.4,293.51 L511.2,292.05 L512,293.19 L512.8,294.7 L513.6,296.62 L514.4,298.86 L515.2,300.36 L516,300.15 L516.8,299.93 L517.6,299.38 L518.4,298.83 L519.2,297.78 L520,297.17 L520.8,297.13 L521.6,296.2 L522.4,295.28 L523.2,294.71 L524,293.49 L524.8,292.63 L525.6,292.91 L526.4,294.46 L527.2,295.91 L528,297.46 L528.8,299.92 L529.6,301.32 L530.4,302.58 L531.2,299.1 L532,294.82 L532.8,290.28 L533.2,288.59" stroke="#861c05"/>
<path d="M536.9,294.29 L537.7,294.82 L538.5,295.64 L539.3,296.38 L540.1,296.95 L540.9,297.2 L541.7,297.18 L542.5,296.86 L543.3,295.9 L544.1,296.06 L544.9,296.99 L545.7,297.2 L546.5,297.3 L547.3,297.41 L548.1,296.99 L548.9,296.52 L549.7,298.17 L550.5,300.52 L551.3,302.33 L552.1,302.54 L552.9,302.74 L553.3,303.79" stroke="#861c05"/>
<path d="M557,303.45 L557.8,305.86 L558.6,308.06 L559.4,307.5 L560.2,307.68 L561,307.3 L561.8,304.98 L562.6,302.96 L563.4,302.77 L564.2,302.73 L565,299.88 L565.8,296.44 L566.6,294.9 L567.4,294.76 L568.2,294.35 L569,294.48 L569.8,294.71 L570.6,294.13 L571.4,293.28 L572.2,293.44 L573,294.52 L573.8,296.53 L574.6,297.82 L575.4,296.87 L576.2,296.21 L577,297.4 L577.8,298.8 L578.6,299.18 L579.4,298.87 L580.2,299.03 L581,299.42 L581.8,299.16 L582.6,297.92 L583.4,295.15 L584.2,294.43 L585,293.19 L585.8,291.6 L586.6,291.04 L587.4,290.81 L588.2,289.21 L589,286.98 L589.8,286.74 L590.6,285.44 L591.4,287.07 L592.2,290.53 L593,293.42 L593.8,293.93 L594.6,294.66 L595.4,296.54 L596.2,298.33 L596.6,297.63" stroke="#861c05"/>
<path d="M598.3,293.84 L599.1,293.19 L599.9,294.64 L600.7,295.55 L601.5,296.78 L602.3,296.7 L603.1,293.38 L603.9,289.61 L604.7,287.86 L605.5,288.7 L606.3,289.49 L607.1,289.96 L607.9,288.8 L608.7,286.83 L609.5,284.87 L610.3,283.32 L611.1,281.74 L611.9,280.19 L612.7,278.91 L613.5,277.65 L614.3,276.16 L615.1,278.22 L615.9,282.13 L616.7,286.47 L617.5,288.01 L618.3,283.65 L619.1,279.52 L619.9,276.88 L620.7,274.53 L621.5,272.87 L622.3,272.47 L623.1,273.54 L623.9,273.93 L624.7,274.68 L625.5,276.4 L626.3,278.56 L627.1,280.41 L627.9,282 L628.7,281.19 L629.5,279.48 L630.3,278.52 L631.1,279.87 L631.9,282.58 L632.7,285.19 L632.7,285.19" stroke="#861c05"/>
</g>
<rect x="488.6" y="347.3" width="114" height="18.4" rx="3" fill="#fff" fill-opacity="0.8" stroke="#d0d0d0" stroke-width="1"/>
<line x1="493.3" y1="356" x2="510.7" y2="356" stroke="#7d9aba" stroke-width="2.4"/>
<text transform="translate(516.60,361.40)" font-size="15" text-anchor="start" fill="#111">Precipitation</text>
<rect x="284.0" y="263.2" width="355.5" height="116.5" fill="none" stroke="#1a1a1a" stroke-width="1.2"/>
<line x1="279.0" y1="281.60" x2="284.0" y2="281.60" stroke="#1a1a1a" stroke-width="1.15"/>
<text transform="translate(274.40,287.10) scale(0.950,1.070)" font-size="15" text-anchor="end" fill="#111">1.0</text>
<line x1="279.0" y1="312.25" x2="284.0" y2="312.25" stroke="#1a1a1a" stroke-width="1.15"/>
<text transform="translate(274.40,317.75) scale(0.950,1.070)" font-size="15" text-anchor="end" fill="#111">0.5</text>
<line x1="279.0" y1="342.90" x2="284.0" y2="342.90" stroke="#1a1a1a" stroke-width="1.15"/>
<text transform="translate(274.40,348.40) scale(0.950,1.070)" font-size="15" text-anchor="end" fill="#111">0.0</text>
<line x1="279.0" y1="373.55" x2="284.0" y2="373.55" stroke="#1a1a1a" stroke-width="1.15"/>
<text transform="translate(274.40,379.05) scale(0.950,1.070)" font-size="15" text-anchor="end" fill="#111">-0.5</text>
<line x1="639.5" y1="379.50" x2="644.5" y2="379.50" stroke="#1a1a1a" stroke-width="1.15"/>
<text transform="translate(647.70,385.00) scale(1.000,1.070)" font-size="15" text-anchor="start" fill="#111">0</text>
<line x1="639.5" y1="364.40" x2="644.5" y2="364.40" stroke="#1a1a1a" stroke-width="1.15"/>
<text transform="translate(647.70,369.90) scale(1.000,1.070)" font-size="15" text-anchor="start" fill="#111">20</text>
<line x1="639.5" y1="349.30" x2="644.5" y2="349.30" stroke="#1a1a1a" stroke-width="1.15"/>
<text transform="translate(647.70,354.80) scale(1.000,1.070)" font-size="15" text-anchor="start" fill="#111">40</text>
<line x1="284.00" y1="379.7" x2="284.00" y2="384.7" stroke="#1a1a1a" stroke-width="1.15"/>
<g transform="translate(282.80,388.00) rotate(-40)"><text x="0" y="13.6" font-size="15" text-anchor="end" fill="#111">07/01/2019</text></g>
<line x1="294.97" y1="379.7" x2="294.97" y2="382.7" stroke="#1a1a1a" stroke-width="1.15"/>
<line x1="305.93" y1="379.7" x2="305.93" y2="382.7" stroke="#1a1a1a" stroke-width="1.15"/>
<line x1="316.54" y1="379.7" x2="316.54" y2="384.7" stroke="#1a1a1a" stroke-width="1.15"/>
<g transform="translate(315.34,388.00) rotate(-40)"><text x="0" y="13.6" font-size="15" text-anchor="end" fill="#111">10/01/2019</text></g>
<line x1="327.51" y1="379.7" x2="327.51" y2="382.7" stroke="#1a1a1a" stroke-width="1.15"/>
<line x1="338.12" y1="379.7" x2="338.12" y2="382.7" stroke="#1a1a1a" stroke-width="1.15"/>
<line x1="349.09" y1="379.7" x2="349.09" y2="384.7" stroke="#1a1a1a" stroke-width="1.15"/>
<g transform="translate(347.89,388.00) rotate(-40)"><text x="0" y="13.6" font-size="15" text-anchor="end" fill="#111">01/01/2020</text></g>
<line x1="360.05" y1="379.7" x2="360.05" y2="382.7" stroke="#1a1a1a" stroke-width="1.15"/>
<line x1="370.31" y1="379.7" x2="370.31" y2="382.7" stroke="#1a1a1a" stroke-width="1.15"/>
<line x1="381.28" y1="379.7" x2="381.28" y2="384.7" stroke="#1a1a1a" stroke-width="1.15"/>
<g transform="translate(380.08,388.00) rotate(-40)"><text x="0" y="13.6" font-size="15" text-anchor="end" fill="#111">04/01/2020</text></g>
<line x1="391.89" y1="379.7" x2="391.89" y2="382.7" stroke="#1a1a1a" stroke-width="1.15"/>
<line x1="402.85" y1="379.7" x2="402.85" y2="382.7" stroke="#1a1a1a" stroke-width="1.15"/>
<line x1="413.47" y1="379.7" x2="413.47" y2="384.7" stroke="#1a1a1a" stroke-width="1.15"/>
<g transform="translate(412.27,388.00) rotate(-40)"><text x="0" y="13.6" font-size="15" text-anchor="end" fill="#111">07/01/2020</text></g>
<line x1="424.43" y1="379.7" x2="424.43" y2="382.7" stroke="#1a1a1a" stroke-width="1.15"/>
<line x1="435.40" y1="379.7" x2="435.40" y2="382.7" stroke="#1a1a1a" stroke-width="1.15"/>
<line x1="446.01" y1="379.7" x2="446.01" y2="384.7" stroke="#1a1a1a" stroke-width="1.15"/>
<g transform="translate(444.81,388.00) rotate(-40)"><text x="0" y="13.6" font-size="15" text-anchor="end" fill="#111">10/01/2020</text></g>
<line x1="456.97" y1="379.7" x2="456.97" y2="382.7" stroke="#1a1a1a" stroke-width="1.15"/>
<line x1="467.59" y1="379.7" x2="467.59" y2="382.7" stroke="#1a1a1a" stroke-width="1.15"/>
<line x1="478.55" y1="379.7" x2="478.55" y2="384.7" stroke="#1a1a1a" stroke-width="1.15"/>
<g transform="translate(477.35,388.00) rotate(-40)"><text x="0" y="13.6" font-size="15" text-anchor="end" fill="#111">01/01/2021</text></g>
<line x1="489.52" y1="379.7" x2="489.52" y2="382.7" stroke="#1a1a1a" stroke-width="1.15"/>
<line x1="499.42" y1="379.7" x2="499.42" y2="382.7" stroke="#1a1a1a" stroke-width="1.15"/>
<line x1="510.39" y1="379.7" x2="510.39" y2="384.7" stroke="#1a1a1a" stroke-width="1.15"/>
<g transform="translate(509.19,388.00) rotate(-40)"><text x="0" y="13.6" font-size="15" text-anchor="end" fill="#111">04/01/2021</text></g>
<line x1="521.00" y1="379.7" x2="521.00" y2="382.7" stroke="#1a1a1a" stroke-width="1.15"/>
<line x1="531.97" y1="379.7" x2="531.97" y2="382.7" stroke="#1a1a1a" stroke-width="1.15"/>
<line x1="542.58" y1="379.7" x2="542.58" y2="384.7" stroke="#1a1a1a" stroke-width="1.15"/>
<g transform="translate(541.38,388.00) rotate(-40)"><text x="0" y="13.6" font-size="15" text-anchor="end" fill="#111">07/01/2021</text></g>
<line x1="553.54" y1="379.7" x2="553.54" y2="382.7" stroke="#1a1a1a" stroke-width="1.15"/>
<line x1="564.51" y1="379.7" x2="564.51" y2="382.7" stroke="#1a1a1a" stroke-width="1.15"/>
<line x1="575.12" y1="379.7" x2="575.12" y2="384.7" stroke="#1a1a1a" stroke-width="1.15"/>
<g transform="translate(573.92,388.00) rotate(-40)"><text x="0" y="13.6" font-size="15" text-anchor="end" fill="#111">10/01/2021</text></g>
<line x1="586.09" y1="379.7" x2="586.09" y2="382.7" stroke="#1a1a1a" stroke-width="1.15"/>
<line x1="596.70" y1="379.7" x2="596.70" y2="382.7" stroke="#1a1a1a" stroke-width="1.15"/>
<line x1="607.66" y1="379.7" x2="607.66" y2="384.7" stroke="#1a1a1a" stroke-width="1.15"/>
<g transform="translate(606.46,388.00) rotate(-40)"><text x="0" y="13.6" font-size="15" text-anchor="end" fill="#111">01/01/2022</text></g>
<line x1="618.63" y1="379.7" x2="618.63" y2="382.7" stroke="#1a1a1a" stroke-width="1.15"/>
<line x1="628.53" y1="379.7" x2="628.53" y2="382.7" stroke="#1a1a1a" stroke-width="1.15"/>
<line x1="639.50" y1="379.7" x2="639.50" y2="384.7" stroke="#1a1a1a" stroke-width="1.15"/>
<g transform="translate(638.30,388.00) rotate(-40)"><text x="0" y="13.6" font-size="15" text-anchor="end" fill="#111">04/01/2022</text></g>
<text transform="translate(242.40,324.20) rotate(-90)" font-size="15" text-anchor="middle" fill="#111">Residual dv/v [%]</text>
<text transform="translate(681.20,326.00) rotate(-90) scale(1.020,1.000)" font-size="15" text-anchor="middle" fill="#111">Precipitation [mm]</text>
<text transform="translate(212.10,265.20)" font-size="16" text-anchor="start" fill="#111" font-weight="bold">d</text>
<text transform="translate(462.00,465.00) scale(1.040,1.000)" font-size="15" text-anchor="middle" fill="#111">Date</text>
</svg></body></html>
